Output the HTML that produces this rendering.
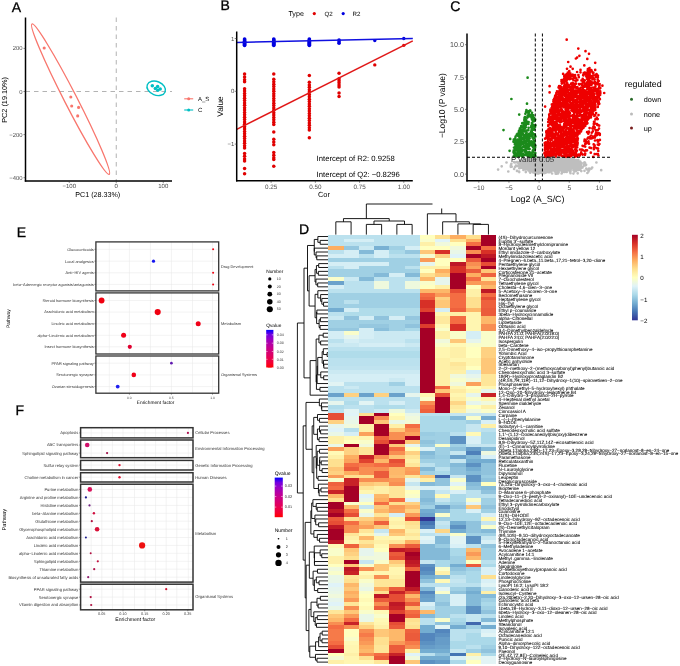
<!DOCTYPE html>
<html><head><meta charset="utf-8"><style>
html,body{margin:0;padding:0;background:#fff;}
svg{display:block;font-family:"Liberation Sans", sans-serif;text-rendering:geometricPrecision;}

</style></head><body>
<div id="w"><svg width="680" height="666" viewBox="0 0 680 666">
<rect width="680" height="666" fill="#fff"/>
<g style="filter:blur(0)">
<text x="11.80" y="12.20" font-size="14" text-anchor="start" fill="#000" stroke="#000" stroke-width="0.3">A</text>
<text x="220.60" y="9.70" font-size="14" text-anchor="start" fill="#000" stroke="#000" stroke-width="0.3">B</text>
<text x="450.30" y="10.50" font-size="14" text-anchor="start" fill="#000" stroke="#000" stroke-width="0.3">C</text>
<text x="298.90" y="233.80" font-size="14" text-anchor="start" fill="#000" stroke="#000" stroke-width="0.3">D</text>
<text x="16.80" y="237.00" font-size="14" text-anchor="start" fill="#000" stroke="#000" stroke-width="0.3">E</text>
<text x="15.60" y="414.70" font-size="14" text-anchor="start" fill="#000" stroke="#000" stroke-width="0.3">F</text>
<line x1="116.25" y1="17.50" x2="116.25" y2="180.90" stroke="#b3b3b3" stroke-width="1.0" stroke-dasharray="4.5,4"/>
<line x1="25.50" y1="91.50" x2="172.00" y2="91.50" stroke="#b3b3b3" stroke-width="1.0" stroke-dasharray="4.5,4"/>
<ellipse cx="70.6" cy="99.2" rx="84.5" ry="6.3" transform="rotate(62.8 70.6 99.2)" fill="none" stroke="#F8766D" stroke-width="1.3"/>
<circle cx="44.20" cy="48.00" r="1.55" fill="#F8766D"/>
<circle cx="70.80" cy="97.00" r="1.55" fill="#F8766D"/>
<circle cx="71.70" cy="106.00" r="1.55" fill="#F8766D"/>
<circle cx="78.60" cy="107.40" r="1.55" fill="#F8766D"/>
<circle cx="77.70" cy="115.90" r="1.55" fill="#F8766D"/>
<ellipse cx="156.2" cy="88.3" rx="9.6" ry="6.8" transform="rotate(22 156.2 88.3)" fill="none" stroke="#00BFC4" stroke-width="1.4"/>
<circle cx="152.30" cy="85.80" r="1.75" fill="#00BFC4"/>
<circle cx="155.30" cy="88.40" r="1.75" fill="#00BFC4"/>
<circle cx="157.60" cy="86.60" r="1.75" fill="#00BFC4"/>
<circle cx="157.80" cy="90.30" r="1.75" fill="#00BFC4"/>
<circle cx="160.20" cy="89.00" r="1.75" fill="#00BFC4"/>
<line x1="25.50" y1="17.50" x2="25.50" y2="181.60" stroke="#000" stroke-width="1.5" />
<line x1="24.80" y1="180.90" x2="172.00" y2="180.90" stroke="#000" stroke-width="1.5" />
<line x1="23.50" y1="48.40" x2="25.50" y2="48.40" stroke="#333" stroke-width="0.6" />
<text x="22.60" y="50.49" font-size="5.9" text-anchor="end" fill="#4d4d4d" >200</text>
<line x1="23.50" y1="91.50" x2="25.50" y2="91.50" stroke="#333" stroke-width="0.6" />
<text x="22.60" y="93.59" font-size="5.9" text-anchor="end" fill="#4d4d4d" >0</text>
<line x1="23.50" y1="134.60" x2="25.50" y2="134.60" stroke="#333" stroke-width="0.6" />
<text x="22.60" y="136.69" font-size="5.9" text-anchor="end" fill="#4d4d4d" >−200</text>
<line x1="23.50" y1="177.70" x2="25.50" y2="177.70" stroke="#333" stroke-width="0.6" />
<text x="22.60" y="179.79" font-size="5.9" text-anchor="end" fill="#4d4d4d" >−400</text>
<line x1="69.25" y1="180.90" x2="69.25" y2="182.90" stroke="#333" stroke-width="0.6" />
<text x="69.25" y="188.30" font-size="6.0" text-anchor="middle" fill="#4d4d4d" >−100</text>
<line x1="116.25" y1="180.90" x2="116.25" y2="182.90" stroke="#333" stroke-width="0.6" />
<text x="116.25" y="188.30" font-size="6.0" text-anchor="middle" fill="#4d4d4d" >0</text>
<line x1="163.25" y1="180.90" x2="163.25" y2="182.90" stroke="#333" stroke-width="0.6" />
<text x="163.25" y="188.30" font-size="6.0" text-anchor="middle" fill="#4d4d4d" >100</text>
<text x="97.80" y="197.00" font-size="7.15" text-anchor="middle" fill="#000" >PC1 (28.33%)</text>
<text x="0" y="0" font-size="7.3" text-anchor="middle" transform="translate(7.0 99.9) rotate(-90)">PC2 (19.10%)</text>
<line x1="184.20" y1="98.80" x2="193.20" y2="98.80" stroke="#F8766D" stroke-width="1.1" />
<circle cx="188.70" cy="98.80" r="1.50" fill="#F8766D"/>
<text x="198.00" y="100.93" font-size="6.0" text-anchor="start" fill="#000" >A_S</text>
<line x1="184.20" y1="110.00" x2="193.20" y2="110.00" stroke="#00BFC4" stroke-width="1.1" />
<circle cx="188.70" cy="110.00" r="1.50" fill="#00BFC4"/>
<text x="198.00" y="112.13" font-size="6.0" text-anchor="start" fill="#000" >C</text>
<circle cx="244.59" cy="73.88" r="1.75" fill="#E00000"/>
<circle cx="244.59" cy="77.04" r="1.75" fill="#E00000"/>
<circle cx="244.59" cy="79.68" r="1.75" fill="#E00000"/>
<circle cx="244.59" cy="81.80" r="1.75" fill="#E00000"/>
<circle cx="244.59" cy="88.66" r="1.75" fill="#E00000"/>
<circle cx="244.59" cy="91.04" r="1.75" fill="#E00000"/>
<circle cx="244.59" cy="93.41" r="1.75" fill="#E00000"/>
<circle cx="244.59" cy="95.79" r="1.75" fill="#E00000"/>
<circle cx="244.59" cy="98.16" r="1.75" fill="#E00000"/>
<circle cx="244.59" cy="100.54" r="1.75" fill="#E00000"/>
<circle cx="244.59" cy="102.92" r="1.75" fill="#E00000"/>
<circle cx="244.59" cy="105.29" r="1.75" fill="#E00000"/>
<circle cx="244.59" cy="107.67" r="1.75" fill="#E00000"/>
<circle cx="244.59" cy="110.04" r="1.75" fill="#E00000"/>
<circle cx="244.59" cy="112.42" r="1.75" fill="#E00000"/>
<circle cx="244.59" cy="114.80" r="1.75" fill="#E00000"/>
<circle cx="244.59" cy="117.17" r="1.75" fill="#E00000"/>
<circle cx="244.59" cy="119.55" r="1.75" fill="#E00000"/>
<circle cx="244.59" cy="121.92" r="1.75" fill="#E00000"/>
<circle cx="244.59" cy="124.30" r="1.75" fill="#E00000"/>
<circle cx="244.59" cy="126.68" r="1.75" fill="#E00000"/>
<circle cx="244.59" cy="129.05" r="1.75" fill="#E00000"/>
<circle cx="244.59" cy="131.43" r="1.75" fill="#E00000"/>
<circle cx="244.59" cy="133.80" r="1.75" fill="#E00000"/>
<circle cx="244.59" cy="136.18" r="1.75" fill="#E00000"/>
<circle cx="244.59" cy="138.56" r="1.75" fill="#E00000"/>
<circle cx="244.59" cy="140.93" r="1.75" fill="#E00000"/>
<circle cx="244.59" cy="143.31" r="1.75" fill="#E00000"/>
<circle cx="244.59" cy="145.68" r="1.75" fill="#E00000"/>
<circle cx="244.59" cy="148.06" r="1.75" fill="#E00000"/>
<circle cx="244.59" cy="153.60" r="1.75" fill="#E00000"/>
<circle cx="244.59" cy="156.24" r="1.75" fill="#E00000"/>
<circle cx="244.59" cy="158.88" r="1.75" fill="#E00000"/>
<circle cx="244.59" cy="161.00" r="1.75" fill="#E00000"/>
<circle cx="244.59" cy="168.39" r="1.75" fill="#E00000"/>
<circle cx="244.59" cy="173.67" r="1.75" fill="#E00000"/>
<circle cx="273.78" cy="73.88" r="1.75" fill="#E00000"/>
<circle cx="273.78" cy="79.16" r="1.75" fill="#E00000"/>
<circle cx="273.78" cy="81.80" r="1.75" fill="#E00000"/>
<circle cx="273.78" cy="84.17" r="1.75" fill="#E00000"/>
<circle cx="273.78" cy="86.55" r="1.75" fill="#E00000"/>
<circle cx="273.78" cy="88.92" r="1.75" fill="#E00000"/>
<circle cx="273.78" cy="91.30" r="1.75" fill="#E00000"/>
<circle cx="273.78" cy="93.68" r="1.75" fill="#E00000"/>
<circle cx="273.78" cy="96.05" r="1.75" fill="#E00000"/>
<circle cx="273.78" cy="98.43" r="1.75" fill="#E00000"/>
<circle cx="273.78" cy="100.80" r="1.75" fill="#E00000"/>
<circle cx="273.78" cy="103.18" r="1.75" fill="#E00000"/>
<circle cx="273.78" cy="105.56" r="1.75" fill="#E00000"/>
<circle cx="273.78" cy="107.93" r="1.75" fill="#E00000"/>
<circle cx="273.78" cy="110.31" r="1.75" fill="#E00000"/>
<circle cx="273.78" cy="112.68" r="1.75" fill="#E00000"/>
<circle cx="273.78" cy="115.06" r="1.75" fill="#E00000"/>
<circle cx="273.78" cy="117.44" r="1.75" fill="#E00000"/>
<circle cx="273.78" cy="119.81" r="1.75" fill="#E00000"/>
<circle cx="273.78" cy="122.19" r="1.75" fill="#E00000"/>
<circle cx="273.78" cy="124.56" r="1.75" fill="#E00000"/>
<circle cx="273.78" cy="131.96" r="1.75" fill="#E00000"/>
<circle cx="273.78" cy="139.35" r="1.75" fill="#E00000"/>
<circle cx="273.78" cy="141.99" r="1.75" fill="#E00000"/>
<circle cx="273.78" cy="144.63" r="1.75" fill="#E00000"/>
<circle cx="273.78" cy="152.55" r="1.75" fill="#E00000"/>
<circle cx="273.78" cy="155.19" r="1.75" fill="#E00000"/>
<circle cx="273.78" cy="157.83" r="1.75" fill="#E00000"/>
<circle cx="273.78" cy="159.41" r="1.75" fill="#E00000"/>
<circle cx="273.78" cy="166.28" r="1.75" fill="#E00000"/>
<circle cx="309.34" cy="75.46" r="1.75" fill="#E00000"/>
<circle cx="309.34" cy="82.32" r="1.75" fill="#E00000"/>
<circle cx="309.34" cy="84.96" r="1.75" fill="#E00000"/>
<circle cx="309.34" cy="87.34" r="1.75" fill="#E00000"/>
<circle cx="309.34" cy="89.72" r="1.75" fill="#E00000"/>
<circle cx="309.34" cy="92.09" r="1.75" fill="#E00000"/>
<circle cx="309.34" cy="94.47" r="1.75" fill="#E00000"/>
<circle cx="309.34" cy="96.84" r="1.75" fill="#E00000"/>
<circle cx="309.34" cy="99.22" r="1.75" fill="#E00000"/>
<circle cx="309.34" cy="101.60" r="1.75" fill="#E00000"/>
<circle cx="309.34" cy="103.97" r="1.75" fill="#E00000"/>
<circle cx="309.34" cy="106.35" r="1.75" fill="#E00000"/>
<circle cx="309.34" cy="108.72" r="1.75" fill="#E00000"/>
<circle cx="309.34" cy="111.10" r="1.75" fill="#E00000"/>
<circle cx="309.34" cy="113.48" r="1.75" fill="#E00000"/>
<circle cx="309.34" cy="115.85" r="1.75" fill="#E00000"/>
<circle cx="309.34" cy="118.23" r="1.75" fill="#E00000"/>
<circle cx="309.34" cy="120.60" r="1.75" fill="#E00000"/>
<circle cx="309.34" cy="122.98" r="1.75" fill="#E00000"/>
<circle cx="309.34" cy="125.36" r="1.75" fill="#E00000"/>
<circle cx="309.34" cy="127.73" r="1.75" fill="#E00000"/>
<circle cx="309.34" cy="130.11" r="1.75" fill="#E00000"/>
<circle cx="309.34" cy="137.76" r="1.75" fill="#E00000"/>
<circle cx="339.05" cy="73.35" r="1.75" fill="#E00000"/>
<circle cx="339.05" cy="78.63" r="1.75" fill="#E00000"/>
<circle cx="339.05" cy="80.74" r="1.75" fill="#E00000"/>
<circle cx="339.05" cy="82.85" r="1.75" fill="#E00000"/>
<circle cx="339.05" cy="84.96" r="1.75" fill="#E00000"/>
<circle cx="339.05" cy="87.08" r="1.75" fill="#E00000"/>
<circle cx="339.05" cy="92.88" r="1.75" fill="#E00000"/>
<circle cx="339.05" cy="96.58" r="1.75" fill="#E00000"/>
<circle cx="374.79" cy="64.90" r="1.70" fill="#E00000"/>
<circle cx="403.80" cy="45.36" r="1.70" fill="#E00000"/>
<circle cx="244.59" cy="45.36" r="1.85" fill="#0000E0"/>
<circle cx="244.59" cy="44.31" r="1.85" fill="#0000E0"/>
<circle cx="244.59" cy="43.25" r="1.85" fill="#0000E0"/>
<circle cx="244.59" cy="42.20" r="1.85" fill="#0000E0"/>
<circle cx="244.59" cy="41.14" r="1.85" fill="#0000E0"/>
<circle cx="244.59" cy="40.08" r="1.85" fill="#0000E0"/>
<circle cx="244.59" cy="39.03" r="1.85" fill="#0000E0"/>
<circle cx="273.78" cy="45.36" r="1.85" fill="#0000E0"/>
<circle cx="273.78" cy="44.31" r="1.85" fill="#0000E0"/>
<circle cx="273.78" cy="43.25" r="1.85" fill="#0000E0"/>
<circle cx="273.78" cy="42.20" r="1.85" fill="#0000E0"/>
<circle cx="273.78" cy="41.14" r="1.85" fill="#0000E0"/>
<circle cx="273.78" cy="40.08" r="1.85" fill="#0000E0"/>
<circle cx="273.78" cy="39.03" r="1.85" fill="#0000E0"/>
<circle cx="309.34" cy="45.36" r="1.85" fill="#0000E0"/>
<circle cx="309.34" cy="44.31" r="1.85" fill="#0000E0"/>
<circle cx="309.34" cy="43.25" r="1.85" fill="#0000E0"/>
<circle cx="309.34" cy="42.20" r="1.85" fill="#0000E0"/>
<circle cx="309.34" cy="41.14" r="1.85" fill="#0000E0"/>
<circle cx="309.34" cy="40.08" r="1.85" fill="#0000E0"/>
<circle cx="309.34" cy="39.03" r="1.85" fill="#0000E0"/>
<circle cx="339.05" cy="43.25" r="1.80" fill="#0000E0"/>
<circle cx="339.05" cy="41.67" r="1.80" fill="#0000E0"/>
<circle cx="339.05" cy="40.08" r="1.80" fill="#0000E0"/>
<circle cx="374.79" cy="40.61" r="1.70" fill="#0000E0"/>
<circle cx="403.80" cy="38.50" r="1.70" fill="#0000E0"/>
<line x1="236.70" y1="42.46" x2="412.80" y2="38.50" stroke="#1010E0" stroke-width="1.6" />
<line x1="236.70" y1="129.32" x2="412.80" y2="40.88" stroke="#E01818" stroke-width="1.5" />
<line x1="236.70" y1="31.50" x2="236.70" y2="181.50" stroke="#000" stroke-width="1.5" />
<line x1="236.00" y1="180.80" x2="412.80" y2="180.80" stroke="#000" stroke-width="1.5" />
<line x1="234.70" y1="38.50" x2="236.70" y2="38.50" stroke="#333" stroke-width="0.6" />
<text x="234.30" y="40.63" font-size="6.0" text-anchor="end" fill="#4d4d4d" >1</text>
<line x1="234.70" y1="91.30" x2="236.70" y2="91.30" stroke="#333" stroke-width="0.6" />
<text x="234.30" y="93.43" font-size="6.0" text-anchor="end" fill="#4d4d4d" >0</text>
<line x1="234.70" y1="144.10" x2="236.70" y2="144.10" stroke="#333" stroke-width="0.6" />
<text x="234.30" y="146.23" font-size="6.0" text-anchor="end" fill="#4d4d4d" >−1</text>
<line x1="271.12" y1="180.80" x2="271.12" y2="182.80" stroke="#333" stroke-width="0.6" />
<text x="271.12" y="188.70" font-size="6.3" text-anchor="middle" fill="#4d4d4d" >0.25</text>
<line x1="315.35" y1="180.80" x2="315.35" y2="182.80" stroke="#333" stroke-width="0.6" />
<text x="315.35" y="188.70" font-size="6.3" text-anchor="middle" fill="#4d4d4d" >0.50</text>
<line x1="359.58" y1="180.80" x2="359.58" y2="182.80" stroke="#333" stroke-width="0.6" />
<text x="359.58" y="188.70" font-size="6.3" text-anchor="middle" fill="#4d4d4d" >0.75</text>
<line x1="403.80" y1="180.80" x2="403.80" y2="182.80" stroke="#333" stroke-width="0.6" />
<text x="403.80" y="188.70" font-size="6.3" text-anchor="middle" fill="#4d4d4d" >1.00</text>
<text x="324.00" y="197.20" font-size="7.45" text-anchor="middle" fill="#000" >Cor</text>
<text x="0" y="0" font-size="8.2" text-anchor="middle" transform="translate(223.2 106.5) rotate(-90)">Value</text>
<text x="316.60" y="160.70" font-size="7.7" text-anchor="start" fill="#000" >Intercept of R2: 0.9258</text>
<text x="316.60" y="176.80" font-size="7.7" text-anchor="start" fill="#000" >Intercept of Q2: −0.8296</text>
<text x="288.40" y="16.30" font-size="7.15" text-anchor="start" fill="#000" >Type</text>
<circle cx="314.30" cy="13.60" r="1.60" fill="#E00000"/>
<text x="324.40" y="15.90" font-size="6.2" text-anchor="start" fill="#000" >Q2</text>
<circle cx="343.20" cy="13.60" r="1.60" fill="#0000E0"/>
<text x="352.60" y="15.90" font-size="6.2" text-anchor="start" fill="#000" >R2</text>
<path d="M550.0 158.3h0M546.2 166.7h0M543.6 158.6h0M550.8 159.0h0M543.1 163.1h0M556.7 165.8h0M551.4 163.3h0M549.5 161.9h0M531.3 160.2h0M523.6 159.5h0M524.4 168.7h0M532.4 171.2h0M552.1 162.4h0M515.0 162.4h0M549.3 162.4h0M528.7 166.9h0M552.0 167.3h0M538.7 167.3h0M538.8 173.3h0M562.2 168.2h0M548.4 158.4h0M550.8 158.7h0M551.0 159.8h0M528.5 163.1h0M551.6 158.5h0M577.7 163.3h0M533.3 164.6h0M558.0 168.2h0M559.4 164.4h0M559.2 161.7h0M540.6 161.1h0M543.5 168.2h0M533.5 166.8h0M547.2 169.5h0M565.8 167.2h0M538.9 165.6h0M522.3 162.6h0M548.6 158.8h0M559.5 158.4h0M544.8 168.3h0M571.1 159.2h0M545.7 167.6h0M548.3 160.9h0M534.5 164.7h0M543.8 166.5h0M559.0 158.7h0M559.2 162.2h0M564.5 160.2h0M558.0 164.4h0M554.8 168.8h0M521.7 162.8h0M537.5 162.6h0M581.1 166.6h0M541.3 160.6h0M556.8 162.5h0M547.1 158.2h0M557.2 158.0h0M548.9 159.7h0M535.3 168.7h0M538.1 159.4h0M552.6 161.1h0M541.8 162.6h0M522.2 167.7h0M555.0 164.5h0M561.7 164.9h0M560.4 161.9h0M560.8 166.0h0M528.6 164.2h0M569.9 163.2h0M546.2 158.3h0M536.4 162.0h0M542.4 158.6h0M539.0 158.3h0M532.2 164.1h0M547.8 157.7h0M550.1 159.2h0M545.4 160.1h0M550.1 164.9h0M545.8 167.1h0M538.8 167.1h0M540.6 159.0h0M554.6 162.9h0M529.8 161.7h0M541.2 157.8h0M560.1 161.3h0M550.9 167.5h0M556.3 163.8h0M548.0 159.1h0M533.1 169.3h0M542.9 159.3h0M549.5 162.3h0M542.9 171.0h0M545.8 172.1h0M550.3 166.3h0M559.4 162.0h0M542.1 161.6h0M563.1 160.9h0M548.0 165.3h0M560.8 162.4h0M562.7 161.1h0M571.0 167.8h0M561.9 171.3h0M562.1 158.0h0M570.5 171.1h0M526.5 166.0h0M535.9 161.5h0M561.6 165.4h0M520.7 161.7h0M550.6 159.6h0M550.5 167.2h0M529.0 162.0h0M536.5 169.6h0M557.0 161.1h0M555.6 159.3h0M540.8 160.2h0M537.7 158.7h0M539.1 171.9h0M554.7 166.9h0M530.6 158.8h0M548.7 166.2h0M529.8 161.7h0M560.3 164.4h0M551.1 160.7h0M566.0 164.7h0M519.4 164.3h0M522.6 167.4h0M540.4 163.3h0M568.4 160.5h0M533.7 165.8h0M565.6 160.2h0M550.6 168.5h0M550.5 169.9h0M557.6 166.0h0M535.5 159.4h0M540.5 167.5h0M532.3 159.2h0M549.9 160.2h0M573.8 161.4h0M543.5 159.1h0M555.2 164.4h0M553.4 162.4h0M551.1 167.3h0M546.2 162.2h0M566.4 159.0h0M549.9 167.5h0M542.3 161.0h0M524.8 159.3h0M563.3 159.2h0M559.2 164.1h0M552.9 167.5h0M547.1 159.7h0M570.9 164.2h0M549.1 163.7h0M541.1 159.0h0M557.0 164.2h0M545.2 160.1h0M549.0 158.9h0M544.5 164.2h0M546.9 159.7h0M527.9 168.7h0M538.1 159.3h0M539.3 168.9h0M530.9 158.4h0M545.6 161.7h0M552.6 159.8h0M536.2 158.6h0M577.9 161.7h0M547.1 163.0h0M554.4 165.2h0M534.6 160.6h0M537.4 170.7h0M571.1 159.6h0M557.6 166.4h0M547.2 166.7h0M531.2 163.3h0M570.5 168.1h0M536.9 163.1h0M543.0 160.7h0M547.1 162.3h0M554.1 162.4h0M549.4 162.2h0M548.8 159.3h0M575.9 168.4h0M550.7 169.0h0M555.3 157.9h0M530.4 158.6h0M559.7 162.7h0M526.2 159.7h0M540.5 165.3h0M581.3 171.1h0M539.1 163.3h0M549.2 159.6h0M534.0 160.2h0M534.0 159.4h0M564.7 160.4h0M543.4 167.8h0M548.1 167.8h0M545.3 161.5h0M529.9 159.0h0M547.3 162.4h0M563.8 158.1h0M539.1 159.5h0M555.4 159.3h0M564.2 161.3h0M533.1 164.0h0M561.1 160.6h0M523.6 166.1h0M558.2 167.1h0M544.6 159.6h0M534.3 160.6h0M547.5 157.7h0M541.0 163.9h0M526.8 163.4h0M563.6 169.9h0M564.8 162.3h0M535.5 171.4h0M543.6 161.1h0M542.5 170.1h0M545.7 166.8h0M532.1 159.3h0M562.2 163.5h0M550.0 160.2h0M536.4 159.6h0M542.8 161.3h0M539.1 160.8h0M546.8 163.9h0M558.1 164.1h0M558.3 164.3h0M534.9 160.2h0M550.7 164.8h0M537.4 164.5h0M526.1 160.9h0M535.0 160.7h0M549.1 158.6h0M528.8 162.8h0M539.6 160.8h0M555.2 163.7h0M539.9 165.7h0M539.5 163.7h0M536.5 163.6h0M524.5 163.1h0M545.5 158.4h0M549.5 166.0h0M550.6 162.7h0M535.5 170.2h0M535.9 167.4h0M560.3 159.2h0M536.6 163.3h0M545.0 163.2h0M510.8 166.8h0M535.0 165.5h0M535.0 160.1h0M529.1 161.0h0M569.2 164.0h0M544.4 160.5h0M523.7 162.6h0M549.5 161.0h0M548.7 162.9h0M549.0 161.0h0M567.9 158.5h0M548.1 165.3h0M549.1 170.3h0M539.7 159.8h0M535.5 167.5h0M548.5 165.1h0M547.4 162.8h0M536.8 161.1h0M542.3 159.7h0M549.9 164.7h0M550.9 163.4h0M541.4 168.4h0M521.2 163.0h0M552.0 168.4h0M544.1 165.7h0M536.4 171.9h0M542.3 167.9h0M533.3 172.5h0M551.9 165.9h0M543.9 167.5h0M526.9 164.8h0M553.3 159.1h0M555.3 158.1h0M546.4 160.7h0M555.9 160.8h0M529.0 160.6h0M566.2 158.4h0M553.2 169.0h0M563.0 171.6h0M514.8 162.5h0M529.3 162.2h0M541.1 160.7h0M544.8 157.8h0M574.2 165.8h0M548.5 172.2h0M532.5 161.1h0M555.9 158.8h0M551.5 164.9h0M539.2 168.7h0M560.1 165.5h0M564.8 158.5h0M545.7 158.3h0M536.0 159.2h0M558.0 173.4h0M554.2 166.4h0M544.9 159.3h0M538.0 167.1h0M545.3 157.9h0M555.2 160.3h0M549.7 159.1h0M511.7 166.7h0M557.5 162.1h0M573.5 170.2h0M554.3 159.6h0M560.9 165.4h0M549.4 163.2h0M577.1 166.7h0M549.3 161.0h0M568.6 164.8h0M570.3 161.3h0M547.4 171.8h0M560.9 160.4h0M529.0 161.0h0M554.6 163.0h0M528.8 164.1h0M556.8 165.4h0M543.4 166.8h0M546.6 167.7h0M537.3 163.3h0M552.8 159.9h0M559.3 166.0h0M537.2 162.8h0M545.1 168.8h0M552.9 163.0h0M541.2 170.4h0M566.8 159.3h0M577.7 173.3h0M553.0 164.4h0M548.2 170.1h0M551.6 159.1h0M538.5 163.5h0M530.0 165.7h0M539.4 164.2h0M552.9 169.9h0M545.3 157.8h0M537.6 161.2h0M535.7 162.2h0M549.6 161.5h0M545.1 162.0h0M559.7 161.8h0M535.6 168.1h0M585.1 163.2h0M548.4 162.1h0M578.5 165.5h0M544.9 164.4h0M556.8 160.5h0M542.9 169.2h0M573.7 159.6h0M559.4 166.4h0M540.0 159.0h0M547.3 171.1h0M559.4 167.4h0M526.5 159.6h0M539.7 167.8h0M541.6 162.4h0M517.9 165.7h0M553.5 164.6h0M577.4 161.8h0M525.0 160.8h0M533.2 160.1h0M551.1 158.5h0M554.7 163.2h0M554.1 162.5h0M545.6 168.4h0M542.5 170.8h0M526.6 169.2h0M575.5 165.7h0M568.3 166.2h0M540.6 165.1h0M549.2 166.2h0M545.9 159.7h0M543.9 158.4h0M534.9 165.6h0M581.6 167.8h0M546.6 163.4h0M559.8 158.1h0M547.1 160.2h0M553.7 168.6h0M571.5 161.4h0M551.1 158.2h0M570.6 169.9h0M540.7 158.1h0M559.2 158.3h0M569.3 170.5h0M560.4 163.3h0M540.7 160.1h0M537.2 157.8h0M544.8 159.2h0M541.0 159.6h0M554.3 157.4h0M547.2 163.2h0M539.5 158.1h0M533.1 158.6h0M541.0 164.4h0M549.2 163.0h0M559.6 164.3h0M554.9 168.4h0M558.7 159.9h0M567.1 161.3h0M555.4 166.6h0M529.8 166.4h0M546.4 159.7h0M531.1 165.6h0M551.4 167.4h0M526.3 161.7h0M548.7 165.5h0M551.2 171.5h0M557.6 161.8h0M549.4 164.7h0M585.6 165.1h0M543.5 160.3h0M560.8 157.9h0M543.2 166.2h0M536.4 157.9h0M543.4 161.4h0M529.9 158.9h0M552.0 162.4h0M525.4 161.8h0M561.0 165.2h0M548.9 171.4h0M558.7 170.1h0M533.7 165.3h0M570.0 171.8h0M566.0 163.9h0M563.0 160.6h0M547.8 166.3h0M560.6 158.5h0M548.8 169.5h0M566.7 171.9h0M525.8 172.1h0M550.2 161.0h0M568.2 168.4h0M561.2 165.1h0M562.0 169.8h0M560.7 160.8h0M552.1 161.2h0M537.1 166.3h0M556.3 157.8h0M543.9 161.0h0M546.1 172.4h0M548.1 170.3h0M549.7 160.4h0M536.5 159.8h0M559.2 167.7h0M552.5 158.7h0M565.7 166.7h0M578.0 165.4h0M560.2 162.7h0M551.4 163.4h0M531.7 160.9h0M549.3 158.5h0M552.6 165.2h0M553.8 157.9h0M550.5 169.5h0M542.7 157.5h0M562.4 170.8h0M552.0 162.6h0M564.3 158.3h0M540.2 168.8h0M554.2 163.9h0M566.4 161.7h0M566.5 162.2h0M534.7 159.6h0M548.6 160.3h0M545.0 163.0h0M566.5 162.7h0M555.6 163.6h0M541.0 170.7h0M549.5 172.2h0M543.1 164.3h0M550.4 165.5h0M544.0 167.7h0M552.9 157.7h0M566.6 163.6h0M581.4 167.3h0M561.2 165.8h0M575.7 166.0h0M522.9 160.2h0M559.2 159.4h0M560.2 164.4h0M556.3 170.2h0M548.9 161.1h0M518.6 163.3h0M535.6 158.0h0M546.8 159.2h0M555.1 157.6h0M537.3 158.9h0M549.6 161.1h0M547.8 167.2h0M548.0 165.6h0M550.2 168.7h0M557.9 158.2h0M545.2 172.5h0M547.7 168.5h0M537.5 161.9h0M544.4 163.6h0M538.5 161.0h0M555.4 164.0h0M578.0 160.6h0M574.6 161.6h0M540.8 158.5h0M556.0 162.6h0M550.6 160.6h0M524.9 169.1h0M519.2 172.1h0M539.9 157.9h0M546.9 167.9h0M530.1 170.0h0M535.2 161.9h0M536.5 169.3h0M535.3 159.7h0M530.9 168.8h0M545.5 161.1h0M557.8 158.7h0M552.7 162.5h0M536.5 162.2h0M546.5 160.0h0M549.3 157.4h0M522.5 165.1h0M562.2 159.8h0M539.0 161.2h0M530.8 163.1h0M583.8 165.7h0M534.6 166.0h0M544.3 165.2h0M538.6 164.0h0M562.2 158.2h0M544.8 157.4h0M528.5 170.4h0M519.0 171.5h0M541.2 167.5h0M575.9 166.4h0M534.0 159.6h0M566.0 165.4h0M536.7 173.1h0M527.7 159.1h0M516.6 162.2h0M546.2 165.5h0M552.3 165.6h0M547.0 169.8h0M520.3 162.2h0M540.0 168.3h0M553.0 165.5h0M541.1 160.0h0M554.8 170.6h0M578.2 160.0h0M529.7 160.6h0M584.8 162.6h0M533.5 159.1h0M547.1 158.5h0M547.0 160.1h0M560.3 166.1h0M543.8 161.6h0M549.3 157.9h0M547.4 167.3h0M555.0 159.1h0M554.9 162.5h0M548.2 160.8h0M560.5 169.8h0M568.5 159.3h0M539.6 170.8h0M540.6 164.3h0M540.0 161.8h0M539.1 165.0h0M539.8 161.5h0M549.4 160.2h0M558.9 159.3h0M539.4 157.9h0M554.4 168.7h0M542.9 165.5h0M584.0 164.5h0M551.9 169.7h0M558.5 170.4h0M535.3 159.0h0M536.8 168.8h0M551.3 162.9h0M538.2 164.1h0M547.7 158.1h0M564.5 168.2h0M538.6 163.0h0M537.1 169.8h0M550.6 158.1h0M544.8 166.1h0M556.9 165.2h0M546.5 169.8h0M534.0 170.0h0M519.6 167.1h0M553.0 158.3h0M538.7 166.3h0M549.9 164.1h0M523.9 161.4h0M538.1 160.6h0M553.1 157.6h0M562.4 159.0h0M562.8 164.8h0M565.7 160.6h0M547.9 164.2h0M561.4 162.1h0M552.9 157.8h0M544.8 157.4h0M541.9 164.6h0M537.6 168.8h0M562.3 167.6h0M548.8 158.3h0M538.4 160.9h0M546.5 169.6h0M574.2 163.8h0M529.2 161.7h0M529.7 171.2h0M568.1 159.1h0M528.9 163.1h0M567.4 158.7h0M540.6 163.9h0M553.9 160.1h0M566.4 160.5h0M566.4 170.2h0M559.1 157.8h0M548.1 159.5h0M544.6 163.2h0M545.0 161.3h0M570.0 161.4h0M553.0 160.1h0M564.7 164.1h0M515.9 165.5h0M543.6 166.4h0M552.7 163.4h0M543.2 159.0h0M578.1 166.2h0M532.9 159.0h0M555.9 162.0h0M560.9 161.1h0M537.2 168.6h0M560.6 160.9h0M554.5 161.0h0M589.1 168.6h0M569.2 166.5h0M548.2 160.5h0M562.4 170.6h0M554.5 159.2h0M542.5 165.2h0M558.0 169.8h0M555.8 161.7h0M571.0 164.1h0M529.4 161.0h0M530.0 160.8h0M538.2 169.8h0M558.1 161.3h0M563.9 158.8h0M547.2 159.5h0M552.4 160.3h0M549.5 165.1h0M526.3 163.4h0M537.4 161.3h0M561.6 164.4h0M560.7 164.9h0M565.3 163.6h0M558.6 172.3h0M514.1 168.9h0M553.0 170.1h0M553.9 158.3h0M530.4 169.5h0M575.0 169.3h0M546.9 168.8h0M562.2 163.0h0M559.9 165.3h0M557.5 160.3h0M568.5 165.0h0M547.0 168.4h0M562.2 163.7h0M555.3 159.1h0M532.1 168.8h0M540.1 159.3h0M532.4 161.9h0M524.3 159.4h0M527.3 162.1h0M555.6 164.4h0M529.2 159.2h0M562.6 164.3h0M545.4 160.4h0M545.3 159.3h0M531.7 161.5h0M554.2 163.1h0M536.3 164.2h0M558.0 167.4h0M558.6 163.2h0M525.2 160.9h0M555.7 157.9h0M520.3 163.1h0M560.4 159.3h0M519.6 162.4h0M534.3 159.5h0M567.1 161.2h0M552.0 164.8h0M558.6 168.1h0M515.0 167.0h0M559.8 158.9h0M537.3 160.8h0M572.0 167.4h0M549.7 169.6h0M547.5 157.8h0M526.3 161.1h0M536.2 162.9h0M548.4 163.4h0M568.0 163.2h0M566.7 165.7h0M545.3 157.4h0M532.7 167.0h0M531.6 168.8h0M572.6 160.1h0M553.1 163.6h0M534.0 169.4h0M570.1 165.3h0M556.7 158.1h0M559.7 168.3h0M561.1 168.1h0M553.8 157.8h0M541.9 167.4h0M526.1 162.2h0M530.2 172.7h0M536.7 166.4h0M556.2 162.8h0M538.7 163.4h0M560.3 157.7h0M561.8 170.3h0M570.3 167.1h0M570.7 167.8h0M511.4 163.8h0M571.8 160.0h0M552.3 165.2h0M551.4 163.4h0M540.5 163.8h0M553.0 170.0h0M551.1 162.9h0M540.0 161.1h0M523.4 169.9h0M568.4 165.8h0M557.3 159.8h0M535.5 160.9h0M542.8 165.5h0M560.4 158.3h0M541.9 164.8h0M553.9 161.0h0M564.2 165.1h0M561.6 173.5h0M547.6 158.7h0M537.4 164.7h0M544.5 160.8h0M560.3 164.1h0M547.2 160.4h0M572.8 168.0h0M574.8 164.3h0M570.6 163.1h0M559.9 166.6h0M533.0 167.7h0M573.5 164.8h0M560.6 164.6h0M540.7 172.1h0M537.6 159.5h0M541.2 163.5h0M552.0 162.1h0M529.8 159.7h0M566.4 165.5h0M544.9 158.4h0M557.7 160.9h0M526.1 160.8h0M591.4 168.6h0M564.1 163.5h0M548.4 162.9h0M533.1 160.3h0M570.8 168.8h0M544.0 164.2h0M543.6 157.8h0M537.0 158.0h0M532.1 161.3h0M548.5 164.3h0M549.9 158.9h0M543.6 170.0h0M534.0 165.4h0M570.5 173.2h0M571.9 159.6h0M537.4 161.4h0M567.5 167.1h0M550.0 159.6h0M548.3 167.9h0M577.5 165.6h0M576.0 170.9h0M543.2 163.4h0M559.1 164.3h0M540.4 164.4h0M526.1 163.8h0M561.3 159.6h0M555.3 163.2h0M559.2 159.9h0M580.3 161.8h0M544.9 160.1h0M555.8 160.4h0M551.0 166.1h0M521.9 165.5h0M545.9 160.8h0M526.5 160.9h0M549.4 160.9h0M533.8 171.5h0M532.6 166.4h0M568.6 168.1h0M542.7 164.8h0M544.5 162.3h0M553.1 166.3h0M518.5 162.7h0M535.6 170.4h0M537.8 162.0h0M554.2 163.5h0M551.7 162.4h0M539.6 166.1h0M573.2 160.8h0M540.9 171.3h0M537.3 167.3h0M553.8 157.5h0M538.3 162.4h0M565.7 170.9h0M552.6 157.9h0M538.3 163.9h0M580.1 168.9h0M542.6 159.5h0M547.7 160.6h0M552.6 166.6h0M552.9 160.3h0M553.8 163.3h0M529.9 172.1h0M549.0 165.6h0M520.1 168.0h0M544.6 163.8h0M546.4 168.1h0M555.6 167.3h0M537.0 168.1h0M552.0 167.1h0M542.0 159.0h0M549.1 169.5h0M535.3 163.0h0M561.7 159.7h0M560.8 162.9h0M525.9 164.3h0M544.3 168.0h0M542.8 166.1h0M520.3 161.9h0M530.3 167.5h0M544.2 165.3h0M530.9 164.9h0M549.8 160.6h0M557.8 158.8h0M539.0 163.4h0M556.2 166.5h0M567.1 170.4h0M539.1 161.0h0M564.3 166.1h0M564.6 164.2h0M567.0 169.8h0M548.6 169.3h0M552.2 158.4h0M537.2 158.6h0M560.7 166.7h0M559.0 163.4h0M553.8 157.7h0M548.5 165.0h0M539.4 172.5h0M517.0 170.9h0M540.8 160.6h0M524.4 160.6h0M546.7 165.0h0M537.1 158.4h0M581.1 166.5h0M540.2 158.1h0M535.8 169.9h0M573.9 162.0h0M526.0 163.1h0M565.3 158.7h0M566.0 167.5h0M547.6 164.8h0M530.3 167.3h0M540.6 157.8h0M551.0 165.5h0M561.0 169.6h0M556.7 159.0h0M555.1 161.5h0M543.1 160.4h0M564.1 164.5h0M534.7 165.9h0M539.5 158.5h0M551.5 164.5h0M559.8 162.9h0M555.6 164.7h0M556.3 164.8h0M542.3 157.9h0M562.9 159.5h0M520.0 162.4h0M539.9 159.1h0M530.6 161.1h0M533.9 166.1h0M555.1 166.9h0M560.4 163.6h0M535.2 160.0h0M548.9 157.8h0M575.5 166.6h0M553.4 158.3h0M569.5 165.5h0M563.9 159.4h0M565.5 159.8h0M544.9 163.1h0M554.4 164.2h0M581.0 164.5h0M538.6 162.4h0M533.6 158.1h0M566.7 171.5h0M541.2 162.4h0M550.2 159.0h0M557.8 160.3h0M544.0 162.2h0M546.2 159.0h0M532.9 158.9h0M547.5 159.4h0M531.0 165.2h0M555.0 164.9h0M550.8 166.6h0M564.3 169.3h0M545.8 163.6h0M564.1 166.0h0M565.5 160.3h0M566.5 162.0h0M559.9 162.1h0M555.5 166.0h0M553.1 160.4h0M542.9 157.8h0M548.5 159.1h0M548.7 158.1h0M578.1 164.1h0M532.2 158.9h0M545.6 161.4h0M552.8 161.7h0M536.1 158.7h0M559.3 160.1h0M540.3 170.4h0M554.2 163.1h0M549.7 165.5h0M517.7 162.2h0M557.4 165.6h0M531.4 159.6h0M553.6 159.0h0M569.5 165.9h0M561.2 161.1h0M549.1 158.4h0M549.9 159.8h0M551.7 164.1h0M546.1 158.3h0M537.5 158.5h0M549.2 167.8h0M548.3 165.3h0M577.7 164.3h0M556.2 159.8h0M580.3 169.3h0M548.7 159.2h0M554.2 158.6h0M549.7 164.4h0M537.7 167.8h0M536.1 166.8h0M545.4 164.2h0M562.8 163.3h0M534.5 161.3h0M530.6 159.4h0M548.5 158.3h0M540.5 159.4h0M539.6 162.5h0M571.0 162.4h0M548.3 159.4h0M556.8 159.0h0M547.9 166.5h0M559.6 166.2h0M547.7 171.9h0M546.5 161.7h0M558.2 159.7h0M547.8 166.8h0M566.9 169.1h0M539.1 166.7h0M569.6 158.9h0M533.6 162.4h0M543.0 160.5h0M550.4 164.9h0M533.2 167.5h0M540.5 161.2h0M558.7 171.1h0M545.3 164.2h0M538.5 161.7h0M559.0 159.2h0M550.0 160.6h0M556.6 161.4h0M569.0 170.3h0M548.7 162.9h0M553.4 159.6h0M587.4 173.0h0M520.9 166.7h0M551.5 167.0h0M537.9 164.1h0M554.7 171.3h0M537.6 157.8h0M542.5 164.6h0M530.8 167.9h0M559.0 158.9h0M549.0 159.4h0M544.7 172.2h0M534.5 160.5h0M565.2 165.6h0M525.6 167.7h0M563.5 169.1h0M554.1 169.7h0M541.5 159.7h0M550.0 160.7h0M528.8 162.3h0M568.3 161.1h0M531.2 166.4h0M540.9 169.1h0M561.2 161.1h0M543.3 164.4h0M551.9 167.0h0M551.4 161.6h0M539.4 171.3h0M542.3 157.5h0M573.1 161.3h0M561.1 161.1h0M556.7 161.2h0M549.7 169.2h0M536.8 172.1h0M530.8 160.4h0M557.1 159.9h0M540.8 168.8h0M545.0 160.4h0M533.5 163.1h0M525.9 162.3h0M550.2 170.3h0M535.9 159.2h0M575.9 160.8h0M571.6 162.7h0M544.9 160.0h0M564.4 163.0h0M537.0 161.1h0M564.5 172.0h0M577.7 168.5h0M557.5 160.2h0M579.0 164.9h0M519.3 164.7h0M548.0 164.3h0M545.3 161.1h0M558.2 164.8h0M549.1 160.3h0M557.1 161.8h0M551.0 159.7h0M537.2 160.4h0M530.7 165.4h0M563.2 164.4h0M539.3 158.6h0M556.5 159.0h0M553.9 160.0h0M542.2 168.4h0M528.2 162.7h0M552.1 168.2h0M566.1 165.1h0M510.9 165.4h0M529.8 165.1h0M584.5 170.8h0M551.0 159.5h0M554.8 164.5h0M567.8 165.9h0M571.8 159.4h0M553.8 158.6h0M559.8 160.5h0M540.2 162.3h0M549.2 164.4h0M532.0 159.1h0M558.4 159.7h0M556.4 167.5h0M556.7 161.8h0M557.8 166.5h0M523.6 166.2h0M546.3 172.1h0M536.5 161.7h0M544.7 165.6h0M556.8 157.5h0M569.8 168.2h0M546.5 163.3h0M539.0 163.1h0M542.4 158.6h0M547.5 170.4h0M546.3 157.4h0M552.2 166.7h0M558.6 160.5h0M527.4 165.5h0M526.6 166.3h0M539.3 166.3h0M541.3 172.9h0M569.4 160.3h0M545.2 161.5h0M562.1 160.9h0M534.2 160.5h0M530.4 158.6h0M585.6 165.3h0M563.2 166.1h0M534.7 161.4h0M546.7 165.6h0M576.7 169.9h0M555.2 169.1h0M541.9 159.7h0M562.1 164.4h0M555.7 158.8h0M521.8 166.3h0M581.6 163.2h0M564.0 157.9h0M548.3 160.7h0M541.8 170.2h0M538.8 159.8h0M523.5 167.1h0M551.2 162.2h0M540.0 160.0h0M533.2 159.9h0M538.7 162.9h0M579.1 161.8h0M540.0 166.6h0M564.7 161.0h0M570.1 159.7h0M550.9 157.8h0M560.4 157.7h0M535.4 160.4h0M544.7 163.7h0M551.4 171.0h0M536.3 169.4h0M536.9 167.0h0M577.2 166.2h0M566.4 158.6h0M548.9 160.8h0M535.0 159.6h0M551.3 169.9h0M535.2 168.0h0M546.3 158.1h0M549.9 163.7h0M551.7 159.6h0M540.7 167.8h0M560.3 158.0h0M567.8 159.8h0M544.5 165.5h0M552.3 168.2h0M542.8 170.4h0M552.4 160.1h0M568.5 161.1h0M542.0 159.0h0M539.8 159.0h0M546.9 158.0h0M544.8 171.1h0M552.6 164.1h0M550.5 167.6h0M551.2 166.7h0M553.3 157.6h0M553.8 163.3h0M547.5 165.9h0M542.3 159.5h0M537.1 160.6h0M549.7 160.1h0M546.5 168.6h0M547.6 165.5h0M561.4 158.6h0M540.6 160.0h0M573.0 165.5h0M545.9 157.4h0M565.0 160.0h0M544.4 157.4h0M555.4 160.8h0M547.6 163.1h0M531.4 166.3h0M555.4 159.6h0M533.7 159.5h0M545.4 166.5h0M562.4 158.3h0M589.2 169.9h0M541.7 157.9h0M541.7 166.1h0M563.4 159.8h0M558.1 164.2h0M559.1 166.5h0M535.2 158.6h0M530.7 159.5h0M550.8 163.3h0M560.4 166.9h0M552.4 166.0h0M551.1 162.4h0M557.2 159.5h0M561.8 163.6h0M545.9 168.5h0M543.8 161.9h0M546.2 158.3h0M544.5 168.9h0M562.5 162.3h0M559.4 168.0h0M527.0 161.6h0M542.8 159.3h0M533.6 159.6h0M546.6 160.6h0M544.0 163.9h0M539.5 158.7h0M558.0 164.3h0M543.6 167.7h0M552.3 158.3h0M546.4 159.8h0M558.1 171.4h0M557.5 163.0h0M545.8 171.7h0M555.2 164.9h0M551.7 167.3h0M569.2 164.6h0M539.2 160.9h0M552.3 170.4h0M549.2 157.9h0M546.8 158.0h0M577.3 163.1h0M553.7 164.6h0M564.1 167.0h0M565.0 162.9h0M553.5 164.0h0M554.1 161.0h0M539.1 161.5h0M540.6 161.4h0M550.9 164.3h0M526.7 159.4h0M562.0 172.8h0M573.1 160.1h0M533.2 159.8h0M556.1 158.3h0M562.9 163.6h0M541.7 166.9h0M539.5 166.2h0M529.8 160.2h0M558.0 157.5h0M549.0 159.7h0M555.3 169.1h0M539.1 158.1h0M550.4 158.1h0M562.9 158.7h0M550.2 161.1h0M559.8 160.4h0M565.5 162.6h0M552.1 173.5h0M557.2 159.0h0M563.1 170.2h0M562.1 162.7h0M567.3 159.2h0M521.2 160.2h0M551.4 163.3h0M547.2 157.7h0M579.1 163.3h0M552.0 159.1h0M557.5 163.7h0M576.5 160.6h0M518.8 163.6h0M545.1 167.6h0M520.3 162.1h0M573.2 158.9h0M566.2 167.9h0M582.5 167.5h0M547.3 163.1h0M557.2 158.2h0M559.8 163.9h0M525.1 160.3h0M545.1 162.0h0M554.7 162.8h0M531.2 166.4h0M542.7 164.3h0M565.5 164.3h0M556.8 169.6h0M534.9 161.1h0M536.9 163.5h0M556.3 161.2h0M531.4 160.5h0M539.3 170.4h0M548.3 157.8h0M562.8 158.2h0M541.7 170.6h0M545.8 163.8h0M551.7 157.9h0M543.8 157.7h0M546.4 166.3h0M570.8 163.3h0M572.3 159.7h0M555.2 171.1h0M554.0 161.4h0M553.3 162.9h0M568.1 161.6h0M545.7 166.3h0M563.8 165.2h0M561.0 162.9h0M573.4 173.5h0M563.0 165.3h0M545.0 163.3h0M555.4 163.0h0M555.0 166.0h0M538.6 171.8h0M544.3 163.0h0M534.5 165.3h0M528.9 163.3h0M558.4 165.1h0M533.0 171.4h0M551.9 165.2h0M541.0 161.6h0M563.9 161.8h0M555.1 163.9h0M555.6 172.3h0M561.6 163.4h0M551.6 158.4h0M534.6 159.7h0M550.4 167.3h0M555.4 161.7h0M549.2 157.6h0M553.9 164.8h0M533.3 169.0h0M553.3 170.2h0M579.4 169.7h0M537.8 165.5h0M538.2 170.1h0M586.1 164.8h0M559.9 160.4h0M575.1 162.2h0M566.8 160.5h0M530.6 167.4h0M570.4 167.8h0M553.1 166.1h0M540.4 159.1h0M559.1 163.5h0M555.2 159.2h0M557.0 163.5h0M533.7 161.0h0M580.3 163.1h0M548.2 162.0h0M563.2 159.2h0M527.5 163.9h0M533.5 170.8h0M557.6 160.2h0M561.2 164.5h0M541.0 158.3h0M560.0 159.1h0M541.0 165.0h0M542.6 167.0h0M540.8 168.0h0M536.1 158.0h0M531.1 170.9h0M550.8 157.9h0M564.4 161.0h0M559.2 167.3h0M581.6 163.2h0M547.0 158.6h0M555.2 166.5h0M539.1 161.0h0M551.0 165.1h0M563.1 163.4h0M553.9 162.2h0M538.2 161.2h0M536.2 163.1h0M541.8 162.8h0M534.8 167.8h0M533.3 159.2h0M552.2 158.8h0M532.3 162.3h0M538.9 160.0h0M555.2 165.6h0M525.0 164.1h0M557.7 170.3h0M535.8 161.7h0M531.1 169.7h0M545.2 161.2h0M542.6 163.5h0M545.4 158.1h0M568.7 160.3h0M550.6 168.2h0M528.4 159.0h0M543.3 162.5h0M554.9 163.9h0M553.0 165.9h0M536.0 169.4h0M542.7 163.4h0M540.9 161.1h0M532.7 165.3h0M548.6 164.2h0M540.9 159.4h0M546.9 163.3h0M550.5 169.1h0M540.6 169.6h0M569.1 161.9h0M538.5 157.6h0M551.6 168.3h0M546.8 163.4h0M550.7 159.5h0M567.8 162.5h0M535.5 162.0h0M559.7 158.2h0M535.1 158.1h0M556.6 169.3h0M532.6 160.2h0M546.1 161.4h0M540.0 167.2h0M543.4 170.2h0M562.0 166.8h0M563.6 165.4h0M549.1 159.2h0M540.9 170.9h0M561.4 161.5h0M534.0 166.6h0M529.8 163.5h0M548.0 161.9h0M547.9 171.3h0M552.1 165.3h0M549.3 170.8h0M587.1 169.5h0M538.4 159.4h0M543.9 158.7h0M539.8 167.0h0M562.2 165.7h0M539.0 170.1h0M533.6 163.1h0M547.0 158.9h0M541.2 170.8h0M553.5 164.3h0M522.1 162.5h0M560.2 164.6h0M552.8 169.5h0M544.3 160.7h0M540.8 160.4h0M554.7 168.3h0M545.4 170.8h0M554.4 163.4h0M573.8 167.8h0M550.1 157.5h0M564.2 158.7h0M557.4 161.6h0M541.1 161.5h0M566.9 165.0h0M559.4 170.4h0M536.4 160.0h0M553.6 167.9h0M574.5 171.5h0M562.2 161.1h0M559.9 163.9h0M543.5 173.0h0M549.1 162.4h0M555.5 164.0h0M539.7 171.1h0M526.4 161.9h0M571.5 161.0h0M540.3 160.6h0M527.1 158.9h0M514.1 162.2h0M571.6 167.7h0M546.9 162.3h0M537.5 160.5h0M534.4 159.7h0M563.8 159.1h0M544.9 172.9h0M531.3 169.1h0M554.7 169.7h0M549.3 167.5h0M540.8 161.0h0M540.1 167.0h0M540.2 171.3h0M549.3 165.0h0M542.4 164.5h0M534.0 162.3h0M563.0 160.6h0M567.9 165.8h0M547.0 162.2h0M549.6 163.4h0M563.0 167.3h0M540.4 160.3h0M554.2 158.0h0M566.4 158.7h0M546.1 160.5h0M522.7 163.2h0M533.2 170.4h0M539.6 166.5h0M549.0 164.3h0M526.7 162.2h0M529.5 168.2h0M555.0 158.5h0M578.3 160.2h0M558.2 164.2h0M547.3 163.4h0M565.2 164.0h0M564.6 166.1h0M563.3 163.8h0M532.7 163.8h0M575.3 161.1h0M530.3 164.7h0M544.9 164.9h0M518.2 163.0h0M553.7 164.2h0M546.5 162.3h0M558.3 157.6h0M545.8 162.1h0M532.9 164.0h0M548.2 165.9h0M529.8 158.9h0M577.9 166.9h0M526.6 164.9h0M558.2 162.1h0M534.4 169.3h0M539.1 160.6h0M541.5 168.5h0M559.9 159.5h0M549.6 162.9h0M551.1 165.2h0M530.5 159.8h0M560.7 162.9h0M545.8 158.2h0M543.2 163.7h0M569.3 165.2h0M562.2 166.7h0M550.3 159.7h0M560.0 163.0h0M533.5 161.6h0M547.4 165.3h0M552.2 167.5h0M544.1 173.1h0M540.7 169.5h0M548.0 164.2h0M533.7 160.8h0M548.1 159.9h0M565.2 162.6h0M557.0 173.6h0M553.4 166.0h0M542.0 158.6h0M578.2 170.0h0M550.9 162.1h0M535.4 165.0h0M579.9 167.2h0M578.8 161.6h0M551.0 158.1h0M558.8 166.8h0M556.0 162.6h0M552.4 161.8h0M561.3 161.6h0M541.1 171.4h0M541.3 172.4h0M536.7 161.3h0M555.8 169.8h0M550.1 164.4h0M548.9 161.3h0M563.8 163.9h0M543.0 166.4h0M547.8 158.5h0M556.6 164.2h0M576.6 166.2h0M576.4 160.2h0M560.0 166.5h0M551.9 165.8h0M559.4 158.6h0M534.1 158.0h0M559.6 159.0h0M563.9 167.1h0M549.7 158.9h0M530.7 167.5h0M559.8 168.5h0M543.9 162.6h0M550.3 170.7h0M540.3 169.0h0M553.1 167.4h0M531.9 164.9h0M546.1 160.7h0M559.9 159.5h0M546.9 164.3h0M545.7 165.4h0M568.0 160.0h0M584.3 162.6h0M548.0 160.4h0M546.6 166.4h0M536.8 158.6h0M554.7 158.3h0M563.9 159.6h0M554.4 159.6h0M544.2 160.8h0M557.6 157.8h0M550.8 167.9h0M545.5 159.0h0M536.1 162.2h0M556.2 161.3h0M550.7 160.0h0M568.3 162.6h0M541.5 172.7h0M551.8 164.5h0M556.5 166.5h0M543.3 157.8h0M545.9 160.9h0M546.6 160.6h0M555.7 173.7h0M573.0 168.5h0M557.4 162.6h0M530.3 160.6h0M538.2 158.2h0M549.5 158.8h0M560.2 170.2h0M553.2 161.0h0M559.0 163.5h0M540.1 167.7h0M586.3 168.6h0M546.4 167.6h0M529.9 159.7h0M550.8 159.5h0M575.5 164.4h0M537.6 159.3h0M558.6 158.4h0M556.6 173.1h0M572.0 166.1h0M554.8 162.9h0M562.4 158.6h0M554.5 164.7h0M557.1 160.9h0M538.1 164.2h0M535.4 173.2h0M553.6 159.9h0M550.2 162.1h0M552.3 159.0h0M567.6 165.8h0M533.0 161.9h0M549.8 162.7h0M566.2 165.5h0M533.4 158.3h0M537.5 159.3h0M525.4 165.1h0M558.9 158.6h0M556.4 166.9h0M529.8 164.4h0M566.0 163.3h0M543.6 165.3h0M545.5 164.5h0M556.7 158.9h0M561.0 160.1h0M537.0 160.4h0M553.5 168.5h0M548.9 157.8h0M569.9 161.8h0M539.9 167.8h0M569.7 160.0h0M525.8 169.6h0M558.5 161.2h0M571.5 159.0h0M559.4 158.3h0M568.3 160.5h0M564.2 171.5h0M530.4 167.8h0M541.5 166.6h0M566.6 165.3h0M553.7 160.5h0M548.3 158.5h0M570.1 161.4h0M556.7 169.4h0M522.1 160.5h0M534.5 162.9h0M551.3 160.0h0M544.6 164.5h0M536.6 164.7h0M546.8 159.3h0M544.0 159.0h0M574.0 159.1h0M549.7 164.3h0M548.8 171.9h0M545.2 163.1h0M543.5 158.5h0M550.0 162.4h0M547.6 169.5h0M549.8 162.3h0M549.2 158.6h0M538.4 159.0h0M552.6 162.1h0M535.2 168.5h0M557.2 157.8h0M573.4 173.6h0M548.5 160.6h0M550.9 167.1h0M580.4 161.9h0M548.6 170.3h0M535.1 161.4h0M555.3 159.8h0M537.6 173.5h0M559.1 158.6h0M533.3 160.2h0M551.4 166.3h0M553.8 163.7h0M565.6 160.9h0M555.6 160.4h0M534.7 162.9h0M553.0 164.0h0M551.3 158.1h0M571.2 161.2h0M544.6 171.0h0M546.7 157.8h0M556.0 161.1h0M546.9 164.0h0M536.1 164.8h0M540.1 158.4h0M551.8 160.4h0M549.7 167.7h0M537.2 163.1h0M546.8 159.6h0M550.9 170.6h0M521.9 163.7h0M529.2 165.3h0M522.6 163.6h0M526.7 167.0h0M552.7 166.9h0M551.5 161.4h0M525.0 166.5h0M559.1 168.3h0M563.0 159.9h0M550.0 162.2h0M554.7 169.2h0M555.0 165.9h0M541.4 157.6h0M570.3 165.4h0M537.3 164.1h0M544.0 158.6h0M517.1 166.1h0M559.8 157.8h0M541.0 163.9h0M572.6 160.1h0M528.1 159.0h0M571.1 161.8h0M519.3 168.2h0M547.2 157.8h0M549.4 158.1h0M543.7 165.0h0M569.8 158.5h0M537.0 159.0h0M544.9 157.8h0M550.0 166.0h0M548.6 167.9h0M545.7 171.8h0M554.6 161.5h0M545.9 172.5h0M568.1 169.0h0M538.9 171.9h0M548.4 163.9h0M555.6 165.1h0M557.0 165.0h0M568.6 166.3h0M541.9 169.8h0M562.2 163.9h0M548.6 158.8h0M524.5 164.9h0M560.6 159.2h0M532.1 159.7h0M542.5 166.1h0M555.7 159.4h0M541.8 166.7h0M537.2 161.6h0M556.0 158.5h0M562.6 163.7h0M541.2 160.9h0M544.5 160.5h0M554.3 160.3h0M550.0 166.2h0M545.7 158.0h0M573.7 162.6h0M545.1 168.8h0M537.4 164.3h0M543.9 169.7h0M554.0 159.3h0M539.8 165.4h0M536.5 162.4h0M528.9 164.6h0M577.0 165.4h0M556.4 159.7h0M533.7 159.1h0M555.6 167.3h0M554.7 157.6h0M564.8 161.6h0M536.4 157.9h0M564.8 162.3h0M559.7 159.3h0M533.8 164.6h0M551.4 157.5h0M551.9 165.7h0M553.1 159.2h0M520.7 163.8h0M552.2 160.7h0M544.0 161.7h0M559.9 158.7h0M551.7 162.8h0M541.3 160.5h0M536.0 158.2h0M545.4 169.0h0M498.1 169.6h0M501.7 166.3h0M508.3 171.5h0M592.2 167.6h0M596.4 162.5h0M588.5 171.5h0M601.2 170.2h0M506.5 162.5h0" stroke="#BEBEBE" stroke-width="2.7" stroke-linecap="round" fill="none"/>
<path d="M527.4 117.6h0M521.2 153.0h0M530.6 142.6h0M522.5 150.7h0M520.6 150.6h0M533.3 129.5h0M517.6 140.5h0M524.9 127.5h0M520.8 136.0h0M527.2 135.2h0M519.5 137.4h0M521.8 143.0h0M526.6 132.6h0M522.4 123.2h0M531.3 126.1h0M522.6 138.0h0M532.0 125.8h0M530.3 153.0h0M518.5 151.3h0M519.6 140.5h0M519.5 136.4h0M531.8 132.3h0M526.3 151.7h0M527.9 152.6h0M516.0 142.8h0M517.5 142.0h0M523.3 142.1h0M520.7 133.8h0M528.4 154.9h0M535.4 136.4h0M533.8 156.5h0M514.5 152.2h0M533.5 137.3h0M532.1 123.9h0M515.1 139.7h0M520.6 135.4h0M530.0 152.9h0M533.8 134.3h0M522.5 134.2h0M517.4 147.2h0M532.4 129.5h0M533.5 149.3h0M535.4 156.2h0M526.9 144.4h0M518.8 133.4h0M526.7 136.1h0M529.1 111.8h0M516.9 145.6h0M526.8 137.4h0M520.2 132.9h0M528.7 113.7h0M534.2 118.0h0M529.0 148.6h0M534.4 145.1h0M528.4 123.9h0M533.4 125.2h0M535.1 154.1h0M514.0 147.6h0M526.0 136.8h0M515.0 147.3h0M526.1 137.8h0M530.2 134.7h0M532.8 120.9h0M524.2 139.9h0M517.9 143.0h0M521.1 139.7h0M517.2 134.4h0M525.4 152.4h0M520.5 144.8h0M517.3 149.7h0M528.8 136.5h0M528.2 134.6h0M524.4 142.1h0M522.7 134.1h0M518.7 146.4h0M532.1 130.1h0M521.2 126.1h0M531.6 145.4h0M528.1 123.2h0M521.9 150.0h0M526.7 146.9h0M521.4 131.0h0M534.6 149.9h0M534.2 154.7h0M527.5 155.6h0M525.5 151.2h0M527.9 139.7h0M527.8 144.6h0M514.8 148.3h0M519.3 149.1h0M524.3 131.3h0M529.0 116.4h0M526.2 155.1h0M523.4 155.4h0M526.7 153.8h0M525.2 149.8h0M532.3 152.4h0M527.9 123.5h0M520.5 144.6h0M519.0 156.1h0M528.2 153.5h0M517.6 152.8h0M531.1 131.7h0M523.6 129.2h0M531.2 127.3h0M524.6 142.0h0M525.9 134.2h0M533.0 154.3h0M534.2 154.5h0M513.7 156.4h0M526.0 150.3h0M525.7 125.4h0M521.1 140.6h0M522.2 156.7h0M522.7 144.3h0M521.1 149.2h0M535.1 147.5h0M532.5 127.7h0M515.4 156.2h0M532.9 145.8h0M528.9 114.4h0M524.3 142.1h0M520.3 147.2h0M527.3 112.1h0M515.1 138.5h0M521.0 153.1h0M526.4 110.2h0M533.3 144.0h0M533.7 121.3h0M527.6 147.7h0M519.4 152.1h0M533.2 118.5h0M526.0 112.0h0M529.4 152.1h0M521.5 129.5h0M533.5 139.3h0M517.4 143.4h0M518.7 149.6h0M520.8 145.1h0M534.5 149.3h0M525.9 124.9h0M517.6 139.6h0M526.2 141.2h0M533.9 141.1h0M524.1 122.5h0M516.6 149.9h0M529.6 138.4h0M532.3 145.8h0M521.2 151.7h0M519.1 130.5h0M531.8 127.9h0M530.0 110.5h0M525.5 147.3h0M516.1 141.3h0M525.6 154.8h0M532.8 128.6h0M523.1 150.2h0M526.2 135.1h0M526.7 130.7h0M527.1 147.4h0M516.5 156.3h0M531.7 156.7h0M517.9 151.5h0M519.7 135.3h0M528.5 141.6h0M528.0 156.0h0M525.4 113.8h0M534.0 129.7h0M535.1 145.7h0M519.8 135.6h0M524.5 118.0h0M523.2 154.6h0M528.8 146.3h0M532.9 146.8h0M519.8 150.4h0M519.9 128.4h0M519.1 154.6h0M526.3 122.0h0M515.6 136.7h0M514.7 156.1h0M521.5 143.3h0M532.7 156.2h0M527.6 122.0h0M522.5 133.1h0M518.7 144.9h0M513.8 150.4h0M529.3 135.2h0M524.6 142.9h0M515.9 142.8h0M529.9 142.7h0M534.4 148.6h0M524.9 131.3h0M524.3 120.1h0M530.8 154.5h0M525.4 136.0h0M522.2 131.4h0M527.1 123.5h0M533.2 125.7h0M535.5 125.3h0M519.2 149.9h0M514.8 144.2h0M528.6 127.8h0M521.7 134.9h0M513.5 141.7h0M526.0 148.3h0M532.2 134.1h0M521.4 153.9h0M519.4 154.7h0M526.1 142.5h0M532.1 124.0h0M529.3 114.6h0M531.2 141.3h0M525.9 144.6h0M517.7 147.1h0M515.6 145.5h0M518.8 154.7h0M522.6 147.3h0M528.6 146.4h0M525.6 148.5h0M519.9 131.9h0M523.0 153.6h0M517.5 133.9h0M525.4 119.2h0M513.8 139.7h0M523.8 128.9h0M528.6 122.1h0M518.2 136.0h0M519.8 138.5h0M513.9 153.2h0M517.8 143.3h0M532.3 116.9h0M534.0 138.4h0M533.2 151.8h0M531.6 156.8h0M529.5 133.5h0M533.4 115.3h0M518.6 136.0h0M514.7 139.8h0M522.3 156.7h0M524.1 146.9h0M534.8 134.4h0M522.9 139.0h0M532.8 150.7h0M517.9 143.4h0M524.1 128.3h0M532.9 133.4h0M519.3 131.7h0M524.3 142.7h0M518.3 139.9h0M529.6 149.0h0M535.4 145.7h0M519.3 151.1h0M521.9 139.2h0M528.4 114.3h0M520.0 137.6h0M518.2 135.4h0M528.2 148.8h0M524.9 117.2h0M516.8 134.7h0M517.3 150.1h0M524.1 135.2h0M527.5 116.2h0M528.9 140.9h0M524.0 124.9h0M531.9 124.5h0M524.4 150.6h0M532.5 143.5h0M518.3 152.7h0M524.6 119.1h0M515.7 143.4h0M523.6 125.8h0M535.3 153.1h0M532.2 115.5h0M526.0 144.6h0M522.6 139.5h0M515.1 153.6h0M530.6 156.8h0M535.2 119.6h0M520.3 148.3h0M533.5 120.5h0M531.4 141.5h0M516.0 150.5h0M531.5 117.7h0M532.0 143.0h0M519.3 151.1h0M518.9 151.2h0M530.7 154.6h0M530.3 110.7h0M521.7 154.7h0M531.2 143.3h0M530.4 156.0h0M528.4 130.2h0M525.0 128.5h0M516.1 153.9h0M521.0 130.9h0M518.7 148.4h0M523.1 137.4h0M534.2 154.7h0M523.9 145.6h0M520.7 155.5h0M515.0 155.3h0M531.1 144.1h0M528.6 111.7h0M523.6 142.2h0M519.6 152.8h0M527.6 147.5h0M520.9 141.9h0M534.0 129.2h0M525.9 146.3h0M527.5 138.9h0M525.3 138.0h0M528.6 111.4h0M520.0 143.5h0M516.2 142.4h0M520.4 148.2h0M519.1 142.9h0M532.3 135.7h0M531.5 154.5h0M514.3 153.6h0M524.7 143.1h0M526.8 148.0h0M525.2 135.3h0M532.1 153.6h0M534.8 141.3h0M530.5 145.1h0M534.3 146.8h0M523.4 155.1h0M535.0 126.9h0M525.9 127.1h0M529.1 136.5h0M519.5 150.0h0M520.2 140.1h0M518.9 131.2h0M527.6 153.1h0M534.9 149.1h0M518.5 142.0h0M528.6 116.0h0M532.9 143.2h0M525.0 137.4h0M528.3 146.1h0M531.9 123.0h0M517.1 142.0h0M523.3 127.6h0M533.9 138.1h0M534.3 143.0h0M513.5 152.0h0M528.6 138.8h0M531.8 131.6h0M528.5 140.1h0M526.3 123.7h0M521.6 133.6h0M532.0 112.8h0M521.0 153.7h0M532.0 135.6h0M534.8 120.7h0M525.4 123.0h0M532.9 129.3h0M534.3 138.0h0M521.6 126.5h0M522.2 123.3h0M525.0 121.6h0M531.6 129.9h0M533.6 119.8h0M532.3 156.0h0M533.3 115.9h0M521.3 134.0h0M525.1 140.5h0M532.8 142.0h0M528.4 111.8h0M531.0 114.8h0M535.1 145.4h0M527.3 152.6h0M526.6 123.2h0M529.8 116.2h0M519.7 151.4h0M531.4 155.7h0M518.4 145.6h0M530.5 135.9h0M531.9 125.2h0M532.0 119.6h0M532.8 143.8h0M521.1 127.0h0M526.2 120.0h0M531.2 142.4h0M528.5 143.7h0M514.4 155.8h0M518.7 143.9h0M517.8 154.5h0M517.0 140.3h0M515.2 147.1h0M532.6 137.7h0M516.0 144.1h0M528.2 137.5h0M525.9 121.9h0M527.9 116.1h0M515.1 142.8h0M526.9 144.8h0M516.9 147.7h0M521.5 137.6h0M516.3 148.1h0M527.6 77.7h0M511.4 99.0h0M503.5 130.1h0M510.2 138.9h0M509.6 150.8h0M527.0 103.7h0M519.2 114.6h0" stroke="#1B8A1B" stroke-width="2.7" stroke-linecap="round" fill="none"/>
<path d="M588.1 118.7h0M559.1 118.3h0M553.4 118.9h0M562.9 150.2h0M574.2 122.2h0M559.3 99.2h0M574.0 110.5h0M547.8 151.6h0M558.4 125.2h0M567.0 128.3h0M545.5 148.9h0M552.0 108.1h0M551.2 144.9h0M557.9 139.2h0M561.5 106.6h0M561.1 150.6h0M585.5 90.5h0M566.5 141.1h0M569.1 73.9h0M586.3 104.2h0M586.8 119.8h0M593.5 99.6h0M558.5 127.7h0M569.2 99.3h0M584.4 126.1h0M587.7 70.3h0M567.6 132.3h0M582.9 124.0h0M568.3 75.5h0M590.5 105.7h0M592.6 102.6h0M569.2 98.9h0M548.1 147.3h0M564.3 76.1h0M567.9 137.3h0M569.6 100.7h0M582.4 95.0h0M578.3 106.8h0M583.7 73.2h0M559.3 126.5h0M561.1 155.0h0M558.9 97.1h0M585.3 117.6h0M553.0 136.6h0M570.0 129.0h0M594.1 94.3h0M582.0 128.2h0M556.9 125.5h0M553.6 145.8h0M563.7 141.9h0M551.5 150.8h0M550.5 120.6h0M595.4 89.9h0M569.9 87.7h0M576.7 129.5h0M553.5 100.0h0M593.1 75.6h0M563.1 139.4h0M598.2 89.5h0M595.3 88.6h0M566.3 105.0h0M557.8 119.6h0M590.3 96.9h0M567.4 133.3h0M571.9 150.7h0M585.2 102.4h0M588.8 100.5h0M572.0 93.8h0M575.0 91.3h0M546.4 154.0h0M550.3 123.2h0M561.4 98.0h0M575.7 148.1h0M571.3 99.5h0M576.7 91.3h0M587.0 101.4h0M566.8 149.3h0M591.3 70.1h0M594.6 79.4h0M595.5 84.5h0M551.6 120.7h0M581.3 106.7h0M551.2 112.1h0M555.7 127.4h0M568.2 113.7h0M593.8 103.9h0M592.6 110.2h0M573.4 80.0h0M582.9 123.5h0M550.6 155.9h0M560.2 88.3h0M580.7 98.8h0M554.0 152.9h0M553.9 127.1h0M550.3 119.2h0M569.8 142.7h0M567.4 154.6h0M567.4 148.7h0M558.5 153.0h0M553.6 137.9h0M553.0 155.0h0M560.8 142.2h0M594.3 83.1h0M588.9 86.6h0M586.8 110.4h0M568.4 104.3h0M563.7 153.2h0M557.6 127.6h0M560.5 95.6h0M564.2 86.2h0M549.2 114.7h0M548.6 155.2h0M558.7 127.0h0M591.4 94.1h0M586.9 94.9h0M557.6 138.4h0M570.6 96.6h0M546.6 137.2h0M584.2 123.7h0M553.5 105.2h0M583.3 81.9h0M544.4 153.6h0M587.1 109.9h0M580.2 104.1h0M589.5 92.9h0M564.4 151.1h0M561.5 81.5h0M591.7 103.6h0M548.1 149.1h0M597.1 98.2h0M579.4 96.2h0M595.6 101.0h0M577.7 127.1h0M573.8 93.5h0M597.5 92.0h0M592.3 97.5h0M559.3 141.2h0M564.6 131.5h0M587.5 113.1h0M580.3 95.2h0M587.3 79.2h0M564.7 134.9h0M566.9 145.1h0M580.1 111.2h0M594.7 81.8h0M589.9 110.2h0M547.8 156.8h0M568.9 124.2h0M591.7 111.6h0M565.1 88.2h0M570.7 127.3h0M561.1 119.6h0M574.0 91.6h0M599.0 97.4h0M577.1 117.9h0M563.0 136.5h0M567.5 156.3h0M567.0 137.9h0M551.9 144.5h0M590.3 88.8h0M557.9 111.1h0M584.1 122.9h0M562.0 138.6h0M580.1 107.3h0M598.0 90.5h0M552.7 149.1h0M569.6 152.9h0M583.9 125.8h0M575.8 132.7h0M576.5 79.3h0M595.4 86.5h0M589.2 71.8h0M567.0 79.8h0M552.8 104.1h0M556.1 112.4h0M561.9 128.7h0M565.0 99.1h0M571.4 87.8h0M595.4 104.9h0M593.4 94.1h0M571.8 149.9h0M580.9 84.1h0M563.4 152.3h0M555.6 155.6h0M586.8 98.1h0M570.7 140.2h0M590.6 106.2h0M586.6 83.8h0M589.9 99.3h0M560.4 141.7h0M599.4 86.7h0M550.8 131.8h0M561.9 106.6h0M560.5 116.4h0M572.0 129.6h0M555.8 131.8h0M550.7 136.5h0M577.4 109.2h0M582.7 90.6h0M557.7 101.3h0M574.9 125.9h0M550.6 143.0h0M577.6 140.0h0M570.1 102.0h0M565.4 99.4h0M557.7 121.1h0M565.3 112.2h0M564.2 156.1h0M558.1 134.2h0M571.4 120.0h0M568.3 120.2h0M545.0 147.1h0M551.3 151.7h0M565.6 107.7h0M584.0 109.3h0M572.9 116.6h0M598.8 92.9h0M567.0 156.1h0M588.4 113.4h0M582.3 106.6h0M572.4 97.6h0M564.1 88.9h0M591.5 115.3h0M567.0 116.1h0M589.7 78.6h0M585.5 95.2h0M547.4 145.8h0M598.7 101.9h0M586.1 114.6h0M552.5 131.9h0M591.9 76.1h0M548.9 143.1h0M550.3 154.5h0M580.0 109.4h0M568.7 130.9h0M587.0 77.7h0M578.2 98.2h0M579.1 89.5h0M559.0 141.8h0M584.7 122.8h0M571.8 150.3h0M564.1 156.3h0M564.9 101.1h0M589.4 98.0h0M577.4 141.1h0M579.9 106.3h0M587.9 92.0h0M547.8 136.3h0M567.0 100.6h0M576.7 102.8h0M561.8 142.7h0M569.3 71.2h0M582.6 91.7h0M557.3 108.9h0M571.0 128.8h0M570.3 134.8h0M545.1 145.8h0M583.6 93.9h0M561.5 88.2h0M575.1 109.0h0M589.1 99.0h0M561.7 114.6h0M554.5 148.8h0M553.3 117.9h0M587.7 87.7h0M581.5 115.3h0M572.8 100.8h0M550.8 119.2h0M581.8 93.7h0M564.3 103.7h0M545.8 156.7h0M584.4 118.6h0M571.6 125.6h0M582.3 122.4h0M564.3 115.1h0M550.3 140.3h0M585.2 93.2h0M556.4 127.0h0M566.2 121.4h0M598.7 102.2h0M569.7 75.8h0M583.8 94.7h0M572.9 74.9h0M546.9 152.4h0M578.3 91.8h0M564.2 87.0h0M564.5 120.0h0M587.5 106.5h0M560.0 104.2h0M569.1 90.1h0M573.3 102.8h0M556.3 141.3h0M582.3 94.0h0M563.0 143.9h0M568.0 132.6h0M556.3 93.2h0M568.4 73.2h0M569.4 117.5h0M571.6 90.0h0M571.5 110.2h0M576.6 106.1h0M572.7 133.5h0M591.7 106.7h0M581.6 100.8h0M566.6 90.1h0M594.6 102.7h0M587.5 91.9h0M581.6 93.0h0M574.5 101.0h0M558.7 145.6h0M564.3 76.8h0M571.0 98.1h0M566.2 106.6h0M576.2 125.5h0M549.6 129.8h0M555.5 137.9h0M573.4 135.1h0M556.3 96.9h0M573.1 110.9h0M567.0 125.0h0M569.1 136.3h0M596.9 100.1h0M567.9 115.4h0M561.8 138.1h0M564.9 94.7h0M576.7 126.3h0M581.2 96.9h0M551.8 152.8h0M580.1 107.6h0M585.1 98.1h0M592.8 99.4h0M565.6 144.1h0M566.6 85.5h0M590.7 106.8h0M555.8 108.9h0M581.4 94.9h0M562.6 102.9h0M567.6 84.7h0M581.1 92.8h0M571.7 139.6h0M565.8 75.0h0M554.3 99.6h0M545.4 142.5h0M555.7 101.6h0M570.9 134.5h0M558.0 141.2h0M559.9 121.3h0M565.7 129.8h0M583.3 126.0h0M546.3 132.3h0M548.5 138.1h0M576.3 88.1h0M573.0 118.0h0M580.6 105.1h0M557.9 143.1h0M573.1 99.9h0M587.1 105.4h0M594.2 104.3h0M567.3 102.0h0M566.5 110.8h0M556.8 121.8h0M573.5 128.9h0M576.6 104.1h0M561.0 116.0h0M564.9 126.3h0M566.3 134.9h0M583.8 100.4h0M572.3 131.4h0M564.4 102.2h0M571.7 100.0h0M583.7 92.5h0M576.5 102.2h0M546.3 131.3h0M553.6 129.8h0M587.9 106.9h0M573.3 154.4h0M561.8 95.0h0M558.1 107.6h0M568.7 137.5h0M587.5 93.1h0M557.4 117.9h0M576.3 96.8h0M565.0 140.8h0M576.2 144.9h0M569.7 156.6h0M573.9 85.9h0M581.1 97.9h0M579.1 116.0h0M570.3 75.8h0M593.4 90.7h0M585.1 124.6h0M573.6 91.5h0M583.5 118.1h0M559.8 127.3h0M555.5 149.5h0M570.9 107.3h0M555.1 96.2h0M560.6 87.4h0M573.7 107.2h0M566.1 107.3h0M585.2 125.9h0M585.9 101.9h0M576.2 125.4h0M584.7 112.2h0M556.3 108.7h0M582.8 82.8h0M572.7 74.8h0M564.8 141.9h0M596.5 74.1h0M587.9 107.2h0M595.2 109.9h0M565.5 96.2h0M555.3 104.3h0M587.0 97.4h0M569.0 138.4h0M549.3 133.0h0M575.5 106.4h0M598.1 81.3h0M559.3 94.5h0M582.3 107.4h0M576.4 126.8h0M583.2 75.2h0M573.9 125.5h0M560.3 101.8h0M577.9 138.8h0M597.8 96.5h0M574.9 123.8h0M559.6 92.9h0M565.9 138.2h0M570.0 113.0h0M589.5 70.4h0M569.0 71.7h0M565.5 80.5h0M581.0 131.4h0M565.0 87.2h0M577.5 97.9h0M575.1 75.0h0M570.4 74.4h0M595.3 83.2h0M577.6 109.5h0M588.7 118.6h0M588.7 92.2h0M551.4 112.7h0M598.0 93.3h0M582.4 95.4h0M571.9 151.0h0M584.9 118.6h0M570.9 134.1h0M575.6 119.5h0M572.6 132.8h0M555.6 97.1h0M566.3 109.7h0M577.3 115.7h0M584.6 85.7h0M556.7 118.0h0M558.2 101.2h0M590.9 87.8h0M575.1 141.6h0M585.2 117.1h0M591.2 89.7h0M576.8 122.7h0M566.1 135.5h0M596.7 74.6h0M566.4 90.5h0M599.7 99.2h0M579.9 88.6h0M553.5 125.6h0M555.8 155.9h0M589.8 92.0h0M581.3 90.5h0M555.7 95.2h0M567.6 146.0h0M551.9 104.3h0M550.4 142.7h0M561.2 152.8h0M552.5 118.1h0M588.6 71.9h0M552.4 149.7h0M574.6 134.7h0M564.0 131.3h0M564.1 90.0h0M592.5 112.3h0M596.9 99.0h0M580.3 123.6h0M549.6 154.0h0M561.7 109.7h0M546.5 144.1h0M554.3 111.5h0M600.2 91.4h0M571.3 137.6h0M547.8 130.3h0M556.7 128.6h0M571.6 142.1h0M556.3 106.3h0M559.8 110.3h0M553.5 152.9h0M580.0 122.9h0M583.5 104.5h0M566.1 102.2h0M568.7 87.2h0M590.9 115.1h0M588.1 83.3h0M597.1 94.0h0M587.9 73.1h0M560.5 131.2h0M558.7 107.4h0M570.6 97.5h0M546.3 147.0h0M582.7 115.0h0M555.9 156.4h0M580.5 126.9h0M548.6 129.1h0M547.4 149.1h0M579.8 94.2h0M594.0 96.3h0M578.0 97.6h0M567.1 106.5h0M573.1 154.7h0M598.6 95.8h0M575.7 128.4h0M566.2 127.0h0M599.8 91.6h0M568.1 101.0h0M549.5 131.9h0M562.8 130.0h0M556.9 124.1h0M562.3 90.4h0M586.7 122.0h0M545.1 155.4h0M573.6 95.1h0M590.5 109.8h0M550.3 120.3h0M597.0 89.0h0M573.2 115.2h0M579.1 112.1h0M556.4 99.3h0M574.8 105.4h0M577.4 137.3h0M586.8 121.6h0M566.2 147.7h0M550.9 111.6h0M579.0 84.0h0M579.5 133.5h0M569.5 105.0h0M596.5 101.4h0M588.3 105.6h0M572.8 100.8h0M561.2 114.5h0M566.1 126.8h0M588.9 71.8h0M569.3 97.7h0M576.6 140.2h0M567.2 133.0h0M599.2 95.0h0M576.4 150.6h0M549.5 147.5h0M556.0 150.9h0M558.5 154.0h0M557.9 135.0h0M557.7 135.0h0M574.6 153.8h0M581.5 107.1h0M586.2 98.0h0M557.2 127.6h0M569.1 117.2h0M588.1 117.2h0M556.8 134.3h0M559.2 98.2h0M591.1 113.7h0M560.6 149.3h0M563.4 116.2h0M597.1 84.2h0M564.6 141.7h0M547.6 152.1h0M582.3 110.3h0M551.5 129.3h0M578.4 75.1h0M584.3 95.5h0M570.1 106.7h0M590.8 77.3h0M561.4 103.2h0M561.3 111.3h0M584.0 123.2h0M594.5 88.1h0M556.2 155.7h0M548.8 132.4h0M561.4 131.5h0M547.1 149.5h0M586.7 100.6h0M570.4 103.9h0M589.4 87.8h0M557.4 137.8h0M598.3 90.4h0M570.2 78.9h0M569.0 96.3h0M566.5 81.9h0M575.8 107.0h0M555.4 96.3h0M557.4 152.6h0M554.4 105.1h0M567.2 77.9h0M576.1 120.0h0M566.6 79.8h0M573.7 107.9h0M555.9 138.4h0M559.4 93.9h0M570.1 156.4h0M600.3 88.1h0M561.7 96.5h0M559.8 110.3h0M587.1 98.2h0M552.1 112.1h0M569.4 148.9h0M576.8 113.3h0M584.1 111.7h0M569.9 141.2h0M571.0 132.3h0M573.1 118.9h0M568.0 96.0h0M576.2 151.8h0M582.1 123.2h0M589.4 94.6h0M566.1 121.0h0M584.6 103.1h0M548.1 143.8h0M595.5 91.2h0M563.7 94.9h0M587.8 92.1h0M559.1 86.2h0M547.6 147.4h0M580.1 99.8h0M560.8 89.1h0M561.9 98.6h0M563.3 111.5h0M552.4 129.9h0M574.2 94.4h0M556.6 119.5h0M574.3 87.3h0M565.9 111.1h0M576.7 93.6h0M586.7 112.1h0M596.7 92.1h0M584.4 112.0h0M574.5 135.6h0M566.7 107.0h0M544.9 143.7h0M575.2 90.9h0M556.4 151.5h0M569.8 138.3h0M557.2 146.0h0M552.1 132.0h0M559.6 98.8h0M589.0 72.8h0M553.0 124.0h0M564.0 128.2h0M586.4 110.6h0M577.5 104.1h0M561.0 133.2h0M545.7 142.6h0M573.5 93.2h0M584.3 98.6h0M588.7 83.2h0M577.9 102.4h0M555.9 104.8h0M565.9 118.7h0M578.0 97.0h0M599.8 94.6h0M574.9 149.5h0M561.4 109.2h0M556.4 153.4h0M558.9 149.8h0M578.8 125.3h0M588.4 109.9h0M548.5 119.5h0M587.6 94.0h0M573.1 141.1h0M554.8 141.5h0M599.6 84.1h0M593.1 87.5h0M569.4 133.8h0M565.8 121.8h0M559.5 131.1h0M583.8 90.2h0M595.1 107.4h0M576.1 142.4h0M598.0 103.1h0M544.8 149.8h0M560.1 126.3h0M567.0 89.4h0M564.5 155.3h0M565.4 146.8h0M580.8 129.1h0M572.6 94.7h0M571.1 93.4h0M591.1 115.8h0M576.0 78.4h0M580.1 111.5h0M571.8 129.6h0M551.2 154.8h0M566.9 114.1h0M554.3 105.2h0M555.0 119.2h0M564.5 114.7h0M565.9 125.5h0M551.4 146.6h0M587.2 109.6h0M565.6 114.7h0M555.9 146.2h0M545.7 147.7h0M561.0 92.8h0M590.4 103.8h0M570.7 120.6h0M570.6 129.3h0M569.0 122.9h0M564.7 124.0h0M574.0 97.6h0M570.2 104.6h0M556.5 148.7h0M591.0 84.7h0M563.1 142.6h0M579.0 111.4h0M559.1 99.9h0M596.1 99.3h0M563.4 118.8h0M558.3 120.0h0M572.7 82.8h0M560.5 153.6h0M557.6 144.5h0M573.4 103.2h0M598.7 88.6h0M586.7 117.0h0M571.3 155.9h0M579.0 90.7h0M595.8 82.8h0M562.6 113.0h0M563.2 115.9h0M560.5 129.8h0M554.9 105.1h0M558.1 141.7h0M560.0 148.0h0M569.0 85.4h0M563.8 107.2h0M596.2 98.3h0M574.6 120.1h0M585.4 94.8h0M571.4 107.7h0M586.6 119.7h0M581.8 126.3h0M563.3 99.8h0M584.7 80.4h0M576.0 121.2h0M574.1 125.9h0M561.7 117.2h0M565.6 99.0h0M568.8 118.4h0M580.2 96.0h0M566.2 143.0h0M579.7 126.5h0M553.6 141.8h0M569.9 75.9h0M584.7 102.9h0M585.1 92.3h0M548.5 144.3h0M571.3 130.7h0M564.2 124.2h0M568.1 101.5h0M560.8 139.8h0M559.0 151.4h0M598.3 92.1h0M572.8 136.8h0M555.7 99.9h0M571.6 145.7h0M553.2 143.7h0M576.0 134.3h0M547.1 137.7h0M583.7 102.2h0M570.6 89.6h0M589.5 112.4h0M580.5 72.3h0M584.5 97.5h0M571.9 75.4h0M576.8 95.6h0M587.1 123.0h0M579.7 115.5h0M567.4 97.0h0M571.0 124.3h0M580.0 120.7h0M581.5 90.5h0M581.3 119.7h0M556.1 150.0h0M583.5 119.3h0M581.8 111.6h0M571.3 150.4h0M592.5 76.3h0M578.8 77.2h0M578.6 119.5h0M567.4 91.0h0M577.9 132.0h0M569.0 112.1h0M576.4 145.3h0M567.7 156.1h0M553.4 122.2h0M595.2 108.9h0M567.2 122.2h0M561.9 91.5h0M592.5 94.8h0M558.3 129.2h0M582.1 98.1h0M563.3 99.2h0M559.8 141.3h0M571.0 138.7h0M565.6 122.9h0M565.1 153.7h0M548.1 154.5h0M568.0 120.5h0M582.7 78.9h0M550.3 145.7h0M555.1 135.4h0M580.0 131.6h0M568.9 92.8h0M560.5 144.6h0M591.7 71.2h0M592.3 91.6h0M572.8 145.2h0M569.4 150.6h0M580.8 105.0h0M599.2 91.6h0M583.7 82.1h0M572.1 153.3h0M593.8 101.3h0M550.9 122.5h0M568.2 128.8h0M552.1 125.3h0M564.5 83.9h0M558.7 139.9h0M569.7 95.1h0M560.3 153.3h0M576.1 154.0h0M579.2 110.1h0M576.4 111.3h0M567.6 106.7h0M563.9 117.7h0M569.1 90.1h0M592.9 109.1h0M564.9 143.9h0M564.8 126.7h0M595.1 75.3h0M559.5 86.6h0M574.7 104.7h0M577.2 96.4h0M548.6 136.1h0M547.8 139.0h0M562.0 103.4h0M566.5 124.0h0M548.2 122.1h0M563.6 155.9h0M571.3 95.6h0M566.7 79.0h0M556.7 140.4h0M557.6 110.5h0M562.1 96.9h0M546.3 147.4h0M585.2 83.7h0M551.9 124.9h0M573.1 135.2h0M561.8 83.6h0M553.8 108.1h0M563.3 139.4h0M548.9 145.3h0M577.9 121.0h0M572.2 78.6h0M573.2 126.4h0M569.3 95.4h0M555.1 99.9h0M558.8 112.3h0M594.9 97.2h0M556.0 112.7h0M584.5 86.8h0M588.4 106.5h0M566.8 132.7h0M595.2 97.2h0M560.1 125.4h0M564.5 133.0h0M560.2 119.9h0M583.5 127.8h0M566.1 155.0h0M563.3 133.4h0M575.3 100.3h0M565.8 116.1h0M552.7 149.4h0M576.7 105.1h0M566.2 124.0h0M577.6 88.0h0M574.3 146.3h0M575.9 151.0h0M557.7 138.5h0M576.9 150.7h0M576.3 144.5h0M573.3 137.0h0M569.5 153.9h0M565.1 99.7h0M559.5 119.1h0M572.8 132.0h0M597.6 93.4h0M587.8 98.7h0M570.3 126.7h0M547.7 141.5h0M584.6 126.1h0M587.3 89.1h0M593.7 78.6h0M572.1 104.7h0M574.4 104.3h0M575.9 92.6h0M577.1 115.2h0M575.7 150.0h0M545.0 144.8h0M570.4 150.8h0M560.4 131.4h0M545.9 154.0h0M558.9 112.9h0M582.1 84.9h0M584.7 85.5h0M558.4 113.6h0M568.8 128.6h0M583.3 126.3h0M564.2 149.7h0M558.7 141.3h0M564.7 79.2h0M559.4 126.7h0M567.7 85.5h0M557.9 152.2h0M550.8 111.6h0M562.0 146.6h0M580.6 128.4h0M560.7 100.2h0M544.6 152.7h0M556.4 132.8h0M581.4 90.3h0M570.2 120.2h0M566.8 151.6h0M558.9 121.2h0M574.7 115.9h0M590.3 103.6h0M574.7 122.4h0M557.6 149.2h0M594.7 91.1h0M576.9 108.6h0M554.7 115.1h0M583.8 117.5h0M550.2 124.1h0M595.7 83.8h0M596.5 90.3h0M561.9 127.3h0M552.0 116.3h0M598.8 92.4h0M568.4 77.4h0M553.5 146.4h0M576.2 95.4h0M589.0 114.3h0M558.3 112.3h0M548.1 155.9h0M574.1 114.3h0M579.6 121.3h0M571.3 125.4h0M564.7 84.4h0M576.5 106.3h0M562.6 81.4h0M594.1 94.0h0M584.9 112.8h0M549.8 133.5h0M576.0 106.6h0M576.6 106.5h0M590.5 93.8h0M573.8 154.7h0M547.5 144.3h0M588.3 104.2h0M563.5 121.1h0M573.6 88.0h0M556.0 96.8h0M587.8 80.3h0M574.9 118.1h0M573.7 97.5h0M561.5 80.1h0M561.4 143.0h0M597.7 83.0h0M556.3 126.4h0M565.5 156.4h0M581.8 94.5h0M575.4 100.1h0M581.2 87.5h0M563.6 100.4h0M572.4 107.5h0M560.9 97.3h0M548.0 153.5h0M562.4 105.8h0M572.8 91.1h0M554.7 122.9h0M554.5 143.0h0M555.8 144.5h0M565.4 99.9h0M572.2 75.7h0M574.6 137.9h0M567.0 74.1h0M572.2 147.4h0M567.7 77.5h0M590.3 81.0h0M576.2 121.0h0M544.8 145.5h0M552.0 136.4h0M587.9 91.9h0M579.5 119.5h0M563.6 135.7h0M590.3 93.0h0M554.9 103.1h0M558.0 129.6h0M600.2 94.8h0M570.7 121.6h0M569.7 145.7h0M555.5 122.2h0M580.1 103.1h0M568.3 108.8h0M564.1 115.0h0M566.2 152.3h0M578.4 98.1h0M592.5 106.2h0M560.1 138.8h0M585.0 85.2h0M567.8 72.5h0M561.8 112.7h0M566.4 112.7h0M578.5 105.1h0M557.8 153.2h0M565.1 103.8h0M563.9 133.5h0M562.0 115.8h0M565.1 151.4h0M565.3 153.8h0M570.5 122.3h0M554.7 125.4h0M568.4 139.9h0M569.7 137.1h0M554.1 149.0h0M578.6 102.1h0M578.3 92.4h0M565.5 120.8h0M579.2 84.6h0M560.2 91.5h0M567.5 122.3h0M574.6 110.3h0M555.3 138.0h0M547.2 132.9h0M552.9 126.7h0M567.4 141.0h0M596.0 90.9h0M560.5 86.4h0M559.4 105.5h0M564.7 149.2h0M572.5 136.2h0M571.7 84.2h0M573.0 117.3h0M551.8 135.5h0M575.7 90.6h0M567.6 87.5h0M585.8 95.9h0M572.1 137.6h0M554.4 102.7h0M582.2 117.1h0M556.7 150.6h0M549.3 148.3h0M588.0 101.1h0M565.8 129.5h0M572.6 142.2h0M574.1 140.0h0M558.4 144.0h0M560.6 99.3h0M587.7 119.7h0M572.9 92.1h0M571.0 153.7h0M553.5 133.9h0M585.1 121.4h0M589.7 74.8h0M557.1 128.1h0M555.5 115.4h0M573.8 142.1h0M574.8 85.0h0M581.2 103.4h0M556.5 104.8h0M561.8 118.3h0M585.1 91.5h0M556.7 102.1h0M566.2 137.5h0M554.8 126.0h0M557.8 117.0h0M553.0 144.0h0M593.6 78.2h0M572.8 147.2h0M550.4 109.6h0M553.8 148.1h0M552.0 155.7h0M589.9 98.4h0M556.8 115.3h0M562.6 114.3h0M577.2 117.6h0M552.4 113.5h0M560.2 122.4h0M580.0 131.6h0M568.3 109.8h0M557.1 137.4h0M597.9 75.6h0M574.2 105.2h0M594.9 107.3h0M583.7 96.5h0M588.4 84.6h0M562.3 133.5h0M593.0 113.7h0M597.7 79.7h0M573.5 93.9h0M564.5 153.6h0M588.5 79.9h0M581.4 97.6h0M577.1 125.8h0M555.2 122.8h0M577.1 138.7h0M557.7 147.1h0M576.5 117.2h0M550.2 120.2h0M576.7 130.2h0M580.2 106.8h0M585.2 115.5h0M560.5 127.8h0M577.1 72.0h0M586.8 105.4h0M561.3 114.2h0M571.9 154.5h0M564.1 92.6h0M552.2 105.4h0M556.6 106.9h0M551.6 130.4h0M549.0 118.6h0M573.2 152.7h0M569.4 73.8h0M580.2 113.5h0M580.4 126.5h0M588.8 117.4h0M573.9 126.8h0M553.1 136.5h0M545.1 138.7h0M556.8 145.8h0M555.0 109.0h0M550.6 148.8h0M553.3 134.0h0M575.8 94.1h0M593.1 99.5h0M574.9 144.4h0M575.5 105.8h0M549.7 152.7h0M551.5 123.4h0M583.6 116.9h0M580.7 98.3h0M563.9 80.3h0M565.7 135.3h0M561.4 87.2h0M546.6 155.7h0M571.2 91.7h0M599.3 84.9h0M554.3 122.7h0M564.5 93.4h0M563.2 150.9h0M562.5 147.1h0M573.2 101.4h0M574.2 101.8h0M566.1 91.9h0M565.1 98.9h0M550.4 133.2h0M583.3 103.4h0M552.6 107.9h0M592.4 95.4h0M560.6 150.9h0M565.7 130.7h0M548.5 119.4h0M591.5 93.9h0M553.0 121.7h0M588.7 102.6h0M553.6 143.9h0M560.9 117.0h0M572.0 115.8h0M569.5 79.2h0M558.3 102.9h0M551.0 124.0h0M568.9 121.6h0M577.5 144.7h0M581.5 80.4h0M573.3 153.8h0M559.5 90.4h0M568.0 149.8h0M552.9 108.7h0M555.7 124.4h0M560.7 90.4h0M566.1 85.6h0M579.4 99.2h0M568.4 101.3h0M582.9 107.8h0M589.6 84.4h0M583.5 107.1h0M577.2 147.3h0M572.7 100.6h0M567.8 98.2h0M564.4 147.3h0M566.5 90.4h0M590.0 75.5h0M549.2 117.4h0M586.5 118.7h0M581.9 93.3h0M558.4 140.7h0M553.5 124.9h0M554.6 149.8h0M569.2 101.4h0M552.6 154.5h0M592.8 75.6h0M581.0 119.8h0M587.4 106.9h0M581.5 100.9h0M590.0 75.9h0M567.8 112.6h0M577.7 134.8h0M564.5 155.3h0M560.6 87.9h0M554.1 126.4h0M582.2 90.4h0M559.0 132.1h0M594.4 97.8h0M580.8 129.5h0M557.9 148.1h0M546.5 136.0h0M583.3 97.5h0M592.1 77.1h0M584.0 124.6h0M566.5 117.4h0M584.1 111.5h0M577.4 80.1h0M550.8 150.5h0M554.5 135.6h0M593.0 73.1h0M562.8 102.6h0M579.9 106.4h0M546.6 134.0h0M561.0 89.8h0M578.1 124.4h0M565.4 104.1h0M584.1 118.6h0M596.6 100.0h0M579.4 88.8h0M584.6 115.3h0M555.7 145.4h0M567.0 139.2h0M569.8 155.8h0M550.1 145.0h0M590.1 111.9h0M577.4 100.9h0M579.8 102.2h0M567.6 87.9h0M557.6 112.1h0M576.8 144.8h0M566.7 97.4h0M562.8 118.4h0M570.7 149.1h0M577.5 108.8h0M570.6 119.6h0M550.8 149.2h0M551.4 149.6h0M567.2 156.5h0M584.9 72.6h0M562.1 90.4h0M563.3 88.9h0M567.4 155.8h0M559.3 126.4h0M586.0 85.8h0M563.6 100.3h0M565.6 78.3h0M577.3 141.3h0M589.1 100.6h0M581.9 95.1h0M593.3 72.5h0M550.8 145.3h0M570.5 155.0h0M594.0 95.8h0M595.0 99.1h0M593.5 92.1h0M561.9 80.6h0M573.5 108.1h0M567.2 79.3h0M583.6 125.2h0M558.9 142.6h0M569.9 122.7h0M566.0 139.9h0M578.6 127.7h0M563.5 88.6h0M550.6 144.9h0M586.7 75.1h0M591.8 92.4h0M559.3 92.1h0M556.5 93.7h0M566.4 152.9h0M587.2 117.9h0M555.7 131.4h0M589.4 82.0h0M555.8 130.4h0M554.5 154.4h0M566.2 102.8h0M593.0 90.1h0M547.2 154.8h0M588.7 106.1h0M588.8 100.5h0M576.4 121.8h0M557.8 104.8h0M582.8 105.5h0M586.2 105.1h0M552.8 128.7h0M583.7 103.5h0M553.0 155.4h0M553.9 111.5h0M575.7 142.1h0M566.0 74.5h0M581.4 125.3h0M556.8 142.7h0M565.8 91.6h0M592.2 104.8h0M572.5 153.3h0M554.9 149.5h0M553.4 101.7h0M560.8 120.2h0M558.7 130.1h0M562.0 130.4h0M571.5 83.8h0M555.9 116.4h0M570.3 73.3h0M579.1 96.1h0M569.4 137.5h0M562.9 144.2h0M569.4 99.0h0M595.0 109.6h0M553.8 143.9h0M568.5 146.9h0M554.5 116.3h0M563.7 92.7h0M548.4 125.2h0M579.2 125.8h0M562.7 97.9h0M567.9 113.2h0M548.9 139.0h0M569.0 113.0h0M564.5 88.8h0M571.3 150.1h0M564.1 99.9h0M571.9 135.6h0M571.0 145.2h0M572.8 106.6h0M592.2 82.5h0M554.2 98.8h0M552.2 138.5h0M582.4 106.0h0M561.5 114.2h0M565.8 105.0h0M559.7 101.2h0M570.2 152.6h0M561.4 110.1h0M553.7 150.2h0M572.8 150.9h0M599.5 91.5h0M568.2 139.5h0M585.8 74.5h0M567.1 75.8h0M559.8 103.1h0M593.2 111.0h0M578.4 105.7h0M555.1 125.7h0M582.7 88.4h0M567.8 87.7h0M564.1 99.1h0M582.6 92.7h0M598.9 88.1h0M586.7 85.6h0M594.4 98.4h0M559.3 93.0h0M594.5 83.4h0M564.6 117.8h0M561.8 155.8h0M583.8 108.7h0M562.6 140.9h0M597.2 95.8h0M576.2 145.0h0M577.5 143.1h0M552.0 111.6h0M574.4 96.7h0M552.4 124.6h0M581.4 122.5h0M573.8 83.6h0M558.1 112.5h0M567.8 120.3h0M574.6 87.0h0M575.3 118.3h0M559.4 138.1h0M562.5 117.0h0M570.1 124.2h0M550.1 155.5h0M590.9 109.1h0M568.4 141.7h0M565.6 109.6h0M560.1 136.5h0M573.5 110.0h0M587.5 97.3h0M559.0 114.3h0M574.8 136.6h0M580.1 92.5h0M561.3 135.0h0M557.2 145.0h0M554.7 99.4h0M570.2 77.6h0M587.3 85.4h0M572.9 121.7h0M571.6 147.0h0M568.9 125.0h0M558.5 136.5h0M566.8 94.9h0M564.2 156.6h0M595.0 102.3h0M576.1 93.7h0M553.8 147.1h0M571.4 110.6h0M559.8 131.8h0M551.8 112.0h0M579.5 89.2h0M553.3 136.6h0M573.7 120.8h0M566.9 138.0h0M577.3 87.1h0M554.5 136.0h0M557.4 119.0h0M559.9 104.2h0M574.9 93.4h0M576.3 103.7h0M589.4 99.1h0M569.5 76.1h0M582.7 95.1h0M555.5 139.9h0M554.2 107.1h0M570.9 106.7h0M550.2 128.0h0M577.8 122.5h0M595.2 106.9h0M563.7 145.6h0M576.5 112.4h0M563.2 101.2h0M576.7 110.2h0M554.6 127.2h0M576.5 146.4h0M567.5 134.9h0M596.9 91.9h0M552.3 110.5h0M597.7 95.9h0M549.0 151.7h0M561.5 121.6h0M568.9 114.9h0M579.8 106.0h0M565.1 99.9h0M547.9 141.5h0M575.4 139.7h0M569.1 146.8h0M592.1 102.4h0M577.0 128.1h0M575.6 128.1h0M567.3 83.4h0M589.7 81.1h0M564.0 103.9h0M590.9 100.7h0M548.7 146.6h0M566.6 96.7h0M566.8 138.7h0M559.5 100.8h0M572.8 84.7h0M580.9 120.6h0M551.6 139.9h0M583.0 105.7h0M572.0 151.1h0M566.8 152.3h0M562.8 133.6h0M558.8 150.9h0M583.1 102.1h0M587.2 78.9h0M599.5 85.2h0M575.3 126.3h0M588.7 96.8h0M549.4 120.1h0M573.7 96.2h0M589.7 106.2h0M582.8 124.6h0M550.4 129.3h0M557.0 91.3h0M565.0 121.9h0M580.5 90.7h0M558.8 104.2h0M553.1 142.6h0M570.3 107.5h0M562.5 98.4h0M572.5 95.7h0M584.2 114.2h0M584.7 108.8h0M581.5 102.9h0M564.5 77.4h0M573.8 100.3h0M555.4 128.2h0M583.0 85.5h0M576.6 120.4h0M579.9 90.1h0M588.5 106.0h0M545.2 147.3h0M572.5 122.6h0M564.3 134.9h0M580.9 119.9h0M562.9 137.8h0M554.1 116.9h0M569.4 152.1h0M582.7 120.0h0M570.2 88.9h0M558.2 115.2h0M591.9 83.8h0M553.3 126.8h0M569.6 116.7h0M564.0 135.6h0M547.2 153.3h0M554.9 142.7h0M576.8 135.6h0M580.6 121.0h0M557.1 147.2h0M554.9 116.7h0M594.1 90.6h0M583.9 124.7h0M555.0 110.1h0M560.9 90.1h0M561.4 131.8h0M590.1 72.5h0M558.5 135.3h0M585.1 84.3h0M555.3 126.6h0M561.0 146.6h0M584.6 85.1h0M574.0 78.1h0M589.8 88.6h0M588.3 89.5h0M575.2 111.5h0M569.3 107.9h0M594.2 106.4h0M576.0 103.2h0M553.5 150.9h0M563.7 136.3h0M573.6 132.9h0M582.1 117.6h0M587.8 96.9h0M568.5 143.1h0M570.4 143.7h0M569.4 96.8h0M557.3 148.5h0M588.6 77.0h0M545.9 145.1h0M571.3 86.5h0M585.8 92.0h0M565.0 101.1h0M589.2 96.9h0M591.9 82.3h0M598.1 103.0h0M591.2 100.5h0M573.8 131.2h0M597.9 77.2h0M552.6 144.1h0M556.7 115.1h0M572.0 84.0h0M584.8 125.3h0M562.9 102.2h0M556.9 153.6h0M571.1 143.1h0M572.1 110.3h0M577.4 87.9h0M562.3 99.7h0M551.9 134.2h0M589.9 96.2h0M597.6 101.5h0M552.1 120.1h0M564.2 106.4h0M587.4 123.2h0M566.2 108.0h0M560.7 136.8h0M585.7 106.4h0M577.3 131.6h0M557.0 120.5h0M555.5 128.3h0M596.1 77.0h0M558.4 107.5h0M550.9 117.1h0M581.0 115.0h0M566.7 148.0h0M589.8 82.9h0M558.2 94.6h0M578.2 121.7h0M566.4 77.2h0M552.2 106.9h0M572.3 154.8h0M584.5 102.3h0M552.8 115.6h0M574.8 124.1h0M594.0 89.4h0M548.5 136.6h0M569.3 141.3h0M557.6 99.1h0M579.2 96.2h0M552.9 143.1h0M586.7 108.5h0M573.5 111.9h0M572.2 135.8h0M586.2 76.1h0M544.8 143.0h0M593.4 73.1h0M559.7 154.2h0M586.7 72.5h0M578.5 119.7h0M560.8 99.9h0M593.2 107.4h0M583.0 104.8h0M570.9 122.9h0M572.3 103.0h0M555.4 140.7h0M575.6 87.1h0M560.9 142.8h0M587.9 69.1h0M596.6 99.5h0M567.0 104.4h0M569.3 117.0h0M563.9 82.1h0M568.0 141.4h0M595.1 82.2h0M559.0 155.3h0M581.7 117.7h0M545.1 148.5h0M574.1 112.9h0M576.4 102.1h0M591.5 84.8h0M594.2 110.3h0M567.4 111.9h0M578.4 113.2h0M583.1 92.2h0M549.9 113.5h0M591.5 97.8h0M572.7 91.3h0M566.0 154.3h0M581.2 128.8h0M562.0 93.9h0M563.8 107.3h0M555.0 130.3h0M567.3 149.7h0M585.9 94.3h0M581.4 96.9h0M560.8 136.5h0M551.6 108.1h0M573.3 89.4h0M561.8 114.1h0M551.1 113.6h0M563.7 139.1h0M588.8 90.4h0M594.8 103.4h0M598.7 81.0h0M560.6 103.2h0M585.1 121.5h0M563.0 145.5h0M575.4 155.5h0M564.2 102.5h0M551.9 104.7h0M600.0 94.7h0M578.6 132.4h0M561.2 142.0h0M569.8 123.7h0M566.7 150.4h0M546.2 155.0h0M567.3 94.8h0M576.7 99.5h0M581.5 129.7h0M598.4 101.0h0M586.0 111.5h0M589.1 80.2h0M585.0 119.6h0M598.6 102.1h0M580.3 124.0h0M563.9 125.8h0M554.5 138.5h0M583.3 75.4h0M587.9 93.8h0M571.2 130.8h0M552.1 149.9h0M576.0 83.7h0M565.1 124.0h0M575.1 156.6h0M566.8 131.9h0M564.6 112.5h0M566.3 137.4h0M576.3 133.5h0M593.4 94.1h0M557.5 106.6h0M569.5 121.5h0M568.3 136.7h0M555.0 99.3h0M582.9 90.2h0M574.8 146.3h0M552.7 120.8h0M544.6 153.7h0M575.7 93.0h0M555.1 97.6h0M569.8 138.2h0M566.5 95.2h0M578.8 130.6h0M562.0 151.2h0M575.7 81.0h0M563.8 151.7h0M591.8 96.3h0M565.3 149.3h0M560.6 93.7h0M590.7 101.5h0M597.9 80.3h0M586.5 124.0h0M590.9 117.5h0M558.8 146.8h0M589.0 105.2h0M556.0 104.2h0M562.4 94.9h0M575.7 96.7h0M559.3 120.2h0M580.0 101.8h0M588.1 97.3h0M549.2 154.6h0M593.9 102.0h0M568.2 124.0h0M548.4 138.4h0M548.3 126.1h0M590.1 96.8h0M573.9 122.2h0M560.8 135.9h0M587.2 94.3h0M572.1 115.7h0M548.4 134.4h0M569.3 138.6h0M549.3 115.6h0M586.2 86.6h0M560.1 95.1h0M579.6 90.0h0M562.0 110.0h0M559.7 97.0h0M574.8 108.8h0M557.8 109.2h0M578.0 88.8h0M561.7 104.8h0M600.0 88.5h0M569.1 76.1h0M562.9 144.8h0M593.1 90.9h0M591.1 107.2h0M558.1 111.9h0M559.9 101.3h0M566.7 112.3h0M550.3 122.9h0M582.1 128.8h0M600.4 93.0h0M567.3 111.3h0M584.8 110.0h0M548.5 146.8h0M550.3 111.1h0M581.5 105.3h0M556.2 109.9h0M551.1 119.5h0M573.6 122.7h0M572.8 154.5h0M589.1 115.9h0M557.8 92.0h0M580.6 97.1h0M563.3 82.1h0M565.3 134.4h0M558.4 96.9h0M587.9 116.6h0M558.3 113.6h0M559.8 107.3h0M567.9 128.0h0M569.1 148.0h0M586.1 100.4h0M565.3 140.1h0M579.3 97.3h0M574.7 152.4h0M592.4 79.3h0M565.5 113.2h0M599.3 86.8h0M550.1 139.0h0M599.9 99.2h0M566.1 109.6h0M560.9 104.3h0M585.5 96.7h0M566.5 93.1h0M590.0 101.7h0M562.8 143.9h0M556.1 97.1h0M561.0 133.9h0M550.5 144.3h0M591.4 112.2h0M554.0 151.5h0M553.7 113.8h0M550.8 144.3h0M581.8 119.5h0M558.7 117.8h0M567.7 89.8h0M578.4 90.4h0M570.8 152.1h0M554.7 113.7h0M564.6 141.1h0M547.5 131.6h0M567.8 91.6h0M563.9 79.0h0M595.4 83.2h0M563.5 127.5h0M567.5 132.3h0M589.5 85.1h0M562.0 144.5h0M584.3 73.6h0M558.4 127.4h0M572.6 138.5h0M564.9 139.1h0M588.7 75.2h0M552.9 113.3h0M561.5 87.1h0M589.9 90.7h0M550.6 135.4h0M556.5 129.3h0M582.3 101.2h0M587.1 82.4h0M559.7 102.9h0M570.0 107.0h0M559.3 96.3h0M582.0 87.3h0M591.1 102.6h0M553.8 112.9h0M562.9 140.3h0M556.7 101.1h0M564.9 95.9h0M576.4 124.9h0M592.4 109.6h0M545.0 144.5h0M568.1 121.7h0M554.3 143.1h0M567.7 132.9h0M569.8 115.4h0M588.3 77.8h0M565.6 80.9h0M561.7 152.5h0M558.1 146.2h0M565.8 116.0h0M554.8 99.8h0M572.9 87.2h0M577.6 139.6h0M580.6 126.9h0M562.3 89.1h0M578.4 133.7h0M546.3 151.8h0M557.3 143.9h0M574.4 77.1h0M574.4 155.3h0M570.1 96.8h0M571.1 83.7h0M556.2 129.9h0M595.5 90.2h0M562.0 91.5h0M558.6 87.6h0M596.7 93.7h0M551.0 109.6h0M568.9 131.9h0M555.6 133.6h0M586.8 77.5h0M550.1 119.0h0M577.0 91.0h0M566.9 143.0h0M570.6 95.2h0M553.4 110.3h0M582.8 100.6h0M554.4 111.6h0M567.5 152.1h0M563.7 134.9h0M568.7 111.4h0M573.9 122.0h0M561.2 143.4h0M575.2 77.2h0M591.7 114.6h0M564.7 126.2h0M560.2 153.7h0M577.7 143.1h0M558.4 107.2h0M565.0 79.9h0M561.7 141.7h0M554.8 97.9h0M594.0 124.5h0M592.1 138.2h0M588.3 142.5h0M594.7 154.1h0M579.7 154.6h0M594.6 147.1h0M597.9 154.1h0M598.2 133.8h0M597.8 144.5h0M591.7 132.7h0M594.7 127.4h0M596.5 148.1h0M591.3 135.5h0M595.3 135.5h0M598.4 104.3h0M596.7 154.0h0M593.8 123.9h0M588.5 141.4h0M593.7 144.4h0M599.8 133.9h0M594.4 121.6h0M596.6 135.3h0M588.3 133.7h0M595.7 130.0h0M595.7 133.9h0M599.2 125.6h0M582.3 154.1h0M587.5 138.6h0M584.6 140.4h0M594.2 128.3h0M590.8 152.7h0M597.3 124.9h0M582.6 154.6h0M588.7 132.7h0M586.4 143.3h0M589.0 143.7h0M591.3 138.4h0M593.3 136.7h0M598.0 148.5h0M589.9 136.8h0M587.0 150.3h0M584.2 146.2h0M599.0 128.6h0M598.2 141.6h0M594.0 147.4h0M594.3 116.0h0M582.7 150.0h0M598.5 133.0h0M597.7 119.1h0M598.4 155.5h0M595.2 115.1h0M589.6 147.7h0M599.4 144.0h0M577.7 154.9h0M595.2 123.5h0M579.3 154.9h0M588.2 137.6h0M584.5 141.3h0M595.0 140.5h0M585.2 144.0h0M591.1 148.1h0M597.8 106.9h0M597.8 130.1h0M592.9 131.3h0M585.2 153.5h0M596.8 117.7h0M579.7 155.6h0M599.3 103.8h0M592.7 138.0h0M593.2 156.9h0M581.6 149.6h0M597.8 144.6h0M596.1 113.1h0M597.1 134.8h0M593.4 126.5h0M585.2 146.6h0M598.3 150.9h0M588.8 131.7h0M589.6 128.1h0M592.4 128.3h0M592.7 128.6h0M594.6 145.4h0M584.7 139.6h0M597.1 124.0h0M598.6 125.4h0M598.5 115.1h0M597.5 140.0h0M599.9 139.9h0M594.0 121.8h0M584.6 151.0h0M577.2 156.3h0M578.7 154.7h0M581.8 154.1h0M589.9 138.5h0M585.7 150.4h0M593.9 149.2h0M582.6 145.8h0M599.8 134.9h0M581.2 152.4h0M585.0 154.8h0M587.1 132.2h0M594.9 137.6h0M586.2 142.2h0M598.7 145.0h0M585.7 140.4h0M595.4 119.3h0M597.8 141.6h0M595.8 119.1h0M596.2 132.3h0M580.0 149.5h0M566.7 39.7h0M578.3 48.6h0M585.5 51.2h0M589.0 53.8h0M579.4 55.8h0M575.9 58.5h0M587.3 58.9h0M568.2 62.0h0M595.2 62.8h0M567.0 68.8h0M572.7 68.8h0M580.5 69.9h0M589.5 68.0h0M595.2 69.9h0M563.1 73.9h0M549.6 86.2h0M549.6 92.4h0M558.6 87.4h0M558.6 99.2h0M545.1 106.6h0M604.2 93.0h0M602.4 85.7h0M577.1 57.6h0M570.5 66.7h0M584.3 65.4h0" stroke="#EE0000" stroke-width="2.7" stroke-linecap="round" fill="none"/>
<line x1="467.00" y1="157.28" x2="610.80" y2="157.28" stroke="#000" stroke-width="1.0" stroke-dasharray="3,2"/>
<line x1="535.30" y1="33.50" x2="535.30" y2="180.70" stroke="#000" stroke-width="1.0" stroke-dasharray="3,2"/>
<line x1="542.42" y1="33.50" x2="542.42" y2="180.70" stroke="#000" stroke-width="1.0" stroke-dasharray="3,2"/>
<text x="532.60" y="161.50" font-size="7.8" text-anchor="middle" fill="#333" >P value 0.05</text>
<line x1="467.00" y1="33.50" x2="467.00" y2="181.40" stroke="#000" stroke-width="1.5" />
<line x1="466.30" y1="180.70" x2="610.80" y2="180.70" stroke="#000" stroke-width="1.5" />
<line x1="465.00" y1="44.70" x2="467.00" y2="44.70" stroke="#333" stroke-width="0.6" />
<text x="464.00" y="47.26" font-size="7.2" text-anchor="end" fill="#4d4d4d" >10.0</text>
<line x1="465.00" y1="77.05" x2="467.00" y2="77.05" stroke="#333" stroke-width="0.6" />
<text x="464.00" y="79.61" font-size="7.2" text-anchor="end" fill="#4d4d4d" >7.5</text>
<line x1="465.00" y1="109.40" x2="467.00" y2="109.40" stroke="#333" stroke-width="0.6" />
<text x="464.00" y="111.96" font-size="7.2" text-anchor="end" fill="#4d4d4d" >5.0</text>
<line x1="465.00" y1="141.75" x2="467.00" y2="141.75" stroke="#333" stroke-width="0.6" />
<text x="464.00" y="144.31" font-size="7.2" text-anchor="end" fill="#4d4d4d" >2.5</text>
<line x1="465.00" y1="174.10" x2="467.00" y2="174.10" stroke="#333" stroke-width="0.6" />
<text x="464.00" y="176.66" font-size="7.2" text-anchor="end" fill="#4d4d4d" >0.0</text>
<line x1="478.80" y1="180.70" x2="478.80" y2="182.70" stroke="#333" stroke-width="0.6" />
<text x="478.80" y="190.00" font-size="6.6" text-anchor="middle" fill="#4d4d4d" >−10</text>
<line x1="508.95" y1="180.70" x2="508.95" y2="182.70" stroke="#333" stroke-width="0.6" />
<text x="508.95" y="190.00" font-size="6.6" text-anchor="middle" fill="#4d4d4d" >−5</text>
<line x1="539.10" y1="180.70" x2="539.10" y2="182.70" stroke="#333" stroke-width="0.6" />
<text x="539.10" y="190.00" font-size="6.6" text-anchor="middle" fill="#4d4d4d" >0</text>
<line x1="569.25" y1="180.70" x2="569.25" y2="182.70" stroke="#333" stroke-width="0.6" />
<text x="569.25" y="190.00" font-size="6.6" text-anchor="middle" fill="#4d4d4d" >5</text>
<line x1="599.40" y1="180.70" x2="599.40" y2="182.70" stroke="#333" stroke-width="0.6" />
<text x="599.40" y="190.00" font-size="6.6" text-anchor="middle" fill="#4d4d4d" >10</text>
<text x="537.60" y="201.60" font-size="8.9" text-anchor="middle" fill="#000" >Log2 (A_S/C)</text>
<text x="0" y="0" font-size="8.5" text-anchor="middle" transform="translate(444.6 105.7) rotate(-90)">−Log10 (P value)</text>
<text x="624.70" y="86.50" font-size="8.9" text-anchor="start" fill="#000" >regulated</text>
<circle cx="631.50" cy="99.20" r="1.50" fill="#2A6A2A"/>
<text x="643.80" y="102.00" font-size="7.3" text-anchor="start" fill="#000" >down</text>
<circle cx="631.50" cy="113.90" r="1.50" fill="#BBBBBB"/>
<text x="643.80" y="116.50" font-size="7.3" text-anchor="start" fill="#000" >none</text>
<circle cx="631.50" cy="128.00" r="1.50" fill="#7A2020"/>
<text x="643.80" y="130.60" font-size="7.3" text-anchor="start" fill="#000" >up</text>
<g shape-rendering="crispEdges">
<rect x="328.2" y="234.6" width="15.6" height="4.2" fill="#bbe1ee"/>
<rect x="343.5" y="234.6" width="15.6" height="4.2" fill="#bbe1ee"/>
<rect x="358.7" y="234.6" width="15.6" height="4.2" fill="#bbe1ee"/>
<rect x="374.0" y="234.6" width="15.6" height="4.2" fill="#bbe1ee"/>
<rect x="389.2" y="234.6" width="15.6" height="4.2" fill="#bbe1ee"/>
<rect x="404.5" y="234.6" width="15.6" height="4.2" fill="#bbe1ee"/>
<rect x="419.8" y="234.6" width="15.6" height="4.2" fill="#ffffbf"/>
<rect x="435.0" y="234.6" width="15.6" height="4.2" fill="#fee090"/>
<rect x="450.3" y="234.6" width="15.6" height="4.2" fill="#fdae61"/>
<rect x="465.5" y="234.6" width="15.6" height="4.2" fill="#fee090"/>
<rect x="480.8" y="234.6" width="15.6" height="4.2" fill="#a50026"/>
<rect x="328.2" y="238.5" width="15.6" height="4.2" fill="#bbe1ee"/>
<rect x="343.5" y="238.5" width="15.6" height="4.2" fill="#d5eef5"/>
<rect x="358.7" y="238.5" width="15.6" height="4.2" fill="#d5eef5"/>
<rect x="374.0" y="238.5" width="15.6" height="4.2" fill="#bbe1ee"/>
<rect x="389.2" y="238.5" width="15.6" height="4.2" fill="#bbe1ee"/>
<rect x="404.5" y="238.5" width="15.6" height="4.2" fill="#bbe1ee"/>
<rect x="419.8" y="238.5" width="15.6" height="4.2" fill="#f9fdca"/>
<rect x="435.0" y="238.5" width="15.6" height="4.2" fill="#e0f3f8"/>
<rect x="450.3" y="238.5" width="15.6" height="4.2" fill="#fee090"/>
<rect x="465.5" y="238.5" width="15.6" height="4.2" fill="#fdae61"/>
<rect x="480.8" y="238.5" width="15.6" height="4.2" fill="#a50026"/>
<rect x="328.2" y="242.3" width="15.6" height="4.2" fill="#bbe1ee"/>
<rect x="343.5" y="242.3" width="15.6" height="4.2" fill="#bbe1ee"/>
<rect x="358.7" y="242.3" width="15.6" height="4.2" fill="#bbe1ee"/>
<rect x="374.0" y="242.3" width="15.6" height="4.2" fill="#bbe1ee"/>
<rect x="389.2" y="242.3" width="15.6" height="4.2" fill="#bbe1ee"/>
<rect x="404.5" y="242.3" width="15.6" height="4.2" fill="#bbe1ee"/>
<rect x="419.8" y="242.3" width="15.6" height="4.2" fill="#fef0a8"/>
<rect x="435.0" y="242.3" width="15.6" height="4.2" fill="#f0f9dc"/>
<rect x="450.3" y="242.3" width="15.6" height="4.2" fill="#ffffbf"/>
<rect x="465.5" y="242.3" width="15.6" height="4.2" fill="#f46d43"/>
<rect x="480.8" y="242.3" width="15.6" height="4.2" fill="#a50026"/>
<rect x="328.2" y="246.2" width="15.6" height="4.2" fill="#fdae61"/>
<rect x="343.5" y="246.2" width="15.6" height="4.2" fill="#95c7df"/>
<rect x="358.7" y="246.2" width="15.6" height="4.2" fill="#cbe9f2"/>
<rect x="374.0" y="246.2" width="15.6" height="4.2" fill="#79b1d3"/>
<rect x="389.2" y="246.2" width="15.6" height="4.2" fill="#a0d0e4"/>
<rect x="404.5" y="246.2" width="15.6" height="4.2" fill="#d5eef5"/>
<rect x="419.8" y="246.2" width="15.6" height="4.2" fill="#ffffbf"/>
<rect x="435.0" y="246.2" width="15.6" height="4.2" fill="#ffffbf"/>
<rect x="450.3" y="246.2" width="15.6" height="4.2" fill="#f0f9dc"/>
<rect x="465.5" y="246.2" width="15.6" height="4.2" fill="#a50026"/>
<rect x="480.8" y="246.2" width="15.6" height="4.2" fill="#f46d43"/>
<rect x="328.2" y="250.1" width="15.6" height="4.2" fill="#bbe1ee"/>
<rect x="343.5" y="250.1" width="15.6" height="4.2" fill="#d5eef5"/>
<rect x="358.7" y="250.1" width="15.6" height="4.2" fill="#84bad8"/>
<rect x="374.0" y="250.1" width="15.6" height="4.2" fill="#d5eef5"/>
<rect x="389.2" y="250.1" width="15.6" height="4.2" fill="#abd9e9"/>
<rect x="404.5" y="250.1" width="15.6" height="4.2" fill="#95c7df"/>
<rect x="419.8" y="250.1" width="15.6" height="4.2" fill="#fec778"/>
<rect x="435.0" y="250.1" width="15.6" height="4.2" fill="#d73027"/>
<rect x="450.3" y="250.1" width="15.6" height="4.2" fill="#e9f7e7"/>
<rect x="465.5" y="250.1" width="15.6" height="4.2" fill="#f88e52"/>
<rect x="480.8" y="250.1" width="15.6" height="4.2" fill="#d73027"/>
<rect x="328.2" y="253.9" width="15.6" height="4.2" fill="#d5eef5"/>
<rect x="343.5" y="253.9" width="15.6" height="4.2" fill="#d5eef5"/>
<rect x="358.7" y="253.9" width="15.6" height="4.2" fill="#bbe1ee"/>
<rect x="374.0" y="253.9" width="15.6" height="4.2" fill="#d5eef5"/>
<rect x="389.2" y="253.9" width="15.6" height="4.2" fill="#bbe1ee"/>
<rect x="404.5" y="253.9" width="15.6" height="4.2" fill="#bbe1ee"/>
<rect x="419.8" y="253.9" width="15.6" height="4.2" fill="#f6fbd0"/>
<rect x="435.0" y="253.9" width="15.6" height="4.2" fill="#fed182"/>
<rect x="450.3" y="253.9" width="15.6" height="4.2" fill="#e0f3f8"/>
<rect x="465.5" y="253.9" width="15.6" height="4.2" fill="#a50026"/>
<rect x="480.8" y="253.9" width="15.6" height="4.2" fill="#be1826"/>
<rect x="328.2" y="257.8" width="15.6" height="4.2" fill="#a0d0e4"/>
<rect x="343.5" y="257.8" width="15.6" height="4.2" fill="#a0d0e4"/>
<rect x="358.7" y="257.8" width="15.6" height="4.2" fill="#a0d0e4"/>
<rect x="374.0" y="257.8" width="15.6" height="4.2" fill="#a0d0e4"/>
<rect x="389.2" y="257.8" width="15.6" height="4.2" fill="#a0d0e4"/>
<rect x="404.5" y="257.8" width="15.6" height="4.2" fill="#a0d0e4"/>
<rect x="419.8" y="257.8" width="15.6" height="4.2" fill="#fa9a58"/>
<rect x="435.0" y="257.8" width="15.6" height="4.2" fill="#ffffbf"/>
<rect x="450.3" y="257.8" width="15.6" height="4.2" fill="#ffffbf"/>
<rect x="465.5" y="257.8" width="15.6" height="4.2" fill="#eb5b3b"/>
<rect x="480.8" y="257.8" width="15.6" height="4.2" fill="#a50026"/>
<rect x="328.2" y="261.7" width="15.6" height="4.2" fill="#d5eef5"/>
<rect x="343.5" y="261.7" width="15.6" height="4.2" fill="#d5eef5"/>
<rect x="358.7" y="261.7" width="15.6" height="4.2" fill="#d5eef5"/>
<rect x="374.0" y="261.7" width="15.6" height="4.2" fill="#d5eef5"/>
<rect x="389.2" y="261.7" width="15.6" height="4.2" fill="#a0d0e4"/>
<rect x="404.5" y="261.7" width="15.6" height="4.2" fill="#a0d0e4"/>
<rect x="419.8" y="261.7" width="15.6" height="4.2" fill="#e6f5ed"/>
<rect x="435.0" y="261.7" width="15.6" height="4.2" fill="#ffffbf"/>
<rect x="450.3" y="261.7" width="15.6" height="4.2" fill="#be1826"/>
<rect x="465.5" y="261.7" width="15.6" height="4.2" fill="#f88e52"/>
<rect x="480.8" y="261.7" width="15.6" height="4.2" fill="#e64e35"/>
<rect x="328.2" y="265.6" width="15.6" height="4.2" fill="#bbe1ee"/>
<rect x="343.5" y="265.6" width="15.6" height="4.2" fill="#d5eef5"/>
<rect x="358.7" y="265.6" width="15.6" height="4.2" fill="#a0d0e4"/>
<rect x="374.0" y="265.6" width="15.6" height="4.2" fill="#a0d0e4"/>
<rect x="389.2" y="265.6" width="15.6" height="4.2" fill="#a0d0e4"/>
<rect x="404.5" y="265.6" width="15.6" height="4.2" fill="#bbe1ee"/>
<rect x="419.8" y="265.6" width="15.6" height="4.2" fill="#fef0a8"/>
<rect x="435.0" y="265.6" width="15.6" height="4.2" fill="#fef0a8"/>
<rect x="450.3" y="265.6" width="15.6" height="4.2" fill="#d73027"/>
<rect x="465.5" y="265.6" width="15.6" height="4.2" fill="#fba15b"/>
<rect x="480.8" y="265.6" width="15.6" height="4.2" fill="#a50026"/>
<rect x="328.2" y="269.4" width="15.6" height="4.2" fill="#a0d0e4"/>
<rect x="343.5" y="269.4" width="15.6" height="4.2" fill="#a0d0e4"/>
<rect x="358.7" y="269.4" width="15.6" height="4.2" fill="#a0d0e4"/>
<rect x="374.0" y="269.4" width="15.6" height="4.2" fill="#a0d0e4"/>
<rect x="389.2" y="269.4" width="15.6" height="4.2" fill="#a0d0e4"/>
<rect x="404.5" y="269.4" width="15.6" height="4.2" fill="#a0d0e4"/>
<rect x="419.8" y="269.4" width="15.6" height="4.2" fill="#ffffbf"/>
<rect x="435.0" y="269.4" width="15.6" height="4.2" fill="#fdae61"/>
<rect x="450.3" y="269.4" width="15.6" height="4.2" fill="#d73027"/>
<rect x="465.5" y="269.4" width="15.6" height="4.2" fill="#eb5b3b"/>
<rect x="480.8" y="269.4" width="15.6" height="4.2" fill="#fec778"/>
<rect x="328.2" y="273.3" width="15.6" height="4.2" fill="#a0d0e4"/>
<rect x="343.5" y="273.3" width="15.6" height="4.2" fill="#a0d0e4"/>
<rect x="358.7" y="273.3" width="15.6" height="4.2" fill="#a0d0e4"/>
<rect x="374.0" y="273.3" width="15.6" height="4.2" fill="#84bad8"/>
<rect x="389.2" y="273.3" width="15.6" height="4.2" fill="#d5eef5"/>
<rect x="404.5" y="273.3" width="15.6" height="4.2" fill="#84bad8"/>
<rect x="419.8" y="273.3" width="15.6" height="4.2" fill="#fee090"/>
<rect x="435.0" y="273.3" width="15.6" height="4.2" fill="#fec778"/>
<rect x="450.3" y="273.3" width="15.6" height="4.2" fill="#a50026"/>
<rect x="465.5" y="273.3" width="15.6" height="4.2" fill="#fdae61"/>
<rect x="480.8" y="273.3" width="15.6" height="4.2" fill="#ee613d"/>
<rect x="328.2" y="277.2" width="15.6" height="4.2" fill="#f9fdca"/>
<rect x="343.5" y="277.2" width="15.6" height="4.2" fill="#cbe9f2"/>
<rect x="358.7" y="277.2" width="15.6" height="4.2" fill="#84bad8"/>
<rect x="374.0" y="277.2" width="15.6" height="4.2" fill="#bbe1ee"/>
<rect x="389.2" y="277.2" width="15.6" height="4.2" fill="#bbe1ee"/>
<rect x="404.5" y="277.2" width="15.6" height="4.2" fill="#bbe1ee"/>
<rect x="419.8" y="277.2" width="15.6" height="4.2" fill="#fdb86a"/>
<rect x="435.0" y="277.2" width="15.6" height="4.2" fill="#e6f5ed"/>
<rect x="450.3" y="277.2" width="15.6" height="4.2" fill="#a50026"/>
<rect x="465.5" y="277.2" width="15.6" height="4.2" fill="#f46d43"/>
<rect x="480.8" y="277.2" width="15.6" height="4.2" fill="#fee699"/>
<rect x="328.2" y="281.0" width="15.6" height="4.2" fill="#6ba2cb"/>
<rect x="343.5" y="281.0" width="15.6" height="4.2" fill="#bbe1ee"/>
<rect x="358.7" y="281.0" width="15.6" height="4.2" fill="#bbe1ee"/>
<rect x="374.0" y="281.0" width="15.6" height="4.2" fill="#eef9dd"/>
<rect x="389.2" y="281.0" width="15.6" height="4.2" fill="#bbe1ee"/>
<rect x="404.5" y="281.0" width="15.6" height="4.2" fill="#eef9dd"/>
<rect x="419.8" y="281.0" width="15.6" height="4.2" fill="#f9fdca"/>
<rect x="435.0" y="281.0" width="15.6" height="4.2" fill="#e6f5ed"/>
<rect x="450.3" y="281.0" width="15.6" height="4.2" fill="#a50026"/>
<rect x="465.5" y="281.0" width="15.6" height="4.2" fill="#fa9a58"/>
<rect x="480.8" y="281.0" width="15.6" height="4.2" fill="#fba15b"/>
<rect x="328.2" y="284.9" width="15.6" height="4.2" fill="#d5eef5"/>
<rect x="343.5" y="284.9" width="15.6" height="4.2" fill="#bbe1ee"/>
<rect x="358.7" y="284.9" width="15.6" height="4.2" fill="#bbe1ee"/>
<rect x="374.0" y="284.9" width="15.6" height="4.2" fill="#eef9dd"/>
<rect x="389.2" y="284.9" width="15.6" height="4.2" fill="#bbe1ee"/>
<rect x="404.5" y="284.9" width="15.6" height="4.2" fill="#eef9dd"/>
<rect x="419.8" y="284.9" width="15.6" height="4.2" fill="#ffffbf"/>
<rect x="435.0" y="284.9" width="15.6" height="4.2" fill="#fef0a8"/>
<rect x="450.3" y="284.9" width="15.6" height="4.2" fill="#a50026"/>
<rect x="465.5" y="284.9" width="15.6" height="4.2" fill="#ffffbf"/>
<rect x="480.8" y="284.9" width="15.6" height="4.2" fill="#fdb86a"/>
<rect x="328.2" y="288.8" width="15.6" height="4.2" fill="#bbe1ee"/>
<rect x="343.5" y="288.8" width="15.6" height="4.2" fill="#bbe1ee"/>
<rect x="358.7" y="288.8" width="15.6" height="4.2" fill="#bbe1ee"/>
<rect x="374.0" y="288.8" width="15.6" height="4.2" fill="#bbe1ee"/>
<rect x="389.2" y="288.8" width="15.6" height="4.2" fill="#bbe1ee"/>
<rect x="404.5" y="288.8" width="15.6" height="4.2" fill="#bbe1ee"/>
<rect x="419.8" y="288.8" width="15.6" height="4.2" fill="#fdb86a"/>
<rect x="435.0" y="288.8" width="15.6" height="4.2" fill="#fdb86a"/>
<rect x="450.3" y="288.8" width="15.6" height="4.2" fill="#e64e35"/>
<rect x="465.5" y="288.8" width="15.6" height="4.2" fill="#fef0a8"/>
<rect x="480.8" y="288.8" width="15.6" height="4.2" fill="#be1826"/>
<rect x="328.2" y="292.6" width="15.6" height="4.2" fill="#a0d0e4"/>
<rect x="343.5" y="292.6" width="15.6" height="4.2" fill="#a0d0e4"/>
<rect x="358.7" y="292.6" width="15.6" height="4.2" fill="#a0d0e4"/>
<rect x="374.0" y="292.6" width="15.6" height="4.2" fill="#a0d0e4"/>
<rect x="389.2" y="292.6" width="15.6" height="4.2" fill="#a0d0e4"/>
<rect x="404.5" y="292.6" width="15.6" height="4.2" fill="#a0d0e4"/>
<rect x="419.8" y="292.6" width="15.6" height="4.2" fill="#f46d43"/>
<rect x="435.0" y="292.6" width="15.6" height="4.2" fill="#fa9a58"/>
<rect x="450.3" y="292.6" width="15.6" height="4.2" fill="#f46d43"/>
<rect x="465.5" y="292.6" width="15.6" height="4.2" fill="#fef0a8"/>
<rect x="480.8" y="292.6" width="15.6" height="4.2" fill="#f46d43"/>
<rect x="328.2" y="296.5" width="15.6" height="4.2" fill="#a0d0e4"/>
<rect x="343.5" y="296.5" width="15.6" height="4.2" fill="#a0d0e4"/>
<rect x="358.7" y="296.5" width="15.6" height="4.2" fill="#a0d0e4"/>
<rect x="374.0" y="296.5" width="15.6" height="4.2" fill="#a0d0e4"/>
<rect x="389.2" y="296.5" width="15.6" height="4.2" fill="#a0d0e4"/>
<rect x="404.5" y="296.5" width="15.6" height="4.2" fill="#a0d0e4"/>
<rect x="419.8" y="296.5" width="15.6" height="4.2" fill="#ee613d"/>
<rect x="435.0" y="296.5" width="15.6" height="4.2" fill="#fed182"/>
<rect x="450.3" y="296.5" width="15.6" height="4.2" fill="#f46d43"/>
<rect x="465.5" y="296.5" width="15.6" height="4.2" fill="#fee090"/>
<rect x="480.8" y="296.5" width="15.6" height="4.2" fill="#e64e35"/>
<rect x="328.2" y="300.4" width="15.6" height="4.2" fill="#a0d0e4"/>
<rect x="343.5" y="300.4" width="15.6" height="4.2" fill="#bbe1ee"/>
<rect x="358.7" y="300.4" width="15.6" height="4.2" fill="#a0d0e4"/>
<rect x="374.0" y="300.4" width="15.6" height="4.2" fill="#a0d0e4"/>
<rect x="389.2" y="300.4" width="15.6" height="4.2" fill="#a0d0e4"/>
<rect x="404.5" y="300.4" width="15.6" height="4.2" fill="#a0d0e4"/>
<rect x="419.8" y="300.4" width="15.6" height="4.2" fill="#d73027"/>
<rect x="435.0" y="300.4" width="15.6" height="4.2" fill="#fec778"/>
<rect x="450.3" y="300.4" width="15.6" height="4.2" fill="#f46d43"/>
<rect x="465.5" y="300.4" width="15.6" height="4.2" fill="#fee090"/>
<rect x="480.8" y="300.4" width="15.6" height="4.2" fill="#ee613d"/>
<rect x="328.2" y="304.2" width="15.6" height="4.2" fill="#a0d0e4"/>
<rect x="343.5" y="304.2" width="15.6" height="4.2" fill="#a0d0e4"/>
<rect x="358.7" y="304.2" width="15.6" height="4.2" fill="#a0d0e4"/>
<rect x="374.0" y="304.2" width="15.6" height="4.2" fill="#a0d0e4"/>
<rect x="389.2" y="304.2" width="15.6" height="4.2" fill="#a0d0e4"/>
<rect x="404.5" y="304.2" width="15.6" height="4.2" fill="#a0d0e4"/>
<rect x="419.8" y="304.2" width="15.6" height="4.2" fill="#d73027"/>
<rect x="435.0" y="304.2" width="15.6" height="4.2" fill="#fec778"/>
<rect x="450.3" y="304.2" width="15.6" height="4.2" fill="#f46d43"/>
<rect x="465.5" y="304.2" width="15.6" height="4.2" fill="#fee090"/>
<rect x="480.8" y="304.2" width="15.6" height="4.2" fill="#ee613d"/>
<rect x="328.2" y="308.1" width="15.6" height="4.2" fill="#74add1"/>
<rect x="343.5" y="308.1" width="15.6" height="4.2" fill="#d5eef5"/>
<rect x="358.7" y="308.1" width="15.6" height="4.2" fill="#b0dcea"/>
<rect x="374.0" y="308.1" width="15.6" height="4.2" fill="#b0dcea"/>
<rect x="389.2" y="308.1" width="15.6" height="4.2" fill="#b0dcea"/>
<rect x="404.5" y="308.1" width="15.6" height="4.2" fill="#b0dcea"/>
<rect x="419.8" y="308.1" width="15.6" height="4.2" fill="#e0422f"/>
<rect x="435.0" y="308.1" width="15.6" height="4.2" fill="#d5eef5"/>
<rect x="450.3" y="308.1" width="15.6" height="4.2" fill="#ee613d"/>
<rect x="465.5" y="308.1" width="15.6" height="4.2" fill="#fdb86a"/>
<rect x="480.8" y="308.1" width="15.6" height="4.2" fill="#eb5b3b"/>
<rect x="328.2" y="312.0" width="15.6" height="4.2" fill="#bbe1ee"/>
<rect x="343.5" y="312.0" width="15.6" height="4.2" fill="#b0dcea"/>
<rect x="358.7" y="312.0" width="15.6" height="4.2" fill="#b0dcea"/>
<rect x="374.0" y="312.0" width="15.6" height="4.2" fill="#b0dcea"/>
<rect x="389.2" y="312.0" width="15.6" height="4.2" fill="#b0dcea"/>
<rect x="404.5" y="312.0" width="15.6" height="4.2" fill="#b0dcea"/>
<rect x="419.8" y="312.0" width="15.6" height="4.2" fill="#a50026"/>
<rect x="435.0" y="312.0" width="15.6" height="4.2" fill="#fff6b1"/>
<rect x="450.3" y="312.0" width="15.6" height="4.2" fill="#fef0a8"/>
<rect x="465.5" y="312.0" width="15.6" height="4.2" fill="#fff6b1"/>
<rect x="480.8" y="312.0" width="15.6" height="4.2" fill="#eb5b3b"/>
<rect x="328.2" y="315.8" width="15.6" height="4.2" fill="#cbe9f2"/>
<rect x="343.5" y="315.8" width="15.6" height="4.2" fill="#90c3dd"/>
<rect x="358.7" y="315.8" width="15.6" height="4.2" fill="#d5eef5"/>
<rect x="374.0" y="315.8" width="15.6" height="4.2" fill="#90c3dd"/>
<rect x="389.2" y="315.8" width="15.6" height="4.2" fill="#d5eef5"/>
<rect x="404.5" y="315.8" width="15.6" height="4.2" fill="#95c7df"/>
<rect x="419.8" y="315.8" width="15.6" height="4.2" fill="#a50026"/>
<rect x="435.0" y="315.8" width="15.6" height="4.2" fill="#fee99e"/>
<rect x="450.3" y="315.8" width="15.6" height="4.2" fill="#f46d43"/>
<rect x="465.5" y="315.8" width="15.6" height="4.2" fill="#fff6b1"/>
<rect x="480.8" y="315.8" width="15.6" height="4.2" fill="#fdb86a"/>
<rect x="328.2" y="319.7" width="15.6" height="4.2" fill="#a0d0e4"/>
<rect x="343.5" y="319.7" width="15.6" height="4.2" fill="#a0d0e4"/>
<rect x="358.7" y="319.7" width="15.6" height="4.2" fill="#a0d0e4"/>
<rect x="374.0" y="319.7" width="15.6" height="4.2" fill="#a0d0e4"/>
<rect x="389.2" y="319.7" width="15.6" height="4.2" fill="#a0d0e4"/>
<rect x="404.5" y="319.7" width="15.6" height="4.2" fill="#a0d0e4"/>
<rect x="419.8" y="319.7" width="15.6" height="4.2" fill="#a50026"/>
<rect x="435.0" y="319.7" width="15.6" height="4.2" fill="#fee99e"/>
<rect x="450.3" y="319.7" width="15.6" height="4.2" fill="#f46d43"/>
<rect x="465.5" y="319.7" width="15.6" height="4.2" fill="#fff6b1"/>
<rect x="480.8" y="319.7" width="15.6" height="4.2" fill="#fdb86a"/>
<rect x="328.2" y="323.6" width="15.6" height="4.2" fill="#a0d0e4"/>
<rect x="343.5" y="323.6" width="15.6" height="4.2" fill="#a0d0e4"/>
<rect x="358.7" y="323.6" width="15.6" height="4.2" fill="#95c7df"/>
<rect x="374.0" y="323.6" width="15.6" height="4.2" fill="#95c7df"/>
<rect x="389.2" y="323.6" width="15.6" height="4.2" fill="#a0d0e4"/>
<rect x="404.5" y="323.6" width="15.6" height="4.2" fill="#90c3dd"/>
<rect x="419.8" y="323.6" width="15.6" height="4.2" fill="#dd3c2d"/>
<rect x="435.0" y="323.6" width="15.6" height="4.2" fill="#fff9b6"/>
<rect x="450.3" y="323.6" width="15.6" height="4.2" fill="#d73027"/>
<rect x="465.5" y="323.6" width="15.6" height="4.2" fill="#fff6b1"/>
<rect x="480.8" y="323.6" width="15.6" height="4.2" fill="#f88e52"/>
<rect x="328.2" y="327.5" width="15.6" height="4.2" fill="#95c7df"/>
<rect x="343.5" y="327.5" width="15.6" height="4.2" fill="#95c7df"/>
<rect x="358.7" y="327.5" width="15.6" height="4.2" fill="#d5eef5"/>
<rect x="374.0" y="327.5" width="15.6" height="4.2" fill="#8abfdb"/>
<rect x="389.2" y="327.5" width="15.6" height="4.2" fill="#a0d0e4"/>
<rect x="404.5" y="327.5" width="15.6" height="4.2" fill="#abd9e9"/>
<rect x="419.8" y="327.5" width="15.6" height="4.2" fill="#a50026"/>
<rect x="435.0" y="327.5" width="15.6" height="4.2" fill="#f9fdca"/>
<rect x="450.3" y="327.5" width="15.6" height="4.2" fill="#d73027"/>
<rect x="465.5" y="327.5" width="15.6" height="4.2" fill="#fff6b1"/>
<rect x="480.8" y="327.5" width="15.6" height="4.2" fill="#f88e52"/>
<rect x="328.2" y="331.3" width="15.6" height="4.2" fill="#d5eef5"/>
<rect x="343.5" y="331.3" width="15.6" height="4.2" fill="#f9fdca"/>
<rect x="358.7" y="331.3" width="15.6" height="4.2" fill="#d5eef5"/>
<rect x="374.0" y="331.3" width="15.6" height="4.2" fill="#cbe9f2"/>
<rect x="389.2" y="331.3" width="15.6" height="4.2" fill="#cbe9f2"/>
<rect x="404.5" y="331.3" width="15.6" height="4.2" fill="#cbe9f2"/>
<rect x="419.8" y="331.3" width="15.6" height="4.2" fill="#a50026"/>
<rect x="435.0" y="331.3" width="15.6" height="4.2" fill="#fef0a8"/>
<rect x="450.3" y="331.3" width="15.6" height="4.2" fill="#f9fdca"/>
<rect x="465.5" y="331.3" width="15.6" height="4.2" fill="#d5eef5"/>
<rect x="480.8" y="331.3" width="15.6" height="4.2" fill="#f9fdca"/>
<rect x="328.2" y="335.2" width="15.6" height="4.2" fill="#d5eef5"/>
<rect x="343.5" y="335.2" width="15.6" height="4.2" fill="#e6f5ed"/>
<rect x="358.7" y="335.2" width="15.6" height="4.2" fill="#d5eef5"/>
<rect x="374.0" y="335.2" width="15.6" height="4.2" fill="#cbe9f2"/>
<rect x="389.2" y="335.2" width="15.6" height="4.2" fill="#cbe9f2"/>
<rect x="404.5" y="335.2" width="15.6" height="4.2" fill="#cbe9f2"/>
<rect x="419.8" y="335.2" width="15.6" height="4.2" fill="#a50026"/>
<rect x="435.0" y="335.2" width="15.6" height="4.2" fill="#fef0a8"/>
<rect x="450.3" y="335.2" width="15.6" height="4.2" fill="#f9fdca"/>
<rect x="465.5" y="335.2" width="15.6" height="4.2" fill="#d5eef5"/>
<rect x="480.8" y="335.2" width="15.6" height="4.2" fill="#f9fdca"/>
<rect x="328.2" y="339.1" width="15.6" height="4.2" fill="#bbe1ee"/>
<rect x="343.5" y="339.1" width="15.6" height="4.2" fill="#d5eef5"/>
<rect x="358.7" y="339.1" width="15.6" height="4.2" fill="#cbe9f2"/>
<rect x="374.0" y="339.1" width="15.6" height="4.2" fill="#cbe9f2"/>
<rect x="389.2" y="339.1" width="15.6" height="4.2" fill="#cbe9f2"/>
<rect x="404.5" y="339.1" width="15.6" height="4.2" fill="#bbe1ee"/>
<rect x="419.8" y="339.1" width="15.6" height="4.2" fill="#a50026"/>
<rect x="435.0" y="339.1" width="15.6" height="4.2" fill="#f0f9dc"/>
<rect x="450.3" y="339.1" width="15.6" height="4.2" fill="#fec778"/>
<rect x="465.5" y="339.1" width="15.6" height="4.2" fill="#e6f5ed"/>
<rect x="480.8" y="339.1" width="15.6" height="4.2" fill="#f9fdca"/>
<rect x="328.2" y="342.9" width="15.6" height="4.2" fill="#cbe9f2"/>
<rect x="343.5" y="342.9" width="15.6" height="4.2" fill="#cbe9f2"/>
<rect x="358.7" y="342.9" width="15.6" height="4.2" fill="#d5eef5"/>
<rect x="374.0" y="342.9" width="15.6" height="4.2" fill="#d5eef5"/>
<rect x="389.2" y="342.9" width="15.6" height="4.2" fill="#d5eef5"/>
<rect x="404.5" y="342.9" width="15.6" height="4.2" fill="#cbe9f2"/>
<rect x="419.8" y="342.9" width="15.6" height="4.2" fill="#a50026"/>
<rect x="435.0" y="342.9" width="15.6" height="4.2" fill="#f9fdca"/>
<rect x="450.3" y="342.9" width="15.6" height="4.2" fill="#fff9b6"/>
<rect x="465.5" y="342.9" width="15.6" height="4.2" fill="#f9fdca"/>
<rect x="480.8" y="342.9" width="15.6" height="4.2" fill="#f9fdca"/>
<rect x="328.2" y="346.8" width="15.6" height="4.2" fill="#bbe1ee"/>
<rect x="343.5" y="346.8" width="15.6" height="4.2" fill="#bbe1ee"/>
<rect x="358.7" y="346.8" width="15.6" height="4.2" fill="#bbe1ee"/>
<rect x="374.0" y="346.8" width="15.6" height="4.2" fill="#bbe1ee"/>
<rect x="389.2" y="346.8" width="15.6" height="4.2" fill="#bbe1ee"/>
<rect x="404.5" y="346.8" width="15.6" height="4.2" fill="#bbe1ee"/>
<rect x="419.8" y="346.8" width="15.6" height="4.2" fill="#a50026"/>
<rect x="435.0" y="346.8" width="15.6" height="4.2" fill="#fff6b1"/>
<rect x="450.3" y="346.8" width="15.6" height="4.2" fill="#fef0a8"/>
<rect x="465.5" y="346.8" width="15.6" height="4.2" fill="#ffffbf"/>
<rect x="480.8" y="346.8" width="15.6" height="4.2" fill="#fed182"/>
<rect x="328.2" y="350.7" width="15.6" height="4.2" fill="#b0dcea"/>
<rect x="343.5" y="350.7" width="15.6" height="4.2" fill="#b0dcea"/>
<rect x="358.7" y="350.7" width="15.6" height="4.2" fill="#b0dcea"/>
<rect x="374.0" y="350.7" width="15.6" height="4.2" fill="#b0dcea"/>
<rect x="389.2" y="350.7" width="15.6" height="4.2" fill="#b0dcea"/>
<rect x="404.5" y="350.7" width="15.6" height="4.2" fill="#b0dcea"/>
<rect x="419.8" y="350.7" width="15.6" height="4.2" fill="#a50026"/>
<rect x="435.0" y="350.7" width="15.6" height="4.2" fill="#fff6b1"/>
<rect x="450.3" y="350.7" width="15.6" height="4.2" fill="#fef0a8"/>
<rect x="465.5" y="350.7" width="15.6" height="4.2" fill="#ffffbf"/>
<rect x="480.8" y="350.7" width="15.6" height="4.2" fill="#fed182"/>
<rect x="328.2" y="354.5" width="15.6" height="4.2" fill="#b0dcea"/>
<rect x="343.5" y="354.5" width="15.6" height="4.2" fill="#b0dcea"/>
<rect x="358.7" y="354.5" width="15.6" height="4.2" fill="#b0dcea"/>
<rect x="374.0" y="354.5" width="15.6" height="4.2" fill="#b0dcea"/>
<rect x="389.2" y="354.5" width="15.6" height="4.2" fill="#b0dcea"/>
<rect x="404.5" y="354.5" width="15.6" height="4.2" fill="#b0dcea"/>
<rect x="419.8" y="354.5" width="15.6" height="4.2" fill="#a50026"/>
<rect x="435.0" y="354.5" width="15.6" height="4.2" fill="#fff6b1"/>
<rect x="450.3" y="354.5" width="15.6" height="4.2" fill="#fef0a8"/>
<rect x="465.5" y="354.5" width="15.6" height="4.2" fill="#ffffbf"/>
<rect x="480.8" y="354.5" width="15.6" height="4.2" fill="#fed182"/>
<rect x="328.2" y="358.4" width="15.6" height="4.2" fill="#bbe1ee"/>
<rect x="343.5" y="358.4" width="15.6" height="4.2" fill="#bbe1ee"/>
<rect x="358.7" y="358.4" width="15.6" height="4.2" fill="#bbe1ee"/>
<rect x="374.0" y="358.4" width="15.6" height="4.2" fill="#bbe1ee"/>
<rect x="389.2" y="358.4" width="15.6" height="4.2" fill="#bbe1ee"/>
<rect x="404.5" y="358.4" width="15.6" height="4.2" fill="#bbe1ee"/>
<rect x="419.8" y="358.4" width="15.6" height="4.2" fill="#a50026"/>
<rect x="435.0" y="358.4" width="15.6" height="4.2" fill="#fef0a8"/>
<rect x="450.3" y="358.4" width="15.6" height="4.2" fill="#fff6b1"/>
<rect x="465.5" y="358.4" width="15.6" height="4.2" fill="#fff6b1"/>
<rect x="480.8" y="358.4" width="15.6" height="4.2" fill="#fec778"/>
<rect x="328.2" y="362.3" width="15.6" height="4.2" fill="#bbe1ee"/>
<rect x="343.5" y="362.3" width="15.6" height="4.2" fill="#bbe1ee"/>
<rect x="358.7" y="362.3" width="15.6" height="4.2" fill="#bbe1ee"/>
<rect x="374.0" y="362.3" width="15.6" height="4.2" fill="#bbe1ee"/>
<rect x="389.2" y="362.3" width="15.6" height="4.2" fill="#bbe1ee"/>
<rect x="404.5" y="362.3" width="15.6" height="4.2" fill="#bbe1ee"/>
<rect x="419.8" y="362.3" width="15.6" height="4.2" fill="#a50026"/>
<rect x="435.0" y="362.3" width="15.6" height="4.2" fill="#fef0a8"/>
<rect x="450.3" y="362.3" width="15.6" height="4.2" fill="#fee699"/>
<rect x="465.5" y="362.3" width="15.6" height="4.2" fill="#fff6b1"/>
<rect x="480.8" y="362.3" width="15.6" height="4.2" fill="#fec778"/>
<rect x="328.2" y="366.1" width="15.6" height="4.2" fill="#c0e3ef"/>
<rect x="343.5" y="366.1" width="15.6" height="4.2" fill="#c0e3ef"/>
<rect x="358.7" y="366.1" width="15.6" height="4.2" fill="#c0e3ef"/>
<rect x="374.0" y="366.1" width="15.6" height="4.2" fill="#c0e3ef"/>
<rect x="389.2" y="366.1" width="15.6" height="4.2" fill="#c0e3ef"/>
<rect x="404.5" y="366.1" width="15.6" height="4.2" fill="#c0e3ef"/>
<rect x="419.8" y="366.1" width="15.6" height="4.2" fill="#a50026"/>
<rect x="435.0" y="366.1" width="15.6" height="4.2" fill="#fef0a8"/>
<rect x="450.3" y="366.1" width="15.6" height="4.2" fill="#feeca3"/>
<rect x="465.5" y="366.1" width="15.6" height="4.2" fill="#ffffbf"/>
<rect x="480.8" y="366.1" width="15.6" height="4.2" fill="#fec778"/>
<rect x="328.2" y="370.0" width="15.6" height="4.2" fill="#cbe9f2"/>
<rect x="343.5" y="370.0" width="15.6" height="4.2" fill="#cbe9f2"/>
<rect x="358.7" y="370.0" width="15.6" height="4.2" fill="#cbe9f2"/>
<rect x="374.0" y="370.0" width="15.6" height="4.2" fill="#cbe9f2"/>
<rect x="389.2" y="370.0" width="15.6" height="4.2" fill="#cbe9f2"/>
<rect x="404.5" y="370.0" width="15.6" height="4.2" fill="#cbe9f2"/>
<rect x="419.8" y="370.0" width="15.6" height="4.2" fill="#a50026"/>
<rect x="435.0" y="370.0" width="15.6" height="4.2" fill="#fef0a8"/>
<rect x="450.3" y="370.0" width="15.6" height="4.2" fill="#fef0a8"/>
<rect x="465.5" y="370.0" width="15.6" height="4.2" fill="#d5eef5"/>
<rect x="480.8" y="370.0" width="15.6" height="4.2" fill="#fec778"/>
<rect x="328.2" y="373.9" width="15.6" height="4.2" fill="#d5eef5"/>
<rect x="343.5" y="373.9" width="15.6" height="4.2" fill="#d5eef5"/>
<rect x="358.7" y="373.9" width="15.6" height="4.2" fill="#d5eef5"/>
<rect x="374.0" y="373.9" width="15.6" height="4.2" fill="#d5eef5"/>
<rect x="389.2" y="373.9" width="15.6" height="4.2" fill="#d5eef5"/>
<rect x="404.5" y="373.9" width="15.6" height="4.2" fill="#d5eef5"/>
<rect x="419.8" y="373.9" width="15.6" height="4.2" fill="#a50026"/>
<rect x="435.0" y="373.9" width="15.6" height="4.2" fill="#fef0a8"/>
<rect x="450.3" y="373.9" width="15.6" height="4.2" fill="#f0f9dc"/>
<rect x="465.5" y="373.9" width="15.6" height="4.2" fill="#e6f5ed"/>
<rect x="480.8" y="373.9" width="15.6" height="4.2" fill="#fee699"/>
<rect x="328.2" y="377.8" width="15.6" height="4.2" fill="#d5eef5"/>
<rect x="343.5" y="377.8" width="15.6" height="4.2" fill="#d5eef5"/>
<rect x="358.7" y="377.8" width="15.6" height="4.2" fill="#d5eef5"/>
<rect x="374.0" y="377.8" width="15.6" height="4.2" fill="#d5eef5"/>
<rect x="389.2" y="377.8" width="15.6" height="4.2" fill="#cbe9f2"/>
<rect x="404.5" y="377.8" width="15.6" height="4.2" fill="#d5eef5"/>
<rect x="419.8" y="377.8" width="15.6" height="4.2" fill="#a50026"/>
<rect x="435.0" y="377.8" width="15.6" height="4.2" fill="#fef0a8"/>
<rect x="450.3" y="377.8" width="15.6" height="4.2" fill="#f9fdca"/>
<rect x="465.5" y="377.8" width="15.6" height="4.2" fill="#f0f9dc"/>
<rect x="480.8" y="377.8" width="15.6" height="4.2" fill="#fee699"/>
<rect x="328.2" y="381.6" width="15.6" height="4.2" fill="#e2f4f4"/>
<rect x="343.5" y="381.6" width="15.6" height="4.2" fill="#bbe1ee"/>
<rect x="358.7" y="381.6" width="15.6" height="4.2" fill="#bbe1ee"/>
<rect x="374.0" y="381.6" width="15.6" height="4.2" fill="#bbe1ee"/>
<rect x="389.2" y="381.6" width="15.6" height="4.2" fill="#a0d0e4"/>
<rect x="404.5" y="381.6" width="15.6" height="4.2" fill="#d5eef5"/>
<rect x="419.8" y="381.6" width="15.6" height="4.2" fill="#a50026"/>
<rect x="435.0" y="381.6" width="15.6" height="4.2" fill="#fef0a8"/>
<rect x="450.3" y="381.6" width="15.6" height="4.2" fill="#f0f9dc"/>
<rect x="465.5" y="381.6" width="15.6" height="4.2" fill="#fba15b"/>
<rect x="480.8" y="381.6" width="15.6" height="4.2" fill="#fee699"/>
<rect x="328.2" y="385.5" width="15.6" height="4.2" fill="#bbe1ee"/>
<rect x="343.5" y="385.5" width="15.6" height="4.2" fill="#cbe9f2"/>
<rect x="358.7" y="385.5" width="15.6" height="4.2" fill="#bbe1ee"/>
<rect x="374.0" y="385.5" width="15.6" height="4.2" fill="#bbe1ee"/>
<rect x="389.2" y="385.5" width="15.6" height="4.2" fill="#bbe1ee"/>
<rect x="404.5" y="385.5" width="15.6" height="4.2" fill="#bbe1ee"/>
<rect x="419.8" y="385.5" width="15.6" height="4.2" fill="#a50026"/>
<rect x="435.0" y="385.5" width="15.6" height="4.2" fill="#f46d43"/>
<rect x="450.3" y="385.5" width="15.6" height="4.2" fill="#fff6b1"/>
<rect x="465.5" y="385.5" width="15.6" height="4.2" fill="#ffffbf"/>
<rect x="480.8" y="385.5" width="15.6" height="4.2" fill="#fff6b1"/>
<rect x="328.2" y="389.4" width="15.6" height="4.2" fill="#bbe1ee"/>
<rect x="343.5" y="389.4" width="15.6" height="4.2" fill="#bbe1ee"/>
<rect x="358.7" y="389.4" width="15.6" height="4.2" fill="#bbe1ee"/>
<rect x="374.0" y="389.4" width="15.6" height="4.2" fill="#bbe1ee"/>
<rect x="389.2" y="389.4" width="15.6" height="4.2" fill="#bbe1ee"/>
<rect x="404.5" y="389.4" width="15.6" height="4.2" fill="#bbe1ee"/>
<rect x="419.8" y="389.4" width="15.6" height="4.2" fill="#a50026"/>
<rect x="435.0" y="389.4" width="15.6" height="4.2" fill="#fec778"/>
<rect x="450.3" y="389.4" width="15.6" height="4.2" fill="#feeca3"/>
<rect x="465.5" y="389.4" width="15.6" height="4.2" fill="#fff9b6"/>
<rect x="480.8" y="389.4" width="15.6" height="4.2" fill="#e6f5ed"/>
<rect x="328.2" y="393.2" width="15.6" height="4.2" fill="#6ba2cb"/>
<rect x="343.5" y="393.2" width="15.6" height="4.2" fill="#fed182"/>
<rect x="358.7" y="393.2" width="15.6" height="4.2" fill="#6ba2cb"/>
<rect x="374.0" y="393.2" width="15.6" height="4.2" fill="#fed182"/>
<rect x="389.2" y="393.2" width="15.6" height="4.2" fill="#6ba2cb"/>
<rect x="404.5" y="393.2" width="15.6" height="4.2" fill="#e6f5ed"/>
<rect x="419.8" y="393.2" width="15.6" height="4.2" fill="#fff6b1"/>
<rect x="435.0" y="393.2" width="15.6" height="4.2" fill="#e64e35"/>
<rect x="450.3" y="393.2" width="15.6" height="4.2" fill="#fff6b1"/>
<rect x="465.5" y="393.2" width="15.6" height="4.2" fill="#e6f5ed"/>
<rect x="480.8" y="393.2" width="15.6" height="4.2" fill="#c82227"/>
<rect x="328.2" y="397.1" width="15.6" height="4.2" fill="#bbe1ee"/>
<rect x="343.5" y="397.1" width="15.6" height="4.2" fill="#bbe1ee"/>
<rect x="358.7" y="397.1" width="15.6" height="4.2" fill="#bbe1ee"/>
<rect x="374.0" y="397.1" width="15.6" height="4.2" fill="#bbe1ee"/>
<rect x="389.2" y="397.1" width="15.6" height="4.2" fill="#bbe1ee"/>
<rect x="404.5" y="397.1" width="15.6" height="4.2" fill="#bbe1ee"/>
<rect x="419.8" y="397.1" width="15.6" height="4.2" fill="#f9fdca"/>
<rect x="435.0" y="397.1" width="15.6" height="4.2" fill="#a50026"/>
<rect x="450.3" y="397.1" width="15.6" height="4.2" fill="#fef0a8"/>
<rect x="465.5" y="397.1" width="15.6" height="4.2" fill="#f9fdca"/>
<rect x="480.8" y="397.1" width="15.6" height="4.2" fill="#fff6b1"/>
<rect x="328.2" y="401.0" width="15.6" height="4.2" fill="#e6f5ed"/>
<rect x="343.5" y="401.0" width="15.6" height="4.2" fill="#b0dcea"/>
<rect x="358.7" y="401.0" width="15.6" height="4.2" fill="#e2f4f4"/>
<rect x="374.0" y="401.0" width="15.6" height="4.2" fill="#bbe1ee"/>
<rect x="389.2" y="401.0" width="15.6" height="4.2" fill="#d5eef5"/>
<rect x="404.5" y="401.0" width="15.6" height="4.2" fill="#bbe1ee"/>
<rect x="419.8" y="401.0" width="15.6" height="4.2" fill="#f88e52"/>
<rect x="435.0" y="401.0" width="15.6" height="4.2" fill="#a50026"/>
<rect x="450.3" y="401.0" width="15.6" height="4.2" fill="#fed687"/>
<rect x="465.5" y="401.0" width="15.6" height="4.2" fill="#e6f5ed"/>
<rect x="480.8" y="401.0" width="15.6" height="4.2" fill="#f0f9dc"/>
<rect x="328.2" y="404.8" width="15.6" height="4.2" fill="#b0dcea"/>
<rect x="343.5" y="404.8" width="15.6" height="4.2" fill="#bbe1ee"/>
<rect x="358.7" y="404.8" width="15.6" height="4.2" fill="#bbe1ee"/>
<rect x="374.0" y="404.8" width="15.6" height="4.2" fill="#b0dcea"/>
<rect x="389.2" y="404.8" width="15.6" height="4.2" fill="#b0dcea"/>
<rect x="404.5" y="404.8" width="15.6" height="4.2" fill="#bbe1ee"/>
<rect x="419.8" y="404.8" width="15.6" height="4.2" fill="#f46d43"/>
<rect x="435.0" y="404.8" width="15.6" height="4.2" fill="#a50026"/>
<rect x="450.3" y="404.8" width="15.6" height="4.2" fill="#fee99e"/>
<rect x="465.5" y="404.8" width="15.6" height="4.2" fill="#ffffbf"/>
<rect x="480.8" y="404.8" width="15.6" height="4.2" fill="#fef0a8"/>
<rect x="328.2" y="408.7" width="15.6" height="4.2" fill="#bbe1ee"/>
<rect x="343.5" y="408.7" width="15.6" height="4.2" fill="#e2f4f4"/>
<rect x="358.7" y="408.7" width="15.6" height="4.2" fill="#bbe1ee"/>
<rect x="374.0" y="408.7" width="15.6" height="4.2" fill="#cbe9f2"/>
<rect x="389.2" y="408.7" width="15.6" height="4.2" fill="#eef9dd"/>
<rect x="404.5" y="408.7" width="15.6" height="4.2" fill="#cbe9f2"/>
<rect x="419.8" y="408.7" width="15.6" height="4.2" fill="#ee613d"/>
<rect x="435.0" y="408.7" width="15.6" height="4.2" fill="#a50026"/>
<rect x="450.3" y="408.7" width="15.6" height="4.2" fill="#fef0a8"/>
<rect x="465.5" y="408.7" width="15.6" height="4.2" fill="#f0f9dc"/>
<rect x="480.8" y="408.7" width="15.6" height="4.2" fill="#f9fdca"/>
<rect x="328.2" y="412.6" width="15.6" height="4.2" fill="#e64e35"/>
<rect x="343.5" y="412.6" width="15.6" height="4.2" fill="#e0f3f8"/>
<rect x="358.7" y="412.6" width="15.6" height="4.2" fill="#fee090"/>
<rect x="374.0" y="412.6" width="15.6" height="4.2" fill="#a50026"/>
<rect x="389.2" y="412.6" width="15.6" height="4.2" fill="#ffffbf"/>
<rect x="404.5" y="412.6" width="15.6" height="4.2" fill="#e9f7e7"/>
<rect x="419.8" y="412.6" width="15.6" height="4.2" fill="#bbe1ee"/>
<rect x="435.0" y="412.6" width="15.6" height="4.2" fill="#bbe1ee"/>
<rect x="450.3" y="412.6" width="15.6" height="4.2" fill="#c6e6f0"/>
<rect x="465.5" y="412.6" width="15.6" height="4.2" fill="#c6e6f0"/>
<rect x="480.8" y="412.6" width="15.6" height="4.2" fill="#c6e6f0"/>
<rect x="328.2" y="416.4" width="15.6" height="4.2" fill="#e64e35"/>
<rect x="343.5" y="416.4" width="15.6" height="4.2" fill="#e6f5ed"/>
<rect x="358.7" y="416.4" width="15.6" height="4.2" fill="#a50026"/>
<rect x="374.0" y="416.4" width="15.6" height="4.2" fill="#f88e52"/>
<rect x="389.2" y="416.4" width="15.6" height="4.2" fill="#fff6b1"/>
<rect x="404.5" y="416.4" width="15.6" height="4.2" fill="#f0f9dc"/>
<rect x="419.8" y="416.4" width="15.6" height="4.2" fill="#abd9e9"/>
<rect x="435.0" y="416.4" width="15.6" height="4.2" fill="#abd9e9"/>
<rect x="450.3" y="416.4" width="15.6" height="4.2" fill="#84bad8"/>
<rect x="465.5" y="416.4" width="15.6" height="4.2" fill="#f9fdca"/>
<rect x="480.8" y="416.4" width="15.6" height="4.2" fill="#74add1"/>
<rect x="328.2" y="420.3" width="15.6" height="4.2" fill="#fed182"/>
<rect x="343.5" y="420.3" width="15.6" height="4.2" fill="#e9f7e7"/>
<rect x="358.7" y="420.3" width="15.6" height="4.2" fill="#a50026"/>
<rect x="374.0" y="420.3" width="15.6" height="4.2" fill="#fec778"/>
<rect x="389.2" y="420.3" width="15.6" height="4.2" fill="#e9f7e7"/>
<rect x="404.5" y="420.3" width="15.6" height="4.2" fill="#f3fad6"/>
<rect x="419.8" y="420.3" width="15.6" height="4.2" fill="#abd9e9"/>
<rect x="435.0" y="420.3" width="15.6" height="4.2" fill="#abd9e9"/>
<rect x="450.3" y="420.3" width="15.6" height="4.2" fill="#abd9e9"/>
<rect x="465.5" y="420.3" width="15.6" height="4.2" fill="#a0d0e4"/>
<rect x="480.8" y="420.3" width="15.6" height="4.2" fill="#d9f0f6"/>
<rect x="328.2" y="424.2" width="15.6" height="4.2" fill="#e6f5ed"/>
<rect x="343.5" y="424.2" width="15.6" height="4.2" fill="#f0f9dc"/>
<rect x="358.7" y="424.2" width="15.6" height="4.2" fill="#fef0a8"/>
<rect x="374.0" y="424.2" width="15.6" height="4.2" fill="#a50026"/>
<rect x="389.2" y="424.2" width="15.6" height="4.2" fill="#fef0a8"/>
<rect x="404.5" y="424.2" width="15.6" height="4.2" fill="#f46d43"/>
<rect x="419.8" y="424.2" width="15.6" height="4.2" fill="#abd9e9"/>
<rect x="435.0" y="424.2" width="15.6" height="4.2" fill="#abd9e9"/>
<rect x="450.3" y="424.2" width="15.6" height="4.2" fill="#abd9e9"/>
<rect x="465.5" y="424.2" width="15.6" height="4.2" fill="#c6e6f0"/>
<rect x="480.8" y="424.2" width="15.6" height="4.2" fill="#fef0a8"/>
<rect x="328.2" y="428.1" width="15.6" height="4.2" fill="#e0f3f8"/>
<rect x="343.5" y="428.1" width="15.6" height="4.2" fill="#b6deec"/>
<rect x="358.7" y="428.1" width="15.6" height="4.2" fill="#fef0a8"/>
<rect x="374.0" y="428.1" width="15.6" height="4.2" fill="#a50026"/>
<rect x="389.2" y="428.1" width="15.6" height="4.2" fill="#fec778"/>
<rect x="404.5" y="428.1" width="15.6" height="4.2" fill="#f88e52"/>
<rect x="419.8" y="428.1" width="15.6" height="4.2" fill="#abd9e9"/>
<rect x="435.0" y="428.1" width="15.6" height="4.2" fill="#abd9e9"/>
<rect x="450.3" y="428.1" width="15.6" height="4.2" fill="#abd9e9"/>
<rect x="465.5" y="428.1" width="15.6" height="4.2" fill="#c6e6f0"/>
<rect x="480.8" y="428.1" width="15.6" height="4.2" fill="#bbe1ee"/>
<rect x="328.2" y="431.9" width="15.6" height="4.2" fill="#e9f7e7"/>
<rect x="343.5" y="431.9" width="15.6" height="4.2" fill="#d5eef5"/>
<rect x="358.7" y="431.9" width="15.6" height="4.2" fill="#fba15b"/>
<rect x="374.0" y="431.9" width="15.6" height="4.2" fill="#a50026"/>
<rect x="389.2" y="431.9" width="15.6" height="4.2" fill="#f88e52"/>
<rect x="404.5" y="431.9" width="15.6" height="4.2" fill="#fba15b"/>
<rect x="419.8" y="431.9" width="15.6" height="4.2" fill="#9acce2"/>
<rect x="435.0" y="431.9" width="15.6" height="4.2" fill="#a0d0e4"/>
<rect x="450.3" y="431.9" width="15.6" height="4.2" fill="#bbe1ee"/>
<rect x="465.5" y="431.9" width="15.6" height="4.2" fill="#fff9b6"/>
<rect x="480.8" y="431.9" width="15.6" height="4.2" fill="#abd9e9"/>
<rect x="328.2" y="435.8" width="15.6" height="4.2" fill="#fef0a8"/>
<rect x="343.5" y="435.8" width="15.6" height="4.2" fill="#fff9b6"/>
<rect x="358.7" y="435.8" width="15.6" height="4.2" fill="#fff6b1"/>
<rect x="374.0" y="435.8" width="15.6" height="4.2" fill="#ee613d"/>
<rect x="389.2" y="435.8" width="15.6" height="4.2" fill="#f88e52"/>
<rect x="404.5" y="435.8" width="15.6" height="4.2" fill="#a50026"/>
<rect x="419.8" y="435.8" width="15.6" height="4.2" fill="#a0d0e4"/>
<rect x="435.0" y="435.8" width="15.6" height="4.2" fill="#a0d0e4"/>
<rect x="450.3" y="435.8" width="15.6" height="4.2" fill="#5c91c2"/>
<rect x="465.5" y="435.8" width="15.6" height="4.2" fill="#d9f0f6"/>
<rect x="480.8" y="435.8" width="15.6" height="4.2" fill="#abd9e9"/>
<rect x="328.2" y="439.7" width="15.6" height="4.2" fill="#fef0a8"/>
<rect x="343.5" y="439.7" width="15.6" height="4.2" fill="#ffffbf"/>
<rect x="358.7" y="439.7" width="15.6" height="4.2" fill="#f9fdca"/>
<rect x="374.0" y="439.7" width="15.6" height="4.2" fill="#e64e35"/>
<rect x="389.2" y="439.7" width="15.6" height="4.2" fill="#af0a26"/>
<rect x="404.5" y="439.7" width="15.6" height="4.2" fill="#fec778"/>
<rect x="419.8" y="439.7" width="15.6" height="4.2" fill="#90c3dd"/>
<rect x="435.0" y="439.7" width="15.6" height="4.2" fill="#a0d0e4"/>
<rect x="450.3" y="439.7" width="15.6" height="4.2" fill="#5c91c2"/>
<rect x="465.5" y="439.7" width="15.6" height="4.2" fill="#d9f0f6"/>
<rect x="480.8" y="439.7" width="15.6" height="4.2" fill="#abd9e9"/>
<rect x="328.2" y="443.5" width="15.6" height="4.2" fill="#e9f7e7"/>
<rect x="343.5" y="443.5" width="15.6" height="4.2" fill="#a50026"/>
<rect x="358.7" y="443.5" width="15.6" height="4.2" fill="#f0f9dc"/>
<rect x="374.0" y="443.5" width="15.6" height="4.2" fill="#a50026"/>
<rect x="389.2" y="443.5" width="15.6" height="4.2" fill="#fec778"/>
<rect x="404.5" y="443.5" width="15.6" height="4.2" fill="#e6f5ed"/>
<rect x="419.8" y="443.5" width="15.6" height="4.2" fill="#9acce2"/>
<rect x="435.0" y="443.5" width="15.6" height="4.2" fill="#f9fdca"/>
<rect x="450.3" y="443.5" width="15.6" height="4.2" fill="#a0d0e4"/>
<rect x="465.5" y="443.5" width="15.6" height="4.2" fill="#c6e6f0"/>
<rect x="480.8" y="443.5" width="15.6" height="4.2" fill="#c6e6f0"/>
<rect x="328.2" y="447.4" width="15.6" height="4.2" fill="#fba15b"/>
<rect x="343.5" y="447.4" width="15.6" height="4.2" fill="#fed182"/>
<rect x="358.7" y="447.4" width="15.6" height="4.2" fill="#fee699"/>
<rect x="374.0" y="447.4" width="15.6" height="4.2" fill="#a50026"/>
<rect x="389.2" y="447.4" width="15.6" height="4.2" fill="#f46d43"/>
<rect x="404.5" y="447.4" width="15.6" height="4.2" fill="#ffffbf"/>
<rect x="419.8" y="447.4" width="15.6" height="4.2" fill="#d9f0f6"/>
<rect x="435.0" y="447.4" width="15.6" height="4.2" fill="#a0d0e4"/>
<rect x="450.3" y="447.4" width="15.6" height="4.2" fill="#90c3dd"/>
<rect x="465.5" y="447.4" width="15.6" height="4.2" fill="#669cc8"/>
<rect x="480.8" y="447.4" width="15.6" height="4.2" fill="#84bad8"/>
<rect x="328.2" y="451.3" width="15.6" height="4.2" fill="#fff9b6"/>
<rect x="343.5" y="451.3" width="15.6" height="4.2" fill="#fed182"/>
<rect x="358.7" y="451.3" width="15.6" height="4.2" fill="#fee699"/>
<rect x="374.0" y="451.3" width="15.6" height="4.2" fill="#a50026"/>
<rect x="389.2" y="451.3" width="15.6" height="4.2" fill="#f88e52"/>
<rect x="404.5" y="451.3" width="15.6" height="4.2" fill="#fed182"/>
<rect x="419.8" y="451.3" width="15.6" height="4.2" fill="#84bad8"/>
<rect x="435.0" y="451.3" width="15.6" height="4.2" fill="#a0d0e4"/>
<rect x="450.3" y="451.3" width="15.6" height="4.2" fill="#c6e6f0"/>
<rect x="465.5" y="451.3" width="15.6" height="4.2" fill="#4e80ba"/>
<rect x="480.8" y="451.3" width="15.6" height="4.2" fill="#edf8e0"/>
<rect x="328.2" y="455.1" width="15.6" height="4.2" fill="#fef0a8"/>
<rect x="343.5" y="455.1" width="15.6" height="4.2" fill="#fdae61"/>
<rect x="358.7" y="455.1" width="15.6" height="4.2" fill="#c82227"/>
<rect x="374.0" y="455.1" width="15.6" height="4.2" fill="#f88e52"/>
<rect x="389.2" y="455.1" width="15.6" height="4.2" fill="#fec778"/>
<rect x="404.5" y="455.1" width="15.6" height="4.2" fill="#fee699"/>
<rect x="419.8" y="455.1" width="15.6" height="4.2" fill="#90c3dd"/>
<rect x="435.0" y="455.1" width="15.6" height="4.2" fill="#9acce2"/>
<rect x="450.3" y="455.1" width="15.6" height="4.2" fill="#6ba2cb"/>
<rect x="465.5" y="455.1" width="15.6" height="4.2" fill="#84bad8"/>
<rect x="480.8" y="455.1" width="15.6" height="4.2" fill="#d9f0f6"/>
<rect x="328.2" y="459.0" width="15.6" height="4.2" fill="#fee090"/>
<rect x="343.5" y="459.0" width="15.6" height="4.2" fill="#fba15b"/>
<rect x="358.7" y="459.0" width="15.6" height="4.2" fill="#e0422f"/>
<rect x="374.0" y="459.0" width="15.6" height="4.2" fill="#fdb86a"/>
<rect x="389.2" y="459.0" width="15.6" height="4.2" fill="#e64e35"/>
<rect x="404.5" y="459.0" width="15.6" height="4.2" fill="#fef0a8"/>
<rect x="419.8" y="459.0" width="15.6" height="4.2" fill="#a0d0e4"/>
<rect x="435.0" y="459.0" width="15.6" height="4.2" fill="#a0d0e4"/>
<rect x="450.3" y="459.0" width="15.6" height="4.2" fill="#c6e6f0"/>
<rect x="465.5" y="459.0" width="15.6" height="4.2" fill="#74add1"/>
<rect x="480.8" y="459.0" width="15.6" height="4.2" fill="#74add1"/>
<rect x="328.2" y="462.9" width="15.6" height="4.2" fill="#fee090"/>
<rect x="343.5" y="462.9" width="15.6" height="4.2" fill="#f46d43"/>
<rect x="358.7" y="462.9" width="15.6" height="4.2" fill="#f67a49"/>
<rect x="374.0" y="462.9" width="15.6" height="4.2" fill="#f46d43"/>
<rect x="389.2" y="462.9" width="15.6" height="4.2" fill="#ee613d"/>
<rect x="404.5" y="462.9" width="15.6" height="4.2" fill="#fee699"/>
<rect x="419.8" y="462.9" width="15.6" height="4.2" fill="#bbe1ee"/>
<rect x="435.0" y="462.9" width="15.6" height="4.2" fill="#a0d0e4"/>
<rect x="450.3" y="462.9" width="15.6" height="4.2" fill="#84bad8"/>
<rect x="465.5" y="462.9" width="15.6" height="4.2" fill="#5c91c2"/>
<rect x="480.8" y="462.9" width="15.6" height="4.2" fill="#90c3dd"/>
<rect x="328.2" y="466.7" width="15.6" height="4.2" fill="#fec778"/>
<rect x="343.5" y="466.7" width="15.6" height="4.2" fill="#eb5b3b"/>
<rect x="358.7" y="466.7" width="15.6" height="4.2" fill="#f88e52"/>
<rect x="374.0" y="466.7" width="15.6" height="4.2" fill="#f88e52"/>
<rect x="389.2" y="466.7" width="15.6" height="4.2" fill="#fdb86a"/>
<rect x="404.5" y="466.7" width="15.6" height="4.2" fill="#fba15b"/>
<rect x="419.8" y="466.7" width="15.6" height="4.2" fill="#84bad8"/>
<rect x="435.0" y="466.7" width="15.6" height="4.2" fill="#bbe1ee"/>
<rect x="450.3" y="466.7" width="15.6" height="4.2" fill="#90c3dd"/>
<rect x="465.5" y="466.7" width="15.6" height="4.2" fill="#74add1"/>
<rect x="480.8" y="466.7" width="15.6" height="4.2" fill="#90c3dd"/>
<rect x="328.2" y="470.6" width="15.6" height="4.2" fill="#fed182"/>
<rect x="343.5" y="470.6" width="15.6" height="4.2" fill="#fdae61"/>
<rect x="358.7" y="470.6" width="15.6" height="4.2" fill="#f88e52"/>
<rect x="374.0" y="470.6" width="15.6" height="4.2" fill="#eb5b3b"/>
<rect x="389.2" y="470.6" width="15.6" height="4.2" fill="#fdb86a"/>
<rect x="404.5" y="470.6" width="15.6" height="4.2" fill="#fa9a58"/>
<rect x="419.8" y="470.6" width="15.6" height="4.2" fill="#a0d0e4"/>
<rect x="435.0" y="470.6" width="15.6" height="4.2" fill="#abd9e9"/>
<rect x="450.3" y="470.6" width="15.6" height="4.2" fill="#90c3dd"/>
<rect x="465.5" y="470.6" width="15.6" height="4.2" fill="#84bad8"/>
<rect x="480.8" y="470.6" width="15.6" height="4.2" fill="#90c3dd"/>
<rect x="328.2" y="474.5" width="15.6" height="4.2" fill="#fa9a58"/>
<rect x="343.5" y="474.5" width="15.6" height="4.2" fill="#fee090"/>
<rect x="358.7" y="474.5" width="15.6" height="4.2" fill="#fee090"/>
<rect x="374.0" y="474.5" width="15.6" height="4.2" fill="#eb5b3b"/>
<rect x="389.2" y="474.5" width="15.6" height="4.2" fill="#fdbd6f"/>
<rect x="404.5" y="474.5" width="15.6" height="4.2" fill="#fee699"/>
<rect x="419.8" y="474.5" width="15.6" height="4.2" fill="#fec778"/>
<rect x="435.0" y="474.5" width="15.6" height="4.2" fill="#4168ae"/>
<rect x="450.3" y="474.5" width="15.6" height="4.2" fill="#c6e6f0"/>
<rect x="465.5" y="474.5" width="15.6" height="4.2" fill="#5c91c2"/>
<rect x="480.8" y="474.5" width="15.6" height="4.2" fill="#9acce2"/>
<rect x="328.2" y="478.3" width="15.6" height="4.2" fill="#f9fdca"/>
<rect x="343.5" y="478.3" width="15.6" height="4.2" fill="#c82227"/>
<rect x="358.7" y="478.3" width="15.6" height="4.2" fill="#f88e52"/>
<rect x="374.0" y="478.3" width="15.6" height="4.2" fill="#f88e52"/>
<rect x="389.2" y="478.3" width="15.6" height="4.2" fill="#fa9a58"/>
<rect x="404.5" y="478.3" width="15.6" height="4.2" fill="#e6f5ed"/>
<rect x="419.8" y="478.3" width="15.6" height="4.2" fill="#fef0a8"/>
<rect x="435.0" y="478.3" width="15.6" height="4.2" fill="#90c3dd"/>
<rect x="450.3" y="478.3" width="15.6" height="4.2" fill="#f9fdca"/>
<rect x="465.5" y="478.3" width="15.6" height="4.2" fill="#5c91c2"/>
<rect x="480.8" y="478.3" width="15.6" height="4.2" fill="#90c3dd"/>
<rect x="328.2" y="482.2" width="15.6" height="4.2" fill="#ee613d"/>
<rect x="343.5" y="482.2" width="15.6" height="4.2" fill="#c82227"/>
<rect x="358.7" y="482.2" width="15.6" height="4.2" fill="#fec778"/>
<rect x="374.0" y="482.2" width="15.6" height="4.2" fill="#fed182"/>
<rect x="389.2" y="482.2" width="15.6" height="4.2" fill="#f88e52"/>
<rect x="404.5" y="482.2" width="15.6" height="4.2" fill="#c6e6f0"/>
<rect x="419.8" y="482.2" width="15.6" height="4.2" fill="#84bad8"/>
<rect x="435.0" y="482.2" width="15.6" height="4.2" fill="#90c3dd"/>
<rect x="450.3" y="482.2" width="15.6" height="4.2" fill="#e2f4f5"/>
<rect x="465.5" y="482.2" width="15.6" height="4.2" fill="#84bad8"/>
<rect x="480.8" y="482.2" width="15.6" height="4.2" fill="#ffffbf"/>
<rect x="328.2" y="486.1" width="15.6" height="4.2" fill="#f46d43"/>
<rect x="343.5" y="486.1" width="15.6" height="4.2" fill="#a50026"/>
<rect x="358.7" y="486.1" width="15.6" height="4.2" fill="#fee699"/>
<rect x="374.0" y="486.1" width="15.6" height="4.2" fill="#fef0a8"/>
<rect x="389.2" y="486.1" width="15.6" height="4.2" fill="#fee699"/>
<rect x="404.5" y="486.1" width="15.6" height="4.2" fill="#e6f5ed"/>
<rect x="419.8" y="486.1" width="15.6" height="4.2" fill="#d9f0f6"/>
<rect x="435.0" y="486.1" width="15.6" height="4.2" fill="#d9f0f6"/>
<rect x="450.3" y="486.1" width="15.6" height="4.2" fill="#f9fdca"/>
<rect x="465.5" y="486.1" width="15.6" height="4.2" fill="#90c3dd"/>
<rect x="480.8" y="486.1" width="15.6" height="4.2" fill="#84bad8"/>
<rect x="328.2" y="490.0" width="15.6" height="4.2" fill="#c82227"/>
<rect x="343.5" y="490.0" width="15.6" height="4.2" fill="#a50026"/>
<rect x="358.7" y="490.0" width="15.6" height="4.2" fill="#fff6b1"/>
<rect x="374.0" y="490.0" width="15.6" height="4.2" fill="#fef0a8"/>
<rect x="389.2" y="490.0" width="15.6" height="4.2" fill="#fee699"/>
<rect x="404.5" y="490.0" width="15.6" height="4.2" fill="#ffffbf"/>
<rect x="419.8" y="490.0" width="15.6" height="4.2" fill="#90c3dd"/>
<rect x="435.0" y="490.0" width="15.6" height="4.2" fill="#c6e6f0"/>
<rect x="450.3" y="490.0" width="15.6" height="4.2" fill="#d9f0f6"/>
<rect x="465.5" y="490.0" width="15.6" height="4.2" fill="#bbe1ee"/>
<rect x="480.8" y="490.0" width="15.6" height="4.2" fill="#90c3dd"/>
<rect x="328.2" y="493.8" width="15.6" height="4.2" fill="#fdb86a"/>
<rect x="343.5" y="493.8" width="15.6" height="4.2" fill="#a50026"/>
<rect x="358.7" y="493.8" width="15.6" height="4.2" fill="#e0f3f8"/>
<rect x="374.0" y="493.8" width="15.6" height="4.2" fill="#fdb86a"/>
<rect x="389.2" y="493.8" width="15.6" height="4.2" fill="#fee699"/>
<rect x="404.5" y="493.8" width="15.6" height="4.2" fill="#f9fdca"/>
<rect x="419.8" y="493.8" width="15.6" height="4.2" fill="#90c3dd"/>
<rect x="435.0" y="493.8" width="15.6" height="4.2" fill="#fff9b6"/>
<rect x="450.3" y="493.8" width="15.6" height="4.2" fill="#abd9e9"/>
<rect x="465.5" y="493.8" width="15.6" height="4.2" fill="#bbe1ee"/>
<rect x="480.8" y="493.8" width="15.6" height="4.2" fill="#bbe1ee"/>
<rect x="328.2" y="497.7" width="15.6" height="4.2" fill="#fee090"/>
<rect x="343.5" y="497.7" width="15.6" height="4.2" fill="#a50026"/>
<rect x="358.7" y="497.7" width="15.6" height="4.2" fill="#e9f7e7"/>
<rect x="374.0" y="497.7" width="15.6" height="4.2" fill="#fdae61"/>
<rect x="389.2" y="497.7" width="15.6" height="4.2" fill="#f46d43"/>
<rect x="404.5" y="497.7" width="15.6" height="4.2" fill="#e0f3f8"/>
<rect x="419.8" y="497.7" width="15.6" height="4.2" fill="#84bad8"/>
<rect x="435.0" y="497.7" width="15.6" height="4.2" fill="#c6e6f0"/>
<rect x="450.3" y="497.7" width="15.6" height="4.2" fill="#abd9e9"/>
<rect x="465.5" y="497.7" width="15.6" height="4.2" fill="#f9fdca"/>
<rect x="480.8" y="497.7" width="15.6" height="4.2" fill="#a0d0e4"/>
<rect x="328.2" y="501.6" width="15.6" height="4.2" fill="#a50026"/>
<rect x="343.5" y="501.6" width="15.6" height="4.2" fill="#f9fdca"/>
<rect x="358.7" y="501.6" width="15.6" height="4.2" fill="#ffffbf"/>
<rect x="374.0" y="501.6" width="15.6" height="4.2" fill="#f46d43"/>
<rect x="389.2" y="501.6" width="15.6" height="4.2" fill="#fee090"/>
<rect x="404.5" y="501.6" width="15.6" height="4.2" fill="#fed182"/>
<rect x="419.8" y="501.6" width="15.6" height="4.2" fill="#90c3dd"/>
<rect x="435.0" y="501.6" width="15.6" height="4.2" fill="#abd9e9"/>
<rect x="450.3" y="501.6" width="15.6" height="4.2" fill="#a0d0e4"/>
<rect x="465.5" y="501.6" width="15.6" height="4.2" fill="#e2f4f5"/>
<rect x="480.8" y="501.6" width="15.6" height="4.2" fill="#a0d0e4"/>
<rect x="328.2" y="505.4" width="15.6" height="4.2" fill="#a50026"/>
<rect x="343.5" y="505.4" width="15.6" height="4.2" fill="#fdb86a"/>
<rect x="358.7" y="505.4" width="15.6" height="4.2" fill="#c6e6f0"/>
<rect x="374.0" y="505.4" width="15.6" height="4.2" fill="#fec778"/>
<rect x="389.2" y="505.4" width="15.6" height="4.2" fill="#fa9a58"/>
<rect x="404.5" y="505.4" width="15.6" height="4.2" fill="#fdb86a"/>
<rect x="419.8" y="505.4" width="15.6" height="4.2" fill="#a0d0e4"/>
<rect x="435.0" y="505.4" width="15.6" height="4.2" fill="#669cc8"/>
<rect x="450.3" y="505.4" width="15.6" height="4.2" fill="#90c3dd"/>
<rect x="465.5" y="505.4" width="15.6" height="4.2" fill="#fec778"/>
<rect x="480.8" y="505.4" width="15.6" height="4.2" fill="#90c3dd"/>
<rect x="328.2" y="509.3" width="15.6" height="4.2" fill="#be1826"/>
<rect x="343.5" y="509.3" width="15.6" height="4.2" fill="#f46d43"/>
<rect x="358.7" y="509.3" width="15.6" height="4.2" fill="#f9fdca"/>
<rect x="374.0" y="509.3" width="15.6" height="4.2" fill="#fdb86a"/>
<rect x="389.2" y="509.3" width="15.6" height="4.2" fill="#fba15b"/>
<rect x="404.5" y="509.3" width="15.6" height="4.2" fill="#fed182"/>
<rect x="419.8" y="509.3" width="15.6" height="4.2" fill="#74add1"/>
<rect x="435.0" y="509.3" width="15.6" height="4.2" fill="#84bad8"/>
<rect x="450.3" y="509.3" width="15.6" height="4.2" fill="#abd9e9"/>
<rect x="465.5" y="509.3" width="15.6" height="4.2" fill="#d9f0f6"/>
<rect x="480.8" y="509.3" width="15.6" height="4.2" fill="#a0d0e4"/>
<rect x="328.2" y="513.2" width="15.6" height="4.2" fill="#a50026"/>
<rect x="343.5" y="513.2" width="15.6" height="4.2" fill="#e64e35"/>
<rect x="358.7" y="513.2" width="15.6" height="4.2" fill="#e9f7e7"/>
<rect x="374.0" y="513.2" width="15.6" height="4.2" fill="#fee699"/>
<rect x="389.2" y="513.2" width="15.6" height="4.2" fill="#d5eef5"/>
<rect x="404.5" y="513.2" width="15.6" height="4.2" fill="#fa9a58"/>
<rect x="419.8" y="513.2" width="15.6" height="4.2" fill="#6ba2cb"/>
<rect x="435.0" y="513.2" width="15.6" height="4.2" fill="#f9fdca"/>
<rect x="450.3" y="513.2" width="15.6" height="4.2" fill="#abd9e9"/>
<rect x="465.5" y="513.2" width="15.6" height="4.2" fill="#abd9e9"/>
<rect x="480.8" y="513.2" width="15.6" height="4.2" fill="#d9f0f6"/>
<rect x="328.2" y="517.0" width="15.6" height="4.2" fill="#eb5b3b"/>
<rect x="343.5" y="517.0" width="15.6" height="4.2" fill="#fee090"/>
<rect x="358.7" y="517.0" width="15.6" height="4.2" fill="#fed182"/>
<rect x="374.0" y="517.0" width="15.6" height="4.2" fill="#fdb86a"/>
<rect x="389.2" y="517.0" width="15.6" height="4.2" fill="#fff6b1"/>
<rect x="404.5" y="517.0" width="15.6" height="4.2" fill="#e64e35"/>
<rect x="419.8" y="517.0" width="15.6" height="4.2" fill="#313695"/>
<rect x="435.0" y="517.0" width="15.6" height="4.2" fill="#a0d0e4"/>
<rect x="450.3" y="517.0" width="15.6" height="4.2" fill="#abd9e9"/>
<rect x="465.5" y="517.0" width="15.6" height="4.2" fill="#abd9e9"/>
<rect x="480.8" y="517.0" width="15.6" height="4.2" fill="#fff6b1"/>
<rect x="328.2" y="520.9" width="15.6" height="4.2" fill="#e64e35"/>
<rect x="343.5" y="520.9" width="15.6" height="4.2" fill="#f46d43"/>
<rect x="358.7" y="520.9" width="15.6" height="4.2" fill="#fdb86a"/>
<rect x="374.0" y="520.9" width="15.6" height="4.2" fill="#ee613d"/>
<rect x="389.2" y="520.9" width="15.6" height="4.2" fill="#fef0a8"/>
<rect x="404.5" y="520.9" width="15.6" height="4.2" fill="#fee090"/>
<rect x="419.8" y="520.9" width="15.6" height="4.2" fill="#4575b4"/>
<rect x="435.0" y="520.9" width="15.6" height="4.2" fill="#c6e6f0"/>
<rect x="450.3" y="520.9" width="15.6" height="4.2" fill="#74add1"/>
<rect x="465.5" y="520.9" width="15.6" height="4.2" fill="#90c3dd"/>
<rect x="480.8" y="520.9" width="15.6" height="4.2" fill="#c6e6f0"/>
<rect x="328.2" y="524.8" width="15.6" height="4.2" fill="#be1826"/>
<rect x="343.5" y="524.8" width="15.6" height="4.2" fill="#f88e52"/>
<rect x="358.7" y="524.8" width="15.6" height="4.2" fill="#fba15b"/>
<rect x="374.0" y="524.8" width="15.6" height="4.2" fill="#fec778"/>
<rect x="389.2" y="524.8" width="15.6" height="4.2" fill="#fff6b1"/>
<rect x="404.5" y="524.8" width="15.6" height="4.2" fill="#fee699"/>
<rect x="419.8" y="524.8" width="15.6" height="4.2" fill="#5386bd"/>
<rect x="435.0" y="524.8" width="15.6" height="4.2" fill="#bbe1ee"/>
<rect x="450.3" y="524.8" width="15.6" height="4.2" fill="#5c91c2"/>
<rect x="465.5" y="524.8" width="15.6" height="4.2" fill="#90c3dd"/>
<rect x="480.8" y="524.8" width="15.6" height="4.2" fill="#f9fdca"/>
<rect x="328.2" y="528.6" width="15.6" height="4.2" fill="#a50026"/>
<rect x="343.5" y="528.6" width="15.6" height="4.2" fill="#f88e52"/>
<rect x="358.7" y="528.6" width="15.6" height="4.2" fill="#fee699"/>
<rect x="374.0" y="528.6" width="15.6" height="4.2" fill="#c6e6f0"/>
<rect x="389.2" y="528.6" width="15.6" height="4.2" fill="#fdb86a"/>
<rect x="404.5" y="528.6" width="15.6" height="4.2" fill="#fef0a8"/>
<rect x="419.8" y="528.6" width="15.6" height="4.2" fill="#d9f0f6"/>
<rect x="435.0" y="528.6" width="15.6" height="4.2" fill="#fed687"/>
<rect x="450.3" y="528.6" width="15.6" height="4.2" fill="#74add1"/>
<rect x="465.5" y="528.6" width="15.6" height="4.2" fill="#90c3dd"/>
<rect x="480.8" y="528.6" width="15.6" height="4.2" fill="#84bad8"/>
<rect x="328.2" y="532.5" width="15.6" height="4.2" fill="#a50026"/>
<rect x="343.5" y="532.5" width="15.6" height="4.2" fill="#fee699"/>
<rect x="358.7" y="532.5" width="15.6" height="4.2" fill="#fff6b1"/>
<rect x="374.0" y="532.5" width="15.6" height="4.2" fill="#e6f5ed"/>
<rect x="389.2" y="532.5" width="15.6" height="4.2" fill="#fec778"/>
<rect x="404.5" y="532.5" width="15.6" height="4.2" fill="#fee699"/>
<rect x="419.8" y="532.5" width="15.6" height="4.2" fill="#bbe1ee"/>
<rect x="435.0" y="532.5" width="15.6" height="4.2" fill="#c6e6f0"/>
<rect x="450.3" y="532.5" width="15.6" height="4.2" fill="#f9fdca"/>
<rect x="465.5" y="532.5" width="15.6" height="4.2" fill="#a0d0e4"/>
<rect x="480.8" y="532.5" width="15.6" height="4.2" fill="#a0d0e4"/>
<rect x="328.2" y="536.4" width="15.6" height="4.2" fill="#a50026"/>
<rect x="343.5" y="536.4" width="15.6" height="4.2" fill="#fef0a8"/>
<rect x="358.7" y="536.4" width="15.6" height="4.2" fill="#fdb86a"/>
<rect x="374.0" y="536.4" width="15.6" height="4.2" fill="#fff6b1"/>
<rect x="389.2" y="536.4" width="15.6" height="4.2" fill="#fff6b1"/>
<rect x="404.5" y="536.4" width="15.6" height="4.2" fill="#fef0a8"/>
<rect x="419.8" y="536.4" width="15.6" height="4.2" fill="#e2f4f5"/>
<rect x="435.0" y="536.4" width="15.6" height="4.2" fill="#84bad8"/>
<rect x="450.3" y="536.4" width="15.6" height="4.2" fill="#e2f4f5"/>
<rect x="465.5" y="536.4" width="15.6" height="4.2" fill="#5c91c2"/>
<rect x="480.8" y="536.4" width="15.6" height="4.2" fill="#c6e6f0"/>
<rect x="328.2" y="540.3" width="15.6" height="4.2" fill="#be1826"/>
<rect x="343.5" y="540.3" width="15.6" height="4.2" fill="#fff6b1"/>
<rect x="358.7" y="540.3" width="15.6" height="4.2" fill="#fee699"/>
<rect x="374.0" y="540.3" width="15.6" height="4.2" fill="#fef0a8"/>
<rect x="389.2" y="540.3" width="15.6" height="4.2" fill="#fee699"/>
<rect x="404.5" y="540.3" width="15.6" height="4.2" fill="#fdae61"/>
<rect x="419.8" y="540.3" width="15.6" height="4.2" fill="#d9f0f6"/>
<rect x="435.0" y="540.3" width="15.6" height="4.2" fill="#84bad8"/>
<rect x="450.3" y="540.3" width="15.6" height="4.2" fill="#e2f4f5"/>
<rect x="465.5" y="540.3" width="15.6" height="4.2" fill="#5c91c2"/>
<rect x="480.8" y="540.3" width="15.6" height="4.2" fill="#d9f0f6"/>
<rect x="328.2" y="544.1" width="15.6" height="4.2" fill="#fff9b6"/>
<rect x="343.5" y="544.1" width="15.6" height="4.2" fill="#ee613d"/>
<rect x="358.7" y="544.1" width="15.6" height="4.2" fill="#fed182"/>
<rect x="374.0" y="544.1" width="15.6" height="4.2" fill="#fff9b6"/>
<rect x="389.2" y="544.1" width="15.6" height="4.2" fill="#f88e52"/>
<rect x="404.5" y="544.1" width="15.6" height="4.2" fill="#eb5b3b"/>
<rect x="419.8" y="544.1" width="15.6" height="4.2" fill="#84bad8"/>
<rect x="435.0" y="544.1" width="15.6" height="4.2" fill="#9acce2"/>
<rect x="450.3" y="544.1" width="15.6" height="4.2" fill="#d9f0f6"/>
<rect x="465.5" y="544.1" width="15.6" height="4.2" fill="#bbe1ee"/>
<rect x="480.8" y="544.1" width="15.6" height="4.2" fill="#90c3dd"/>
<rect x="328.2" y="548.0" width="15.6" height="4.2" fill="#f9fdca"/>
<rect x="343.5" y="548.0" width="15.6" height="4.2" fill="#fec778"/>
<rect x="358.7" y="548.0" width="15.6" height="4.2" fill="#e6f5ed"/>
<rect x="374.0" y="548.0" width="15.6" height="4.2" fill="#ffffbf"/>
<rect x="389.2" y="548.0" width="15.6" height="4.2" fill="#be1826"/>
<rect x="404.5" y="548.0" width="15.6" height="4.2" fill="#c82227"/>
<rect x="419.8" y="548.0" width="15.6" height="4.2" fill="#84bad8"/>
<rect x="435.0" y="548.0" width="15.6" height="4.2" fill="#84bad8"/>
<rect x="450.3" y="548.0" width="15.6" height="4.2" fill="#abd9e9"/>
<rect x="465.5" y="548.0" width="15.6" height="4.2" fill="#fdb86a"/>
<rect x="480.8" y="548.0" width="15.6" height="4.2" fill="#a0d0e4"/>
<rect x="328.2" y="551.9" width="15.6" height="4.2" fill="#f9fdca"/>
<rect x="343.5" y="551.9" width="15.6" height="4.2" fill="#fed182"/>
<rect x="358.7" y="551.9" width="15.6" height="4.2" fill="#e6f5ed"/>
<rect x="374.0" y="551.9" width="15.6" height="4.2" fill="#f0f9dc"/>
<rect x="389.2" y="551.9" width="15.6" height="4.2" fill="#eb5b3b"/>
<rect x="404.5" y="551.9" width="15.6" height="4.2" fill="#a50026"/>
<rect x="419.8" y="551.9" width="15.6" height="4.2" fill="#84bad8"/>
<rect x="435.0" y="551.9" width="15.6" height="4.2" fill="#84bad8"/>
<rect x="450.3" y="551.9" width="15.6" height="4.2" fill="#abd9e9"/>
<rect x="465.5" y="551.9" width="15.6" height="4.2" fill="#fa9a58"/>
<rect x="480.8" y="551.9" width="15.6" height="4.2" fill="#a0d0e4"/>
<rect x="328.2" y="555.7" width="15.6" height="4.2" fill="#fef0a8"/>
<rect x="343.5" y="555.7" width="15.6" height="4.2" fill="#fee090"/>
<rect x="358.7" y="555.7" width="15.6" height="4.2" fill="#f0f9dc"/>
<rect x="374.0" y="555.7" width="15.6" height="4.2" fill="#f0f9dc"/>
<rect x="389.2" y="555.7" width="15.6" height="4.2" fill="#e64e35"/>
<rect x="404.5" y="555.7" width="15.6" height="4.2" fill="#af0a26"/>
<rect x="419.8" y="555.7" width="15.6" height="4.2" fill="#84bad8"/>
<rect x="435.0" y="555.7" width="15.6" height="4.2" fill="#84bad8"/>
<rect x="450.3" y="555.7" width="15.6" height="4.2" fill="#a0d0e4"/>
<rect x="465.5" y="555.7" width="15.6" height="4.2" fill="#fdb86a"/>
<rect x="480.8" y="555.7" width="15.6" height="4.2" fill="#a0d0e4"/>
<rect x="328.2" y="559.6" width="15.6" height="4.2" fill="#fef0a8"/>
<rect x="343.5" y="559.6" width="15.6" height="4.2" fill="#a50026"/>
<rect x="358.7" y="559.6" width="15.6" height="4.2" fill="#c6e6f0"/>
<rect x="374.0" y="559.6" width="15.6" height="4.2" fill="#f9fdca"/>
<rect x="389.2" y="559.6" width="15.6" height="4.2" fill="#fec778"/>
<rect x="404.5" y="559.6" width="15.6" height="4.2" fill="#be1826"/>
<rect x="419.8" y="559.6" width="15.6" height="4.2" fill="#c6e6f0"/>
<rect x="435.0" y="559.6" width="15.6" height="4.2" fill="#abd9e9"/>
<rect x="450.3" y="559.6" width="15.6" height="4.2" fill="#a0d0e4"/>
<rect x="465.5" y="559.6" width="15.6" height="4.2" fill="#ffffbf"/>
<rect x="480.8" y="559.6" width="15.6" height="4.2" fill="#bbe1ee"/>
<rect x="328.2" y="563.5" width="15.6" height="4.2" fill="#ffffbf"/>
<rect x="343.5" y="563.5" width="15.6" height="4.2" fill="#fec778"/>
<rect x="358.7" y="563.5" width="15.6" height="4.2" fill="#f9fdca"/>
<rect x="374.0" y="563.5" width="15.6" height="4.2" fill="#fec778"/>
<rect x="389.2" y="563.5" width="15.6" height="4.2" fill="#fee090"/>
<rect x="404.5" y="563.5" width="15.6" height="4.2" fill="#c82227"/>
<rect x="419.8" y="563.5" width="15.6" height="4.2" fill="#5c91c2"/>
<rect x="435.0" y="563.5" width="15.6" height="4.2" fill="#abd9e9"/>
<rect x="450.3" y="563.5" width="15.6" height="4.2" fill="#74add1"/>
<rect x="465.5" y="563.5" width="15.6" height="4.2" fill="#eb5b3b"/>
<rect x="480.8" y="563.5" width="15.6" height="4.2" fill="#abd9e9"/>
<rect x="328.2" y="567.3" width="15.6" height="4.2" fill="#f0f9dc"/>
<rect x="343.5" y="567.3" width="15.6" height="4.2" fill="#be1826"/>
<rect x="358.7" y="567.3" width="15.6" height="4.2" fill="#f88e52"/>
<rect x="374.0" y="567.3" width="15.6" height="4.2" fill="#fec778"/>
<rect x="389.2" y="567.3" width="15.6" height="4.2" fill="#fff6b1"/>
<rect x="404.5" y="567.3" width="15.6" height="4.2" fill="#ee613d"/>
<rect x="419.8" y="567.3" width="15.6" height="4.2" fill="#5386bd"/>
<rect x="435.0" y="567.3" width="15.6" height="4.2" fill="#f9fdca"/>
<rect x="450.3" y="567.3" width="15.6" height="4.2" fill="#90c3dd"/>
<rect x="465.5" y="567.3" width="15.6" height="4.2" fill="#a0d0e4"/>
<rect x="480.8" y="567.3" width="15.6" height="4.2" fill="#d9f0f6"/>
<rect x="328.2" y="571.2" width="15.6" height="4.2" fill="#f9fdca"/>
<rect x="343.5" y="571.2" width="15.6" height="4.2" fill="#c82227"/>
<rect x="358.7" y="571.2" width="15.6" height="4.2" fill="#fff9b6"/>
<rect x="374.0" y="571.2" width="15.6" height="4.2" fill="#fff6b1"/>
<rect x="389.2" y="571.2" width="15.6" height="4.2" fill="#fff6b1"/>
<rect x="404.5" y="571.2" width="15.6" height="4.2" fill="#a50026"/>
<rect x="419.8" y="571.2" width="15.6" height="4.2" fill="#5c91c2"/>
<rect x="435.0" y="571.2" width="15.6" height="4.2" fill="#fef0a8"/>
<rect x="450.3" y="571.2" width="15.6" height="4.2" fill="#a0d0e4"/>
<rect x="465.5" y="571.2" width="15.6" height="4.2" fill="#abd9e9"/>
<rect x="480.8" y="571.2" width="15.6" height="4.2" fill="#d9f0f6"/>
<rect x="328.2" y="575.1" width="15.6" height="4.2" fill="#e9f7e7"/>
<rect x="343.5" y="575.1" width="15.6" height="4.2" fill="#fee699"/>
<rect x="358.7" y="575.1" width="15.6" height="4.2" fill="#fef0a8"/>
<rect x="374.0" y="575.1" width="15.6" height="4.2" fill="#f88e52"/>
<rect x="389.2" y="575.1" width="15.6" height="4.2" fill="#fef0a8"/>
<rect x="404.5" y="575.1" width="15.6" height="4.2" fill="#a50026"/>
<rect x="419.8" y="575.1" width="15.6" height="4.2" fill="#74add1"/>
<rect x="435.0" y="575.1" width="15.6" height="4.2" fill="#84bad8"/>
<rect x="450.3" y="575.1" width="15.6" height="4.2" fill="#bbe1ee"/>
<rect x="465.5" y="575.1" width="15.6" height="4.2" fill="#abd9e9"/>
<rect x="480.8" y="575.1" width="15.6" height="4.2" fill="#fee090"/>
<rect x="328.2" y="578.9" width="15.6" height="4.2" fill="#e9f7e7"/>
<rect x="343.5" y="578.9" width="15.6" height="4.2" fill="#fee090"/>
<rect x="358.7" y="578.9" width="15.6" height="4.2" fill="#f9fdca"/>
<rect x="374.0" y="578.9" width="15.6" height="4.2" fill="#fee699"/>
<rect x="389.2" y="578.9" width="15.6" height="4.2" fill="#fee699"/>
<rect x="404.5" y="578.9" width="15.6" height="4.2" fill="#a50026"/>
<rect x="419.8" y="578.9" width="15.6" height="4.2" fill="#90c3dd"/>
<rect x="435.0" y="578.9" width="15.6" height="4.2" fill="#fff9b6"/>
<rect x="450.3" y="578.9" width="15.6" height="4.2" fill="#c6e6f0"/>
<rect x="465.5" y="578.9" width="15.6" height="4.2" fill="#abd9e9"/>
<rect x="480.8" y="578.9" width="15.6" height="4.2" fill="#d9f0f6"/>
<rect x="328.2" y="582.8" width="15.6" height="4.2" fill="#e0f3f8"/>
<rect x="343.5" y="582.8" width="15.6" height="4.2" fill="#fdb86a"/>
<rect x="358.7" y="582.8" width="15.6" height="4.2" fill="#f0f9dc"/>
<rect x="374.0" y="582.8" width="15.6" height="4.2" fill="#fee699"/>
<rect x="389.2" y="582.8" width="15.6" height="4.2" fill="#fee699"/>
<rect x="404.5" y="582.8" width="15.6" height="4.2" fill="#a50026"/>
<rect x="419.8" y="582.8" width="15.6" height="4.2" fill="#bbe1ee"/>
<rect x="435.0" y="582.8" width="15.6" height="4.2" fill="#bbe1ee"/>
<rect x="450.3" y="582.8" width="15.6" height="4.2" fill="#bbe1ee"/>
<rect x="465.5" y="582.8" width="15.6" height="4.2" fill="#bbe1ee"/>
<rect x="480.8" y="582.8" width="15.6" height="4.2" fill="#e2f4f5"/>
<rect x="328.2" y="586.7" width="15.6" height="4.2" fill="#e6f5ed"/>
<rect x="343.5" y="586.7" width="15.6" height="4.2" fill="#fec778"/>
<rect x="358.7" y="586.7" width="15.6" height="4.2" fill="#e9f7e7"/>
<rect x="374.0" y="586.7" width="15.6" height="4.2" fill="#fdae61"/>
<rect x="389.2" y="586.7" width="15.6" height="4.2" fill="#eb5b3b"/>
<rect x="404.5" y="586.7" width="15.6" height="4.2" fill="#be1826"/>
<rect x="419.8" y="586.7" width="15.6" height="4.2" fill="#84bad8"/>
<rect x="435.0" y="586.7" width="15.6" height="4.2" fill="#e2f4f5"/>
<rect x="450.3" y="586.7" width="15.6" height="4.2" fill="#a0d0e4"/>
<rect x="465.5" y="586.7" width="15.6" height="4.2" fill="#84bad8"/>
<rect x="480.8" y="586.7" width="15.6" height="4.2" fill="#c6e6f0"/>
<rect x="328.2" y="590.5" width="15.6" height="4.2" fill="#e9f7e7"/>
<rect x="343.5" y="590.5" width="15.6" height="4.2" fill="#fdae61"/>
<rect x="358.7" y="590.5" width="15.6" height="4.2" fill="#f9fdca"/>
<rect x="374.0" y="590.5" width="15.6" height="4.2" fill="#fee090"/>
<rect x="389.2" y="590.5" width="15.6" height="4.2" fill="#c82227"/>
<rect x="404.5" y="590.5" width="15.6" height="4.2" fill="#eb5b3b"/>
<rect x="419.8" y="590.5" width="15.6" height="4.2" fill="#5386bd"/>
<rect x="435.0" y="590.5" width="15.6" height="4.2" fill="#f9fdca"/>
<rect x="450.3" y="590.5" width="15.6" height="4.2" fill="#90c3dd"/>
<rect x="465.5" y="590.5" width="15.6" height="4.2" fill="#74add1"/>
<rect x="480.8" y="590.5" width="15.6" height="4.2" fill="#fef0a8"/>
<rect x="328.2" y="594.4" width="15.6" height="4.2" fill="#f0f9dc"/>
<rect x="343.5" y="594.4" width="15.6" height="4.2" fill="#fdb86a"/>
<rect x="358.7" y="594.4" width="15.6" height="4.2" fill="#ffffbf"/>
<rect x="374.0" y="594.4" width="15.6" height="4.2" fill="#be1826"/>
<rect x="389.2" y="594.4" width="15.6" height="4.2" fill="#e64e35"/>
<rect x="404.5" y="594.4" width="15.6" height="4.2" fill="#fdb86a"/>
<rect x="419.8" y="594.4" width="15.6" height="4.2" fill="#669cc8"/>
<rect x="435.0" y="594.4" width="15.6" height="4.2" fill="#a0d0e4"/>
<rect x="450.3" y="594.4" width="15.6" height="4.2" fill="#d9f0f6"/>
<rect x="465.5" y="594.4" width="15.6" height="4.2" fill="#84bad8"/>
<rect x="480.8" y="594.4" width="15.6" height="4.2" fill="#84bad8"/>
<rect x="328.2" y="598.3" width="15.6" height="4.2" fill="#e6f5ed"/>
<rect x="343.5" y="598.3" width="15.6" height="4.2" fill="#fa9a58"/>
<rect x="358.7" y="598.3" width="15.6" height="4.2" fill="#fff9b6"/>
<rect x="374.0" y="598.3" width="15.6" height="4.2" fill="#eb5b3b"/>
<rect x="389.2" y="598.3" width="15.6" height="4.2" fill="#e64e35"/>
<rect x="404.5" y="598.3" width="15.6" height="4.2" fill="#f88e52"/>
<rect x="419.8" y="598.3" width="15.6" height="4.2" fill="#6ba2cb"/>
<rect x="435.0" y="598.3" width="15.6" height="4.2" fill="#a0d0e4"/>
<rect x="450.3" y="598.3" width="15.6" height="4.2" fill="#d9f0f6"/>
<rect x="465.5" y="598.3" width="15.6" height="4.2" fill="#84bad8"/>
<rect x="480.8" y="598.3" width="15.6" height="4.2" fill="#a0d0e4"/>
<rect x="328.2" y="602.2" width="15.6" height="4.2" fill="#e0f3f8"/>
<rect x="343.5" y="602.2" width="15.6" height="4.2" fill="#fee699"/>
<rect x="358.7" y="602.2" width="15.6" height="4.2" fill="#ffffbf"/>
<rect x="374.0" y="602.2" width="15.6" height="4.2" fill="#f88e52"/>
<rect x="389.2" y="602.2" width="15.6" height="4.2" fill="#be1826"/>
<rect x="404.5" y="602.2" width="15.6" height="4.2" fill="#eb5b3b"/>
<rect x="419.8" y="602.2" width="15.6" height="4.2" fill="#d9f0f6"/>
<rect x="435.0" y="602.2" width="15.6" height="4.2" fill="#90c3dd"/>
<rect x="450.3" y="602.2" width="15.6" height="4.2" fill="#d9f0f6"/>
<rect x="465.5" y="602.2" width="15.6" height="4.2" fill="#84bad8"/>
<rect x="480.8" y="602.2" width="15.6" height="4.2" fill="#abd9e9"/>
<rect x="328.2" y="606.0" width="15.6" height="4.2" fill="#e9f7e7"/>
<rect x="343.5" y="606.0" width="15.6" height="4.2" fill="#f88e52"/>
<rect x="358.7" y="606.0" width="15.6" height="4.2" fill="#fff9b6"/>
<rect x="374.0" y="606.0" width="15.6" height="4.2" fill="#eb5b3b"/>
<rect x="389.2" y="606.0" width="15.6" height="4.2" fill="#c82227"/>
<rect x="404.5" y="606.0" width="15.6" height="4.2" fill="#fdb86a"/>
<rect x="419.8" y="606.0" width="15.6" height="4.2" fill="#c6e6f0"/>
<rect x="435.0" y="606.0" width="15.6" height="4.2" fill="#a0d0e4"/>
<rect x="450.3" y="606.0" width="15.6" height="4.2" fill="#a0d0e4"/>
<rect x="465.5" y="606.0" width="15.6" height="4.2" fill="#5c91c2"/>
<rect x="480.8" y="606.0" width="15.6" height="4.2" fill="#a0d0e4"/>
<rect x="328.2" y="609.9" width="15.6" height="4.2" fill="#fee699"/>
<rect x="343.5" y="609.9" width="15.6" height="4.2" fill="#fec778"/>
<rect x="358.7" y="609.9" width="15.6" height="4.2" fill="#f9fdca"/>
<rect x="374.0" y="609.9" width="15.6" height="4.2" fill="#fff9b6"/>
<rect x="389.2" y="609.9" width="15.6" height="4.2" fill="#e0422f"/>
<rect x="404.5" y="609.9" width="15.6" height="4.2" fill="#f46d43"/>
<rect x="419.8" y="609.9" width="15.6" height="4.2" fill="#fdb86a"/>
<rect x="435.0" y="609.9" width="15.6" height="4.2" fill="#a0d0e4"/>
<rect x="450.3" y="609.9" width="15.6" height="4.2" fill="#a0d0e4"/>
<rect x="465.5" y="609.9" width="15.6" height="4.2" fill="#5c91c2"/>
<rect x="480.8" y="609.9" width="15.6" height="4.2" fill="#90c3dd"/>
<rect x="328.2" y="613.8" width="15.6" height="4.2" fill="#fec778"/>
<rect x="343.5" y="613.8" width="15.6" height="4.2" fill="#fa9a58"/>
<rect x="358.7" y="613.8" width="15.6" height="4.2" fill="#e9f7e7"/>
<rect x="374.0" y="613.8" width="15.6" height="4.2" fill="#f9fdca"/>
<rect x="389.2" y="613.8" width="15.6" height="4.2" fill="#a50026"/>
<rect x="404.5" y="613.8" width="15.6" height="4.2" fill="#ee613d"/>
<rect x="419.8" y="613.8" width="15.6" height="4.2" fill="#84bad8"/>
<rect x="435.0" y="613.8" width="15.6" height="4.2" fill="#a0d0e4"/>
<rect x="450.3" y="613.8" width="15.6" height="4.2" fill="#bbe1ee"/>
<rect x="465.5" y="613.8" width="15.6" height="4.2" fill="#c6e6f0"/>
<rect x="480.8" y="613.8" width="15.6" height="4.2" fill="#bbe1ee"/>
<rect x="328.2" y="617.6" width="15.6" height="4.2" fill="#fdb86a"/>
<rect x="343.5" y="617.6" width="15.6" height="4.2" fill="#f46d43"/>
<rect x="358.7" y="617.6" width="15.6" height="4.2" fill="#e9f7e7"/>
<rect x="374.0" y="617.6" width="15.6" height="4.2" fill="#fff9b6"/>
<rect x="389.2" y="617.6" width="15.6" height="4.2" fill="#a50026"/>
<rect x="404.5" y="617.6" width="15.6" height="4.2" fill="#fee090"/>
<rect x="419.8" y="617.6" width="15.6" height="4.2" fill="#bbe1ee"/>
<rect x="435.0" y="617.6" width="15.6" height="4.2" fill="#f9fdca"/>
<rect x="450.3" y="617.6" width="15.6" height="4.2" fill="#abd9e9"/>
<rect x="465.5" y="617.6" width="15.6" height="4.2" fill="#c6e6f0"/>
<rect x="480.8" y="617.6" width="15.6" height="4.2" fill="#84bad8"/>
<rect x="328.2" y="621.5" width="15.6" height="4.2" fill="#f88e52"/>
<rect x="343.5" y="621.5" width="15.6" height="4.2" fill="#c82227"/>
<rect x="358.7" y="621.5" width="15.6" height="4.2" fill="#fee699"/>
<rect x="374.0" y="621.5" width="15.6" height="4.2" fill="#fff6b1"/>
<rect x="389.2" y="621.5" width="15.6" height="4.2" fill="#e64e35"/>
<rect x="404.5" y="621.5" width="15.6" height="4.2" fill="#fee699"/>
<rect x="419.8" y="621.5" width="15.6" height="4.2" fill="#bbe1ee"/>
<rect x="435.0" y="621.5" width="15.6" height="4.2" fill="#90c3dd"/>
<rect x="450.3" y="621.5" width="15.6" height="4.2" fill="#a0d0e4"/>
<rect x="465.5" y="621.5" width="15.6" height="4.2" fill="#4168ae"/>
<rect x="480.8" y="621.5" width="15.6" height="4.2" fill="#d9f0f6"/>
<rect x="328.2" y="625.4" width="15.6" height="4.2" fill="#f46d43"/>
<rect x="343.5" y="625.4" width="15.6" height="4.2" fill="#f88e52"/>
<rect x="358.7" y="625.4" width="15.6" height="4.2" fill="#fed182"/>
<rect x="374.0" y="625.4" width="15.6" height="4.2" fill="#fef0a8"/>
<rect x="389.2" y="625.4" width="15.6" height="4.2" fill="#eb5b3b"/>
<rect x="404.5" y="625.4" width="15.6" height="4.2" fill="#fee090"/>
<rect x="419.8" y="625.4" width="15.6" height="4.2" fill="#74add1"/>
<rect x="435.0" y="625.4" width="15.6" height="4.2" fill="#e2f4f5"/>
<rect x="450.3" y="625.4" width="15.6" height="4.2" fill="#74add1"/>
<rect x="465.5" y="625.4" width="15.6" height="4.2" fill="#a0d0e4"/>
<rect x="480.8" y="625.4" width="15.6" height="4.2" fill="#74add1"/>
<rect x="328.2" y="629.2" width="15.6" height="4.2" fill="#f67a49"/>
<rect x="343.5" y="629.2" width="15.6" height="4.2" fill="#ffffbf"/>
<rect x="358.7" y="629.2" width="15.6" height="4.2" fill="#f88e52"/>
<rect x="374.0" y="629.2" width="15.6" height="4.2" fill="#fec778"/>
<rect x="389.2" y="629.2" width="15.6" height="4.2" fill="#fdb86a"/>
<rect x="404.5" y="629.2" width="15.6" height="4.2" fill="#ee613d"/>
<rect x="419.8" y="629.2" width="15.6" height="4.2" fill="#74add1"/>
<rect x="435.0" y="629.2" width="15.6" height="4.2" fill="#5386bd"/>
<rect x="450.3" y="629.2" width="15.6" height="4.2" fill="#bbe1ee"/>
<rect x="465.5" y="629.2" width="15.6" height="4.2" fill="#bbe1ee"/>
<rect x="480.8" y="629.2" width="15.6" height="4.2" fill="#d9f0f6"/>
<rect x="328.2" y="633.1" width="15.6" height="4.2" fill="#f67a49"/>
<rect x="343.5" y="633.1" width="15.6" height="4.2" fill="#ffffbf"/>
<rect x="358.7" y="633.1" width="15.6" height="4.2" fill="#f67a49"/>
<rect x="374.0" y="633.1" width="15.6" height="4.2" fill="#fec778"/>
<rect x="389.2" y="633.1" width="15.6" height="4.2" fill="#fdb86a"/>
<rect x="404.5" y="633.1" width="15.6" height="4.2" fill="#eb5b3b"/>
<rect x="419.8" y="633.1" width="15.6" height="4.2" fill="#5386bd"/>
<rect x="435.0" y="633.1" width="15.6" height="4.2" fill="#5c91c2"/>
<rect x="450.3" y="633.1" width="15.6" height="4.2" fill="#bbe1ee"/>
<rect x="465.5" y="633.1" width="15.6" height="4.2" fill="#abd9e9"/>
<rect x="480.8" y="633.1" width="15.6" height="4.2" fill="#e2f4f5"/>
<rect x="328.2" y="637.0" width="15.6" height="4.2" fill="#f67a49"/>
<rect x="343.5" y="637.0" width="15.6" height="4.2" fill="#f9fdca"/>
<rect x="358.7" y="637.0" width="15.6" height="4.2" fill="#f88e52"/>
<rect x="374.0" y="637.0" width="15.6" height="4.2" fill="#fee090"/>
<rect x="389.2" y="637.0" width="15.6" height="4.2" fill="#fdb86a"/>
<rect x="404.5" y="637.0" width="15.6" height="4.2" fill="#eb5b3b"/>
<rect x="419.8" y="637.0" width="15.6" height="4.2" fill="#5386bd"/>
<rect x="435.0" y="637.0" width="15.6" height="4.2" fill="#669cc8"/>
<rect x="450.3" y="637.0" width="15.6" height="4.2" fill="#bbe1ee"/>
<rect x="465.5" y="637.0" width="15.6" height="4.2" fill="#abd9e9"/>
<rect x="480.8" y="637.0" width="15.6" height="4.2" fill="#abd9e9"/>
<rect x="328.2" y="640.8" width="15.6" height="4.2" fill="#f46d43"/>
<rect x="343.5" y="640.8" width="15.6" height="4.2" fill="#fff9b6"/>
<rect x="358.7" y="640.8" width="15.6" height="4.2" fill="#fa9a58"/>
<rect x="374.0" y="640.8" width="15.6" height="4.2" fill="#fee090"/>
<rect x="389.2" y="640.8" width="15.6" height="4.2" fill="#fa9a58"/>
<rect x="404.5" y="640.8" width="15.6" height="4.2" fill="#f67a49"/>
<rect x="419.8" y="640.8" width="15.6" height="4.2" fill="#5c91c2"/>
<rect x="435.0" y="640.8" width="15.6" height="4.2" fill="#669cc8"/>
<rect x="450.3" y="640.8" width="15.6" height="4.2" fill="#abd9e9"/>
<rect x="465.5" y="640.8" width="15.6" height="4.2" fill="#abd9e9"/>
<rect x="480.8" y="640.8" width="15.6" height="4.2" fill="#abd9e9"/>
<rect x="328.2" y="644.7" width="15.6" height="4.2" fill="#e64e35"/>
<rect x="343.5" y="644.7" width="15.6" height="4.2" fill="#fff6b1"/>
<rect x="358.7" y="644.7" width="15.6" height="4.2" fill="#fdae61"/>
<rect x="374.0" y="644.7" width="15.6" height="4.2" fill="#fee699"/>
<rect x="389.2" y="644.7" width="15.6" height="4.2" fill="#eb5b3b"/>
<rect x="404.5" y="644.7" width="15.6" height="4.2" fill="#f88e52"/>
<rect x="419.8" y="644.7" width="15.6" height="4.2" fill="#669cc8"/>
<rect x="435.0" y="644.7" width="15.6" height="4.2" fill="#6ba2cb"/>
<rect x="450.3" y="644.7" width="15.6" height="4.2" fill="#abd9e9"/>
<rect x="465.5" y="644.7" width="15.6" height="4.2" fill="#bbe1ee"/>
<rect x="480.8" y="644.7" width="15.6" height="4.2" fill="#a0d0e4"/>
<rect x="328.2" y="648.6" width="15.6" height="4.2" fill="#a50026"/>
<rect x="343.5" y="648.6" width="15.6" height="4.2" fill="#fff6b1"/>
<rect x="358.7" y="648.6" width="15.6" height="4.2" fill="#fdb86a"/>
<rect x="374.0" y="648.6" width="15.6" height="4.2" fill="#fee699"/>
<rect x="389.2" y="648.6" width="15.6" height="4.2" fill="#eb5b3b"/>
<rect x="404.5" y="648.6" width="15.6" height="4.2" fill="#fef0a8"/>
<rect x="419.8" y="648.6" width="15.6" height="4.2" fill="#74add1"/>
<rect x="435.0" y="648.6" width="15.6" height="4.2" fill="#74add1"/>
<rect x="450.3" y="648.6" width="15.6" height="4.2" fill="#c6e6f0"/>
<rect x="465.5" y="648.6" width="15.6" height="4.2" fill="#a0d0e4"/>
<rect x="480.8" y="648.6" width="15.6" height="4.2" fill="#90c3dd"/>
<rect x="328.2" y="652.5" width="15.6" height="4.2" fill="#ffffbf"/>
<rect x="343.5" y="652.5" width="15.6" height="4.2" fill="#fef0a8"/>
<rect x="358.7" y="652.5" width="15.6" height="4.2" fill="#f88e52"/>
<rect x="374.0" y="652.5" width="15.6" height="4.2" fill="#f46d43"/>
<rect x="389.2" y="652.5" width="15.6" height="4.2" fill="#c82227"/>
<rect x="404.5" y="652.5" width="15.6" height="4.2" fill="#e0f3f8"/>
<rect x="419.8" y="652.5" width="15.6" height="4.2" fill="#bbe1ee"/>
<rect x="435.0" y="652.5" width="15.6" height="4.2" fill="#90c3dd"/>
<rect x="450.3" y="652.5" width="15.6" height="4.2" fill="#4575b4"/>
<rect x="465.5" y="652.5" width="15.6" height="4.2" fill="#fef0a8"/>
<rect x="480.8" y="652.5" width="15.6" height="4.2" fill="#abd9e9"/>
<rect x="328.2" y="656.3" width="15.6" height="4.2" fill="#f3fad6"/>
<rect x="343.5" y="656.3" width="15.6" height="4.2" fill="#fff6b1"/>
<rect x="358.7" y="656.3" width="15.6" height="4.2" fill="#fee090"/>
<rect x="374.0" y="656.3" width="15.6" height="4.2" fill="#eb5b3b"/>
<rect x="389.2" y="656.3" width="15.6" height="4.2" fill="#a50026"/>
<rect x="404.5" y="656.3" width="15.6" height="4.2" fill="#f0f9dc"/>
<rect x="419.8" y="656.3" width="15.6" height="4.2" fill="#74add1"/>
<rect x="435.0" y="656.3" width="15.6" height="4.2" fill="#74add1"/>
<rect x="450.3" y="656.3" width="15.6" height="4.2" fill="#d9f0f6"/>
<rect x="465.5" y="656.3" width="15.6" height="4.2" fill="#edf8e0"/>
<rect x="480.8" y="656.3" width="15.6" height="4.2" fill="#e2f4f5"/>
<rect x="328.2" y="660.2" width="15.6" height="4.2" fill="#fef0a8"/>
<rect x="343.5" y="660.2" width="15.6" height="4.2" fill="#fff6b1"/>
<rect x="358.7" y="660.2" width="15.6" height="4.2" fill="#fff6b1"/>
<rect x="374.0" y="660.2" width="15.6" height="4.2" fill="#fee699"/>
<rect x="389.2" y="660.2" width="15.6" height="4.2" fill="#a50026"/>
<rect x="404.5" y="660.2" width="15.6" height="4.2" fill="#fec778"/>
<rect x="419.8" y="660.2" width="15.6" height="4.2" fill="#5c91c2"/>
<rect x="435.0" y="660.2" width="15.6" height="4.2" fill="#669cc8"/>
<rect x="450.3" y="660.2" width="15.6" height="4.2" fill="#abd9e9"/>
<rect x="465.5" y="660.2" width="15.6" height="4.2" fill="#ffffbf"/>
<rect x="480.8" y="660.2" width="15.6" height="4.2" fill="#e2f4f5"/>
</g>
<path d="M335.83 234.60 L335.83 221.80 L351.09 221.80 L351.09 234.60" fill="none" stroke="#000" stroke-width="0.9"/>
<path d="M366.35 234.60 L366.35 224.40 L381.61 224.40 L381.61 234.60" fill="none" stroke="#000" stroke-width="0.9"/>
<path d="M396.87 234.60 L396.87 224.40 L412.13 224.40 L412.13 234.60" fill="none" stroke="#000" stroke-width="0.9"/>
<path d="M373.98 224.40 L373.98 221.00 L404.50 221.00 L404.50 224.40" fill="none" stroke="#000" stroke-width="0.9"/>
<path d="M343.46 221.80 L343.46 218.60 L389.24 218.60 L389.24 221.00" fill="none" stroke="#000" stroke-width="0.9"/>
<path d="M473.17 234.60 L473.17 224.40 L488.43 224.40 L488.43 234.60" fill="none" stroke="#000" stroke-width="0.9"/>
<path d="M457.91 234.60 L457.91 223.90 L480.80 223.90 L480.80 224.40" fill="none" stroke="#000" stroke-width="0.9"/>
<path d="M442.65 234.60 L442.65 221.80 L469.35 221.80 L469.35 223.90" fill="none" stroke="#000" stroke-width="0.9"/>
<path d="M427.39 234.60 L427.39 213.80 L456.00 213.80 L456.00 221.80" fill="none" stroke="#000" stroke-width="0.9"/>
<path d="M366.35 218.60 L366.35 204.00 L432.50 204.00" fill="none" stroke="#000" stroke-width="0.9"/>
<path d="M441.70 208.50 L441.70 213.80" fill="none" stroke="#000" stroke-width="0.9"/>
<path d="M328.00 352.60 L327.12 352.60 L327.12 356.47 L328.00 356.47" fill="none" stroke="#000" stroke-width="0.9"/>
<path d="M328.00 364.21 L323.82 364.21 L323.82 368.08 L328.00 368.08" fill="none" stroke="#000" stroke-width="0.9"/>
<path d="M328.00 375.82 L323.69 375.82 L323.69 379.69 L328.00 379.69" fill="none" stroke="#000" stroke-width="0.9"/>
<path d="M328.00 302.31 L323.56 302.31 L323.56 306.18 L328.00 306.18" fill="none" stroke="#000" stroke-width="0.9"/>
<path d="M328.00 360.34 L323.51 360.34 L323.51 366.15 L323.82 366.15" fill="none" stroke="#000" stroke-width="0.9"/>
<path d="M328.00 348.74 L323.32 348.74 L323.32 354.54 L327.12 354.54" fill="none" stroke="#000" stroke-width="0.9"/>
<path d="M328.00 333.26 L323.20 333.26 L323.20 337.13 L328.00 337.13" fill="none" stroke="#000" stroke-width="0.9"/>
<path d="M323.32 351.64 L322.16 351.64 L322.16 363.24 L323.51 363.24" fill="none" stroke="#000" stroke-width="0.9"/>
<path d="M328.00 298.44 L321.84 298.44 L321.84 304.24 L323.56 304.24" fill="none" stroke="#000" stroke-width="0.9"/>
<path d="M328.00 371.95 L320.75 371.95 L320.75 377.75 L323.69 377.75" fill="none" stroke="#000" stroke-width="0.9"/>
<path d="M328.00 341.00 L320.63 341.00 L320.63 344.87 L328.00 344.87" fill="none" stroke="#000" stroke-width="0.9"/>
<path d="M328.00 294.57 L320.63 294.57 L320.63 301.34 L321.84 301.34" fill="none" stroke="#000" stroke-width="0.9"/>
<path d="M328.00 317.78 L320.39 317.78 L320.39 321.65 L328.00 321.65" fill="none" stroke="#000" stroke-width="0.9"/>
<path d="M328.00 240.40 L320.18 240.40 L320.18 244.27 L328.00 244.27" fill="none" stroke="#000" stroke-width="0.9"/>
<path d="M328.00 325.52 L320.09 325.52 L320.09 329.39 L328.00 329.39" fill="none" stroke="#000" stroke-width="0.9"/>
<path d="M328.00 387.43 L319.95 387.43 L319.95 391.29 L328.00 391.29" fill="none" stroke="#000" stroke-width="0.9"/>
<path d="M320.39 319.72 L319.11 319.72 L319.11 327.46 L320.09 327.46" fill="none" stroke="#000" stroke-width="0.9"/>
<path d="M323.20 335.19 L318.94 335.19 L318.94 342.93 L320.63 342.93" fill="none" stroke="#000" stroke-width="0.9"/>
<path d="M328.00 263.62 L318.70 263.62 L318.70 267.49 L328.00 267.49" fill="none" stroke="#000" stroke-width="0.9"/>
<path d="M328.00 271.36 L318.34 271.36 L318.34 275.22 L328.00 275.22" fill="none" stroke="#000" stroke-width="0.9"/>
<path d="M328.00 236.53 L317.87 236.53 L317.87 242.34 L320.18 242.34" fill="none" stroke="#000" stroke-width="0.9"/>
<path d="M328.00 290.70 L317.85 290.70 L317.85 297.95 L320.63 297.95" fill="none" stroke="#000" stroke-width="0.9"/>
<path d="M322.16 357.44 L317.74 357.44 L317.74 374.85 L320.75 374.85" fill="none" stroke="#000" stroke-width="0.9"/>
<path d="M328.00 282.96 L317.68 282.96 L317.68 286.83 L328.00 286.83" fill="none" stroke="#000" stroke-width="0.9"/>
<path d="M317.74 366.15 L317.17 366.15 L317.17 383.56 L328.00 383.56" fill="none" stroke="#000" stroke-width="0.9"/>
<path d="M328.00 310.05 L316.87 310.05 L316.87 313.91 L328.00 313.91" fill="none" stroke="#000" stroke-width="0.9"/>
<path d="M328.00 255.88 L316.76 255.88 L316.76 259.75 L328.00 259.75" fill="none" stroke="#000" stroke-width="0.9"/>
<path d="M316.87 311.98 L316.61 311.98 L316.61 323.59 L319.11 323.59" fill="none" stroke="#000" stroke-width="0.9"/>
<path d="M318.70 265.55 L316.43 265.55 L316.43 273.29 L318.34 273.29" fill="none" stroke="#000" stroke-width="0.9"/>
<path d="M317.17 374.85 L316.43 374.85 L316.43 389.36 L319.95 389.36" fill="none" stroke="#000" stroke-width="0.9"/>
<path d="M318.94 339.06 L316.13 339.06 L316.13 382.11 L316.43 382.11" fill="none" stroke="#000" stroke-width="0.9"/>
<path d="M328.00 252.01 L316.06 252.01 L316.06 257.81 L316.76 257.81" fill="none" stroke="#000" stroke-width="0.9"/>
<path d="M328.00 279.09 L315.95 279.09 L315.95 284.90 L317.68 284.90" fill="none" stroke="#000" stroke-width="0.9"/>
<path d="M317.85 294.33 L315.07 294.33 L315.07 317.78 L316.61 317.78" fill="none" stroke="#000" stroke-width="0.9"/>
<path d="M316.43 269.42 L315.06 269.42 L315.06 282.00 L315.95 282.00" fill="none" stroke="#000" stroke-width="0.9"/>
<path d="M328.00 248.14 L314.28 248.14 L314.28 254.91 L316.06 254.91" fill="none" stroke="#000" stroke-width="0.9"/>
<path d="M317.87 239.44 L314.27 239.44 L314.27 251.53 L314.28 251.53" fill="none" stroke="#000" stroke-width="0.9"/>
<path d="M316.13 360.58 L310.14 360.58 L310.14 395.16 L328.00 395.16" fill="none" stroke="#000" stroke-width="0.9"/>
<path d="M315.06 275.71 L309.10 275.71 L309.10 306.06 L315.07 306.06" fill="none" stroke="#000" stroke-width="0.9"/>
<path d="M314.27 245.48 L307.50 245.48 L307.50 290.88 L309.10 290.88" fill="none" stroke="#000" stroke-width="0.9"/>
<path d="M307.50 268.18 L304.00 268.18 L304.00 377.87 L310.14 377.87" fill="none" stroke="#000" stroke-width="0.9"/>
<path d="M328.00 468.67 L322.09 468.67 L322.09 472.54 L328.00 472.54" fill="none" stroke="#000" stroke-width="0.9"/>
<path d="M328.00 406.77 L321.74 406.77 L321.74 410.64 L328.00 410.64" fill="none" stroke="#000" stroke-width="0.9"/>
<path d="M328.00 402.90 L321.43 402.90 L321.43 408.70 L321.74 408.70" fill="none" stroke="#000" stroke-width="0.9"/>
<path d="M328.00 460.94 L321.21 460.94 L321.21 464.81 L328.00 464.81" fill="none" stroke="#000" stroke-width="0.9"/>
<path d="M328.00 488.02 L320.97 488.02 L320.97 491.89 L328.00 491.89" fill="none" stroke="#000" stroke-width="0.9"/>
<path d="M328.00 429.98 L320.62 429.98 L320.62 433.85 L328.00 433.85" fill="none" stroke="#000" stroke-width="0.9"/>
<path d="M328.00 457.07 L319.71 457.07 L319.71 462.87 L321.21 462.87" fill="none" stroke="#000" stroke-width="0.9"/>
<path d="M319.71 459.97 L319.67 459.97 L319.67 470.61 L322.09 470.61" fill="none" stroke="#000" stroke-width="0.9"/>
<path d="M328.00 449.33 L319.53 449.33 L319.53 453.20 L328.00 453.20" fill="none" stroke="#000" stroke-width="0.9"/>
<path d="M328.00 426.12 L319.51 426.12 L319.51 431.92 L320.62 431.92" fill="none" stroke="#000" stroke-width="0.9"/>
<path d="M328.00 418.38 L319.43 418.38 L319.43 422.25 L328.00 422.25" fill="none" stroke="#000" stroke-width="0.9"/>
<path d="M328.00 399.03 L319.35 399.03 L319.35 405.80 L321.43 405.80" fill="none" stroke="#000" stroke-width="0.9"/>
<path d="M320.97 489.95 L319.12 489.95 L319.12 495.76 L328.00 495.76" fill="none" stroke="#000" stroke-width="0.9"/>
<path d="M328.00 437.72 L319.05 437.72 L319.05 441.59 L328.00 441.59" fill="none" stroke="#000" stroke-width="0.9"/>
<path d="M328.00 484.15 L318.43 484.15 L318.43 492.86 L319.12 492.86" fill="none" stroke="#000" stroke-width="0.9"/>
<path d="M328.00 476.41 L318.07 476.41 L318.07 480.28 L328.00 480.28" fill="none" stroke="#000" stroke-width="0.9"/>
<path d="M328.00 414.51 L317.49 414.51 L317.49 420.31 L319.43 420.31" fill="none" stroke="#000" stroke-width="0.9"/>
<path d="M319.51 429.02 L317.43 429.02 L317.43 439.66 L319.05 439.66" fill="none" stroke="#000" stroke-width="0.9"/>
<path d="M319.53 451.26 L317.22 451.26 L317.22 465.29 L319.67 465.29" fill="none" stroke="#000" stroke-width="0.9"/>
<path d="M317.22 458.28 L316.70 458.28 L316.70 478.35 L318.07 478.35" fill="none" stroke="#000" stroke-width="0.9"/>
<path d="M328.00 445.46 L316.19 445.46 L316.19 468.31 L316.70 468.31" fill="none" stroke="#000" stroke-width="0.9"/>
<path d="M316.19 456.89 L313.84 456.89 L313.84 488.50 L318.43 488.50" fill="none" stroke="#000" stroke-width="0.9"/>
<path d="M317.49 417.41 L313.72 417.41 L313.72 434.34 L317.43 434.34" fill="none" stroke="#000" stroke-width="0.9"/>
<path d="M313.72 425.87 L312.17 425.87 L312.17 472.69 L313.84 472.69" fill="none" stroke="#000" stroke-width="0.9"/>
<path d="M319.35 402.42 L306.00 402.42 L306.00 449.28 L312.17 449.28" fill="none" stroke="#000" stroke-width="0.9"/>
<path d="M328.00 631.17 L322.18 631.17 L322.18 635.04 L328.00 635.04" fill="none" stroke="#000" stroke-width="0.9"/>
<path d="M328.00 638.91 L321.99 638.91 L321.99 642.78 L328.00 642.78" fill="none" stroke="#000" stroke-width="0.9"/>
<path d="M328.00 553.79 L321.75 553.79 L321.75 557.66 L328.00 557.66" fill="none" stroke="#000" stroke-width="0.9"/>
<path d="M328.00 596.35 L320.35 596.35 L320.35 600.22 L328.00 600.22" fill="none" stroke="#000" stroke-width="0.9"/>
<path d="M328.00 549.92 L320.16 549.92 L320.16 555.73 L321.75 555.73" fill="none" stroke="#000" stroke-width="0.9"/>
<path d="M322.18 633.11 L320.04 633.11 L320.04 640.85 L321.99 640.85" fill="none" stroke="#000" stroke-width="0.9"/>
<path d="M328.00 538.32 L319.56 538.32 L319.56 542.19 L328.00 542.19" fill="none" stroke="#000" stroke-width="0.9"/>
<path d="M328.00 580.88 L319.04 580.88 L319.04 584.74 L328.00 584.74" fill="none" stroke="#000" stroke-width="0.9"/>
<path d="M320.04 636.98 L318.64 636.98 L318.64 646.65 L328.00 646.65" fill="none" stroke="#000" stroke-width="0.9"/>
<path d="M328.00 522.84 L318.61 522.84 L318.61 526.71 L328.00 526.71" fill="none" stroke="#000" stroke-width="0.9"/>
<path d="M328.00 604.09 L318.15 604.09 L318.15 607.96 L328.00 607.96" fill="none" stroke="#000" stroke-width="0.9"/>
<path d="M328.00 588.61 L317.71 588.61 L317.71 592.48 L328.00 592.48" fill="none" stroke="#000" stroke-width="0.9"/>
<path d="M328.00 569.27 L317.47 569.27 L317.47 573.14 L328.00 573.14" fill="none" stroke="#000" stroke-width="0.9"/>
<path d="M328.00 534.45 L317.29 534.45 L317.29 540.25 L319.56 540.25" fill="none" stroke="#000" stroke-width="0.9"/>
<path d="M328.00 615.70 L317.27 615.70 L317.27 619.57 L328.00 619.57" fill="none" stroke="#000" stroke-width="0.9"/>
<path d="M328.00 507.36 L317.21 507.36 L317.21 511.23 L328.00 511.23" fill="none" stroke="#000" stroke-width="0.9"/>
<path d="M328.00 658.26 L317.01 658.26 L317.01 662.12 L328.00 662.12" fill="none" stroke="#000" stroke-width="0.9"/>
<path d="M320.35 598.29 L317.01 598.29 L317.01 606.02 L318.15 606.02" fill="none" stroke="#000" stroke-width="0.9"/>
<path d="M328.00 623.43 L316.47 623.43 L316.47 627.30 L328.00 627.30" fill="none" stroke="#000" stroke-width="0.9"/>
<path d="M328.00 577.01 L316.30 577.01 L316.30 582.81 L319.04 582.81" fill="none" stroke="#000" stroke-width="0.9"/>
<path d="M328.00 503.50 L316.22 503.50 L316.22 509.30 L317.21 509.30" fill="none" stroke="#000" stroke-width="0.9"/>
<path d="M328.00 518.97 L315.73 518.97 L315.73 524.78 L318.61 524.78" fill="none" stroke="#000" stroke-width="0.9"/>
<path d="M318.64 641.81 L315.58 641.81 L315.58 650.52 L328.00 650.52" fill="none" stroke="#000" stroke-width="0.9"/>
<path d="M328.00 654.39 L315.46 654.39 L315.46 660.19 L317.01 660.19" fill="none" stroke="#000" stroke-width="0.9"/>
<path d="M317.27 617.63 L315.22 617.63 L315.22 625.37 L316.47 625.37" fill="none" stroke="#000" stroke-width="0.9"/>
<path d="M328.00 515.10 L314.92 515.10 L314.92 521.87 L315.73 521.87" fill="none" stroke="#000" stroke-width="0.9"/>
<path d="M328.00 561.53 L314.46 561.53 L314.46 565.40 L328.00 565.40" fill="none" stroke="#000" stroke-width="0.9"/>
<path d="M320.16 552.83 L314.44 552.83 L314.44 563.46 L314.46 563.46" fill="none" stroke="#000" stroke-width="0.9"/>
<path d="M316.30 579.91 L314.39 579.91 L314.39 590.55 L317.71 590.55" fill="none" stroke="#000" stroke-width="0.9"/>
<path d="M328.00 546.05 L314.23 546.05 L314.23 558.15 L314.44 558.15" fill="none" stroke="#000" stroke-width="0.9"/>
<path d="M328.00 530.58 L313.88 530.58 L313.88 537.35 L317.29 537.35" fill="none" stroke="#000" stroke-width="0.9"/>
<path d="M328.00 611.83 L313.79 611.83 L313.79 621.50 L315.22 621.50" fill="none" stroke="#000" stroke-width="0.9"/>
<path d="M317.47 571.20 L313.10 571.20 L313.10 585.23 L314.39 585.23" fill="none" stroke="#000" stroke-width="0.9"/>
<path d="M328.00 499.63 L312.91 499.63 L312.91 506.40 L316.22 506.40" fill="none" stroke="#000" stroke-width="0.9"/>
<path d="M312.91 503.01 L311.69 503.01 L311.69 518.49 L314.92 518.49" fill="none" stroke="#000" stroke-width="0.9"/>
<path d="M317.01 602.16 L311.02 602.16 L311.02 616.66 L313.79 616.66" fill="none" stroke="#000" stroke-width="0.9"/>
<path d="M311.69 510.75 L310.86 510.75 L310.86 533.96 L313.88 533.96" fill="none" stroke="#000" stroke-width="0.9"/>
<path d="M315.58 646.16 L309.79 646.16 L309.79 657.29 L315.46 657.29" fill="none" stroke="#000" stroke-width="0.9"/>
<path d="M314.23 552.10 L309.33 552.10 L309.33 578.22 L313.10 578.22" fill="none" stroke="#000" stroke-width="0.9"/>
<path d="M311.02 609.41 L308.89 609.41 L308.89 651.73 L309.79 651.73" fill="none" stroke="#000" stroke-width="0.9"/>
<path d="M309.33 565.16 L306.16 565.16 L306.16 630.57 L308.89 630.57" fill="none" stroke="#000" stroke-width="0.9"/>
<path d="M310.86 522.36 L305.20 522.36 L305.20 597.86 L306.16 597.86" fill="none" stroke="#000" stroke-width="0.9"/>
<path d="M306.00 425.85 L303.20 425.85 L303.20 560.11 L305.20 560.11" fill="none" stroke="#000" stroke-width="0.9"/>
<path d="M304.00 323.03 L297.40 323.03 L297.40 492.98 L303.20 492.98" fill="none" stroke="#000" stroke-width="0.9"/>
<g font-size="4.55" fill="#000" stroke="#000" stroke-width="0.06">
<text x="498.4" y="238.75">(4S)−Dihydrocurcumenone</text>
<text x="498.4" y="242.62">Eupitin 3'−sulfate</text>
<text x="498.4" y="246.49">8−Hydroxydesmethylclomipramine</text>
<text x="498.4" y="250.36">Mordant yellow 12</text>
<text x="498.4" y="254.23">Ethyl imidazole−2−carboxylate</text>
<text x="498.4" y="258.09">Methylimidazoleacetic acid</text>
<text x="498.4" y="261.96">4−Pregnen−6.beta.,11.beta.,17,21−tetrol−3,20−dione</text>
<text x="498.4" y="265.83">Pentaethylene glycol</text>
<text x="498.4" y="269.70">Hexaethylene glycol</text>
<text x="498.4" y="273.57">Corticosterone 21−acetate</text>
<text x="498.4" y="277.44">Pregnanoside VII</text>
<text x="498.4" y="281.31">7−Oxocholesterol</text>
<text x="498.4" y="285.18">Tetraethylene glycol</text>
<text x="498.4" y="289.05">Cholesta−4,6−dien−3−one</text>
<text x="498.4" y="292.92">5−Acetoxy−4−acoren−3−one</text>
<text x="498.4" y="296.78">Beclomethasone</text>
<text x="498.4" y="300.65">Heptaethylene glycol</text>
<text x="498.4" y="304.52">His−Tyr</text>
<text x="498.4" y="308.39">Octaethylene glycol</text>
<text x="498.4" y="312.26">Ethyl p−coumaride</text>
<text x="498.4" y="316.13">3beta−Hydroxycinnamolide</text>
<text x="498.4" y="320.00">alpha−Citronellal</text>
<text x="498.4" y="323.87">Lipbetaside</text>
<text x="498.4" y="327.74">Obtusilic acid</text>
<text x="498.4" y="331.61">3,4−Dimethylbenzaldehyde</text>
<text x="498.4" y="335.47">PAHFA 21:0; PAHFA(2:0/19:0)</text>
<text x="498.4" y="339.34">PAHFA 24:0; PAHFA(2:0/22:0)</text>
<text x="498.4" y="343.21">Isospergulin</text>
<text x="498.4" y="347.08">beta−Carotene</text>
<text x="498.4" y="350.95">2,5−Dimethoxy−4−iso−propylthioamphetamine</text>
<text x="498.4" y="354.82">Yohimbic Acid</text>
<text x="498.4" y="358.69">Cryptotanshinone</text>
<text x="498.4" y="362.56">Acetic anhydride</text>
<text x="498.4" y="366.43">Irbesartan</text>
<text x="498.4" y="370.30">2−(2−methoxy−2−(methoxycarbonyl)phenyl)butanoic acid</text>
<text x="498.4" y="374.16">Chenodeoxycholic acid 3−sulfate</text>
<text x="498.4" y="378.03">19(R)−Hydroxyprostaglandin B2</text>
<text x="498.4" y="381.90">(4R,5S,7R,11R)−11,12−Dihydroxy−1(10)−spirovetiven−2−one</text>
<text x="498.4" y="385.77">Phosphoserine</text>
<text x="498.4" y="389.64">Mono−(2−ethyl−5−hydroxyhexyl) phthalate</text>
<text x="498.4" y="393.51">12−Oxo−20−trihydroxy−leukotriene B4</text>
<text x="498.4" y="397.38">1,4−Dihydro−3−propanol−2H−pyrrole</text>
<text x="498.4" y="401.25">4−Heptenal diethyl acetal</text>
<text x="498.4" y="405.12">Spermine dialdehyde</text>
<text x="498.4" y="408.99">Zexanol</text>
<text x="498.4" y="412.85">Cinncassiol A</text>
<text x="498.4" y="416.72">Carpaine</text>
<text x="498.4" y="420.59">L−(−)−Phenylalanine</text>
<text x="498.4" y="424.46">9−HODE</text>
<text x="498.4" y="428.33">Isobutyryl−L−carnitine</text>
<text x="498.4" y="432.20">Chenodeoxycholic acid sulfate</text>
<text x="498.4" y="436.07">1,1'−(1,12−Dodecanediyl)bis(oxy)dibenzene</text>
<text x="498.4" y="439.94">Desaspidinol</text>
<text x="498.4" y="443.81">8,9−Dihydroxy−5Z,11Z,14Z−eicosatrienoic acid</text>
<text x="498.4" y="447.68">(E)−1−Cinnamoylpyrrolidine</text>
<text x="498.4" y="451.54">(3beta,17alpha,23R)−17,23−Epoxy−3,28,29−trihydroxy−27−norlanost−8−en−24−one</text>
<text x="498.4" y="455.41">(3beta,17alpha,23S,24S)−17,23−Epoxy−3,24,29−trihydroxy−27−norlanost−8−en−15−one</text>
<text x="498.4" y="459.28">Paramethasone</text>
<text x="498.4" y="463.15">Reticulataxanthin</text>
<text x="498.4" y="467.02">Flucetine</text>
<text x="498.4" y="470.89">N−Lauroylglycine</text>
<text x="498.4" y="474.76">Dipyridamol</text>
<text x="498.4" y="478.63">Leupeptin</text>
<text x="498.4" y="482.50">Desglucoruscoside</text>
<text x="498.4" y="486.37">7a,12a−Dihydroxy−3−oxo−4−cholenoic acid</text>
<text x="498.4" y="490.23">Biopterine</text>
<text x="498.4" y="494.10">D−Mannose 6−phosphate</text>
<text x="498.4" y="497.97">9−Oxo−11−(3−pentyl−2−oxiranyl)−10E−undecenoic acid</text>
<text x="498.4" y="501.84">Tetradecanedioic acid</text>
<text x="498.4" y="505.71">Ethyl 3−pyrrolidinecarboxylate</text>
<text x="498.4" y="509.58">Eriodictyol</text>
<text x="498.4" y="513.45">Guanosine</text>
<text x="498.4" y="517.32">11(S)−DiHODE</text>
<text x="498.4" y="521.19">12,13−Dihydroxy−9Z−octadecenoic acid</text>
<text x="498.4" y="525.06">9−Oxo−10E,12E−octadecadienoic acid</text>
<text x="498.4" y="528.92">(S)−Desmethylcitalopram</text>
<text x="498.4" y="532.79">Thymine</text>
<text x="498.4" y="536.66">(9S,10S)−9,10−dihydroxyoctadecanoate</text>
<text x="498.4" y="540.53">9−Oxooctadecanoic acid</text>
<text x="498.4" y="544.40">5−Hexyltetrahydro−2−furanoctanoic acid</text>
<text x="498.4" y="548.27">6−Methyladenine</text>
<text x="498.4" y="552.14">Avocadene 1−acetate</text>
<text x="498.4" y="556.01">Acylcarnitine 14:1</text>
<text x="498.4" y="559.88">Methyl .gamma.−linolenate</text>
<text x="498.4" y="563.75">Adenine</text>
<text x="498.4" y="567.61">Nandrolone</text>
<text x="498.4" y="571.48">(2−Methoxyethoxy)propanoic acid</text>
<text x="498.4" y="575.35">Cortodoxone</text>
<text x="498.4" y="579.22">Linoleoylglycine</text>
<text x="498.4" y="583.09">Phosphocholine</text>
<text x="498.4" y="586.96">LysoPI 16:2; LysoPI 18:2</text>
<text x="498.4" y="590.83">Ganoderic acid E</text>
<text x="498.4" y="594.70">Isoleucyl−Cysteine</text>
<text x="498.4" y="598.57">(2a,20beta)−2,20−Dihydroxy−3−oxo−12−ursen−28−oic acid</text>
<text x="498.4" y="602.44">Ganoderic acid beta</text>
<text x="498.4" y="606.30">Echinocystic acid</text>
<text x="498.4" y="610.17">1beta,19−Hydroxy−3,11−dioxo−12−ursen−28−oic acid</text>
<text x="498.4" y="614.04">6beta−Hydroxy−3−oxo−12−oleanen−28−oic acid</text>
<text x="498.4" y="617.91">Linoleic acid</text>
<text x="498.4" y="621.78">Methylphosphate</text>
<text x="498.4" y="625.65">Stearidonol</text>
<text x="498.4" y="629.52">Isovaleric acid</text>
<text x="498.4" y="633.39">Acylcarnitine 12:1</text>
<text x="498.4" y="637.26">Octadecanedioic acid</text>
<text x="498.4" y="641.13">Punicic acid</text>
<text x="498.4" y="644.99">Alpha−dimorphecolic acid</text>
<text x="498.4" y="648.86">9,10−Dihydroxy−12Z−octadecenoic acid</text>
<text x="498.4" y="652.73">Paeonol</text>
<text x="498.4" y="656.60">(2E,4Z,7Z,8E)−Colneleic acid</text>
<text x="498.4" y="660.47">2−Hydroxy−N−lauroylsphingosine</text>
<text x="498.4" y="664.34">Deoxyguanosine</text>
</g>
<defs><linearGradient id="hmg" x1="0" y1="1" x2="0" y2="0"><stop offset="0.00" stop-color="#313695"/><stop offset="0.10" stop-color="#4575B4"/><stop offset="0.20" stop-color="#74ADD1"/><stop offset="0.30" stop-color="#ABD9E9"/><stop offset="0.40" stop-color="#E0F3F8"/><stop offset="0.50" stop-color="#FFFFBF"/><stop offset="0.60" stop-color="#FEE090"/><stop offset="0.70" stop-color="#FDAE61"/><stop offset="0.80" stop-color="#F46D43"/><stop offset="0.90" stop-color="#D73027"/><stop offset="1.00" stop-color="#A50026"/></linearGradient><linearGradient id="qg" x1="0" y1="1" x2="0" y2="0"><stop offset="0.000" stop-color="#FF0000"/><stop offset="0.125" stop-color="#F40031"/><stop offset="0.250" stop-color="#E80050"/><stop offset="0.375" stop-color="#DA006C"/><stop offset="0.500" stop-color="#CA0088"/><stop offset="0.625" stop-color="#B500A5"/><stop offset="0.750" stop-color="#9A00C3"/><stop offset="0.875" stop-color="#7300E0"/><stop offset="1.000" stop-color="#0000FF"/></linearGradient></defs>
<rect x="632" y="234.8" width="5.8" height="85.5" fill="url(#hmg)"/>
<text x="640.30" y="237.60" font-size="6.2" text-anchor="start" fill="#000" >2</text>
<text x="640.30" y="259.00" font-size="6.2" text-anchor="start" fill="#000" >1</text>
<text x="640.30" y="280.40" font-size="6.2" text-anchor="start" fill="#000" >0</text>
<text x="640.30" y="301.80" font-size="6.2" text-anchor="start" fill="#000" >−1</text>
<text x="640.30" y="323.20" font-size="6.2" text-anchor="start" fill="#000" >−2</text>
<line x1="109.30" y1="241.90" x2="109.30" y2="290.90" stroke="#E6E6E6" stroke-width="0.5" />
<line x1="129.40" y1="241.90" x2="129.40" y2="290.90" stroke="#E6E6E6" stroke-width="0.5" />
<line x1="150.40" y1="241.90" x2="150.40" y2="290.90" stroke="#E6E6E6" stroke-width="0.5" />
<line x1="171.40" y1="241.90" x2="171.40" y2="290.90" stroke="#E6E6E6" stroke-width="0.5" />
<line x1="192.50" y1="241.90" x2="192.50" y2="290.90" stroke="#E6E6E6" stroke-width="0.5" />
<line x1="212.50" y1="241.90" x2="212.50" y2="290.90" stroke="#E6E6E6" stroke-width="0.5" />
<line x1="95.90" y1="249.30" x2="218.70" y2="249.30" stroke="#E6E6E6" stroke-width="0.5" />
<line x1="95.90" y1="261.20" x2="218.70" y2="261.20" stroke="#E6E6E6" stroke-width="0.5" />
<line x1="95.90" y1="272.80" x2="218.70" y2="272.80" stroke="#E6E6E6" stroke-width="0.5" />
<line x1="95.90" y1="284.40" x2="218.70" y2="284.40" stroke="#E6E6E6" stroke-width="0.5" />
<rect x="95.90" y="241.90" width="122.80" height="49.00" fill="none" stroke="#333" stroke-width="1.3"/>
<line x1="94.40" y1="249.30" x2="95.90" y2="249.30" stroke="#333" stroke-width="0.5" />
<text x="93.80" y="250.68" font-size="3.9" text-anchor="end" fill="#333" >Glucocorticoids</text>
<line x1="94.40" y1="261.20" x2="95.90" y2="261.20" stroke="#333" stroke-width="0.5" />
<text x="93.80" y="262.58" font-size="3.9" text-anchor="end" fill="#333" >Local analgesics</text>
<line x1="94.40" y1="272.80" x2="95.90" y2="272.80" stroke="#333" stroke-width="0.5" />
<text x="93.80" y="274.18" font-size="3.9" text-anchor="end" fill="#333" >Anti−HIV agents</text>
<line x1="94.40" y1="284.40" x2="95.90" y2="284.40" stroke="#333" stroke-width="0.5" />
<text x="93.80" y="285.78" font-size="3.9" text-anchor="end" fill="#333" >beta−Adrenergic receptor agonists/antagonists</text>
<text x="221.00" y="267.78" font-size="3.9" text-anchor="start" fill="#333" >Drug Development</text>
<line x1="109.30" y1="292.90" x2="109.30" y2="354.00" stroke="#E6E6E6" stroke-width="0.5" />
<line x1="129.40" y1="292.90" x2="129.40" y2="354.00" stroke="#E6E6E6" stroke-width="0.5" />
<line x1="150.40" y1="292.90" x2="150.40" y2="354.00" stroke="#E6E6E6" stroke-width="0.5" />
<line x1="171.40" y1="292.90" x2="171.40" y2="354.00" stroke="#E6E6E6" stroke-width="0.5" />
<line x1="192.50" y1="292.90" x2="192.50" y2="354.00" stroke="#E6E6E6" stroke-width="0.5" />
<line x1="212.50" y1="292.90" x2="212.50" y2="354.00" stroke="#E6E6E6" stroke-width="0.5" />
<line x1="95.90" y1="300.50" x2="218.70" y2="300.50" stroke="#E6E6E6" stroke-width="0.5" />
<line x1="95.90" y1="312.10" x2="218.70" y2="312.10" stroke="#E6E6E6" stroke-width="0.5" />
<line x1="95.90" y1="323.80" x2="218.70" y2="323.80" stroke="#E6E6E6" stroke-width="0.5" />
<line x1="95.90" y1="335.30" x2="218.70" y2="335.30" stroke="#E6E6E6" stroke-width="0.5" />
<line x1="95.90" y1="346.80" x2="218.70" y2="346.80" stroke="#E6E6E6" stroke-width="0.5" />
<rect x="95.90" y="292.90" width="122.80" height="61.10" fill="none" stroke="#333" stroke-width="1.3"/>
<line x1="94.40" y1="300.50" x2="95.90" y2="300.50" stroke="#333" stroke-width="0.5" />
<text x="93.80" y="301.88" font-size="3.9" text-anchor="end" fill="#333" >Steroid hormone biosynthesis</text>
<line x1="94.40" y1="312.10" x2="95.90" y2="312.10" stroke="#333" stroke-width="0.5" />
<text x="93.80" y="313.48" font-size="3.9" text-anchor="end" fill="#333" >Arachidonic acid metabolism</text>
<line x1="94.40" y1="323.80" x2="95.90" y2="323.80" stroke="#333" stroke-width="0.5" />
<text x="93.80" y="325.18" font-size="3.9" text-anchor="end" fill="#333" >Linoleic acid metabolism</text>
<line x1="94.40" y1="335.30" x2="95.90" y2="335.30" stroke="#333" stroke-width="0.5" />
<text x="93.80" y="336.68" font-size="3.9" text-anchor="end" fill="#333" >alpha−Linolenic acid metabolism</text>
<line x1="94.40" y1="346.80" x2="95.90" y2="346.80" stroke="#333" stroke-width="0.5" />
<text x="93.80" y="348.18" font-size="3.9" text-anchor="end" fill="#333" >Insect hormone biosynthesis</text>
<text x="221.00" y="324.83" font-size="3.9" text-anchor="start" fill="#333" >Metabolism</text>
<line x1="109.30" y1="356.00" x2="109.30" y2="393.20" stroke="#E6E6E6" stroke-width="0.5" />
<line x1="129.40" y1="356.00" x2="129.40" y2="393.20" stroke="#E6E6E6" stroke-width="0.5" />
<line x1="150.40" y1="356.00" x2="150.40" y2="393.20" stroke="#E6E6E6" stroke-width="0.5" />
<line x1="171.40" y1="356.00" x2="171.40" y2="393.20" stroke="#E6E6E6" stroke-width="0.5" />
<line x1="192.50" y1="356.00" x2="192.50" y2="393.20" stroke="#E6E6E6" stroke-width="0.5" />
<line x1="212.50" y1="356.00" x2="212.50" y2="393.20" stroke="#E6E6E6" stroke-width="0.5" />
<line x1="95.90" y1="363.20" x2="218.70" y2="363.20" stroke="#E6E6E6" stroke-width="0.5" />
<line x1="95.90" y1="374.90" x2="218.70" y2="374.90" stroke="#E6E6E6" stroke-width="0.5" />
<line x1="95.90" y1="386.60" x2="218.70" y2="386.60" stroke="#E6E6E6" stroke-width="0.5" />
<rect x="95.90" y="356.00" width="122.80" height="37.20" fill="none" stroke="#333" stroke-width="1.3"/>
<line x1="94.40" y1="363.20" x2="95.90" y2="363.20" stroke="#333" stroke-width="0.5" />
<text x="93.80" y="364.58" font-size="3.9" text-anchor="end" fill="#333" >PPAR signaling pathway</text>
<line x1="94.40" y1="374.90" x2="95.90" y2="374.90" stroke="#333" stroke-width="0.5" />
<text x="93.80" y="376.28" font-size="3.9" text-anchor="end" fill="#333" >Serotonergic synapse</text>
<line x1="94.40" y1="386.60" x2="95.90" y2="386.60" stroke="#333" stroke-width="0.5" />
<text x="93.80" y="387.98" font-size="3.9" text-anchor="end" fill="#333" >Ovarian steroidogenesis</text>
<text x="221.00" y="375.98" font-size="3.9" text-anchor="start" fill="#333" >Organismal Systems</text>
<circle cx="213.10" cy="249.30" r="1.00" fill="#F00010"/>
<circle cx="153.50" cy="261.20" r="1.60" fill="#1414F0"/>
<circle cx="213.10" cy="272.80" r="1.00" fill="#F00010"/>
<circle cx="213.10" cy="284.40" r="1.00" fill="#F00010"/>
<circle cx="101.60" cy="300.50" r="2.90" fill="#F00010"/>
<circle cx="157.70" cy="312.10" r="3.05" fill="#F00010"/>
<circle cx="198.20" cy="323.80" r="2.50" fill="#F00018"/>
<circle cx="123.60" cy="335.30" r="2.50" fill="#F00018"/>
<circle cx="129.80" cy="346.80" r="2.10" fill="#E00030"/>
<circle cx="171.40" cy="363.20" r="1.35" fill="#6018B0"/>
<circle cx="133.80" cy="374.90" r="2.30" fill="#F00018"/>
<circle cx="117.70" cy="386.60" r="1.90" fill="#2020F0"/>
<line x1="129.40" y1="393.20" x2="129.40" y2="394.70" stroke="#333" stroke-width="0.5" />
<text x="129.40" y="398.80" font-size="3.4" text-anchor="middle" fill="#444" >0.0</text>
<line x1="171.40" y1="393.20" x2="171.40" y2="394.70" stroke="#333" stroke-width="0.5" />
<text x="171.40" y="398.80" font-size="3.4" text-anchor="middle" fill="#444" >0.5</text>
<line x1="212.50" y1="393.20" x2="212.50" y2="394.70" stroke="#333" stroke-width="0.5" />
<text x="212.50" y="398.80" font-size="3.4" text-anchor="middle" fill="#444" >1.0</text>
<text x="155.60" y="404.20" font-size="4.8" text-anchor="middle" fill="#000" >Enrichment factor</text>
<text x="0" y="0" font-size="4.9" text-anchor="middle" transform="translate(10.2 318.6) rotate(-90)">Pathway</text>
<text x="266.20" y="272.50" font-size="4.8" text-anchor="start" fill="#000" >Number</text>
<circle cx="269.80" cy="278.90" r="1.60" fill="#000"/>
<text x="276.70" y="280.18" font-size="3.6" text-anchor="start" fill="#333" >10</text>
<circle cx="269.80" cy="286.50" r="2.00" fill="#000"/>
<text x="276.70" y="287.78" font-size="3.6" text-anchor="start" fill="#333" >20</text>
<circle cx="269.80" cy="294.20" r="2.40" fill="#000"/>
<text x="276.70" y="295.48" font-size="3.6" text-anchor="start" fill="#333" >30</text>
<circle cx="269.80" cy="301.80" r="2.75" fill="#000"/>
<text x="276.70" y="303.08" font-size="3.6" text-anchor="start" fill="#333" >40</text>
<circle cx="269.80" cy="309.20" r="3.05" fill="#000"/>
<text x="276.70" y="310.48" font-size="3.6" text-anchor="start" fill="#333" >50</text>
<text x="266.20" y="326.90" font-size="4.8" text-anchor="start" fill="#000" >Qvalue</text>
<rect x="266.2" y="329.9" width="7.2" height="37.8" fill="url(#qg)"/>
<line x1="266.20" y1="334.80" x2="267.60" y2="334.80" stroke="#fff" stroke-width="0.5" />
<line x1="271.80" y1="334.80" x2="273.40" y2="334.80" stroke="#fff" stroke-width="0.5" />
<text x="276.70" y="336.08" font-size="3.6" text-anchor="start" fill="#333" >0.04</text>
<line x1="266.20" y1="343.20" x2="267.60" y2="343.20" stroke="#fff" stroke-width="0.5" />
<line x1="271.80" y1="343.20" x2="273.40" y2="343.20" stroke="#fff" stroke-width="0.5" />
<text x="276.70" y="344.48" font-size="3.6" text-anchor="start" fill="#333" >0.03</text>
<line x1="266.20" y1="351.50" x2="267.60" y2="351.50" stroke="#fff" stroke-width="0.5" />
<line x1="271.80" y1="351.50" x2="273.40" y2="351.50" stroke="#fff" stroke-width="0.5" />
<text x="276.70" y="352.78" font-size="3.6" text-anchor="start" fill="#333" >0.02</text>
<line x1="266.20" y1="359.30" x2="267.60" y2="359.30" stroke="#fff" stroke-width="0.5" />
<line x1="271.80" y1="359.30" x2="273.40" y2="359.30" stroke="#fff" stroke-width="0.5" />
<text x="276.70" y="360.58" font-size="3.6" text-anchor="start" fill="#333" >0.01</text>
<line x1="266.20" y1="367.60" x2="267.60" y2="367.60" stroke="#fff" stroke-width="0.5" />
<line x1="271.80" y1="367.60" x2="273.40" y2="367.60" stroke="#fff" stroke-width="0.5" />
<text x="276.70" y="368.88" font-size="3.6" text-anchor="start" fill="#333" >0.00</text>
<g transform="translate(0 0.4)">
<line x1="91.20" y1="427.30" x2="91.20" y2="437.50" stroke="#E6E6E6" stroke-width="0.5" />
<line x1="101.80" y1="427.30" x2="101.80" y2="437.50" stroke="#E6E6E6" stroke-width="0.5" />
<line x1="112.40" y1="427.30" x2="112.40" y2="437.50" stroke="#E6E6E6" stroke-width="0.5" />
<line x1="123.00" y1="427.30" x2="123.00" y2="437.50" stroke="#E6E6E6" stroke-width="0.5" />
<line x1="134.50" y1="427.30" x2="134.50" y2="437.50" stroke="#E6E6E6" stroke-width="0.5" />
<line x1="145.00" y1="427.30" x2="145.00" y2="437.50" stroke="#E6E6E6" stroke-width="0.5" />
<line x1="155.60" y1="427.30" x2="155.60" y2="437.50" stroke="#E6E6E6" stroke-width="0.5" />
<line x1="166.20" y1="427.30" x2="166.20" y2="437.50" stroke="#E6E6E6" stroke-width="0.5" />
<line x1="176.80" y1="427.30" x2="176.80" y2="437.50" stroke="#E6E6E6" stroke-width="0.5" />
<line x1="188.30" y1="427.30" x2="188.30" y2="437.50" stroke="#E6E6E6" stroke-width="0.5" />
<line x1="80.60" y1="432.50" x2="193.00" y2="432.50" stroke="#E6E6E6" stroke-width="0.5" />
<rect x="80.60" y="427.30" width="112.40" height="10.20" fill="none" stroke="#333" stroke-width="1.5"/>
<line x1="79.10" y1="432.50" x2="80.60" y2="432.50" stroke="#333" stroke-width="0.5" />
<text x="78.30" y="433.96" font-size="4.1" text-anchor="end" fill="#333" >Apoptosis</text>
<text x="195.30" y="433.86" font-size="4.1" text-anchor="start" fill="#333" >Cellular Processes</text>
<line x1="91.20" y1="439.60" x2="91.20" y2="457.30" stroke="#E6E6E6" stroke-width="0.5" />
<line x1="101.80" y1="439.60" x2="101.80" y2="457.30" stroke="#E6E6E6" stroke-width="0.5" />
<line x1="112.40" y1="439.60" x2="112.40" y2="457.30" stroke="#E6E6E6" stroke-width="0.5" />
<line x1="123.00" y1="439.60" x2="123.00" y2="457.30" stroke="#E6E6E6" stroke-width="0.5" />
<line x1="134.50" y1="439.60" x2="134.50" y2="457.30" stroke="#E6E6E6" stroke-width="0.5" />
<line x1="145.00" y1="439.60" x2="145.00" y2="457.30" stroke="#E6E6E6" stroke-width="0.5" />
<line x1="155.60" y1="439.60" x2="155.60" y2="457.30" stroke="#E6E6E6" stroke-width="0.5" />
<line x1="166.20" y1="439.60" x2="166.20" y2="457.30" stroke="#E6E6E6" stroke-width="0.5" />
<line x1="176.80" y1="439.60" x2="176.80" y2="457.30" stroke="#E6E6E6" stroke-width="0.5" />
<line x1="188.30" y1="439.60" x2="188.30" y2="457.30" stroke="#E6E6E6" stroke-width="0.5" />
<line x1="80.60" y1="444.60" x2="193.00" y2="444.60" stroke="#E6E6E6" stroke-width="0.5" />
<line x1="80.60" y1="452.70" x2="193.00" y2="452.70" stroke="#E6E6E6" stroke-width="0.5" />
<rect x="80.60" y="439.60" width="112.40" height="17.70" fill="none" stroke="#333" stroke-width="1.5"/>
<line x1="79.10" y1="444.60" x2="80.60" y2="444.60" stroke="#333" stroke-width="0.5" />
<text x="78.30" y="446.06" font-size="4.1" text-anchor="end" fill="#333" >ABC transporters</text>
<line x1="79.10" y1="452.70" x2="80.60" y2="452.70" stroke="#333" stroke-width="0.5" />
<text x="78.30" y="454.16" font-size="4.1" text-anchor="end" fill="#333" >Sphingolipid signaling pathway</text>
<text x="195.30" y="449.91" font-size="4.1" text-anchor="start" fill="#333" >Environmental Information Processing</text>
<line x1="91.20" y1="460.00" x2="91.20" y2="469.60" stroke="#E6E6E6" stroke-width="0.5" />
<line x1="101.80" y1="460.00" x2="101.80" y2="469.60" stroke="#E6E6E6" stroke-width="0.5" />
<line x1="112.40" y1="460.00" x2="112.40" y2="469.60" stroke="#E6E6E6" stroke-width="0.5" />
<line x1="123.00" y1="460.00" x2="123.00" y2="469.60" stroke="#E6E6E6" stroke-width="0.5" />
<line x1="134.50" y1="460.00" x2="134.50" y2="469.60" stroke="#E6E6E6" stroke-width="0.5" />
<line x1="145.00" y1="460.00" x2="145.00" y2="469.60" stroke="#E6E6E6" stroke-width="0.5" />
<line x1="155.60" y1="460.00" x2="155.60" y2="469.60" stroke="#E6E6E6" stroke-width="0.5" />
<line x1="166.20" y1="460.00" x2="166.20" y2="469.60" stroke="#E6E6E6" stroke-width="0.5" />
<line x1="176.80" y1="460.00" x2="176.80" y2="469.60" stroke="#E6E6E6" stroke-width="0.5" />
<line x1="188.30" y1="460.00" x2="188.30" y2="469.60" stroke="#E6E6E6" stroke-width="0.5" />
<line x1="80.60" y1="464.70" x2="193.00" y2="464.70" stroke="#E6E6E6" stroke-width="0.5" />
<rect x="80.60" y="460.00" width="112.40" height="9.60" fill="none" stroke="#333" stroke-width="1.5"/>
<line x1="79.10" y1="464.70" x2="80.60" y2="464.70" stroke="#333" stroke-width="0.5" />
<text x="78.30" y="466.16" font-size="4.1" text-anchor="end" fill="#333" >Sulfur relay system</text>
<text x="195.30" y="466.26" font-size="4.1" text-anchor="start" fill="#333" >Genetic Information Processing</text>
<line x1="91.20" y1="472.30" x2="91.20" y2="481.60" stroke="#E6E6E6" stroke-width="0.5" />
<line x1="101.80" y1="472.30" x2="101.80" y2="481.60" stroke="#E6E6E6" stroke-width="0.5" />
<line x1="112.40" y1="472.30" x2="112.40" y2="481.60" stroke="#E6E6E6" stroke-width="0.5" />
<line x1="123.00" y1="472.30" x2="123.00" y2="481.60" stroke="#E6E6E6" stroke-width="0.5" />
<line x1="134.50" y1="472.30" x2="134.50" y2="481.60" stroke="#E6E6E6" stroke-width="0.5" />
<line x1="145.00" y1="472.30" x2="145.00" y2="481.60" stroke="#E6E6E6" stroke-width="0.5" />
<line x1="155.60" y1="472.30" x2="155.60" y2="481.60" stroke="#E6E6E6" stroke-width="0.5" />
<line x1="166.20" y1="472.30" x2="166.20" y2="481.60" stroke="#E6E6E6" stroke-width="0.5" />
<line x1="176.80" y1="472.30" x2="176.80" y2="481.60" stroke="#E6E6E6" stroke-width="0.5" />
<line x1="188.30" y1="472.30" x2="188.30" y2="481.60" stroke="#E6E6E6" stroke-width="0.5" />
<line x1="80.60" y1="476.80" x2="193.00" y2="476.80" stroke="#E6E6E6" stroke-width="0.5" />
<rect x="80.60" y="472.30" width="112.40" height="9.30" fill="none" stroke="#333" stroke-width="1.5"/>
<line x1="79.10" y1="476.80" x2="80.60" y2="476.80" stroke="#333" stroke-width="0.5" />
<text x="78.30" y="478.26" font-size="4.1" text-anchor="end" fill="#333" >Choline metabolism in cancer</text>
<text x="195.30" y="478.41" font-size="4.1" text-anchor="start" fill="#333" >Human Diseases</text>
<line x1="91.20" y1="483.80" x2="91.20" y2="581.70" stroke="#E6E6E6" stroke-width="0.5" />
<line x1="101.80" y1="483.80" x2="101.80" y2="581.70" stroke="#E6E6E6" stroke-width="0.5" />
<line x1="112.40" y1="483.80" x2="112.40" y2="581.70" stroke="#E6E6E6" stroke-width="0.5" />
<line x1="123.00" y1="483.80" x2="123.00" y2="581.70" stroke="#E6E6E6" stroke-width="0.5" />
<line x1="134.50" y1="483.80" x2="134.50" y2="581.70" stroke="#E6E6E6" stroke-width="0.5" />
<line x1="145.00" y1="483.80" x2="145.00" y2="581.70" stroke="#E6E6E6" stroke-width="0.5" />
<line x1="155.60" y1="483.80" x2="155.60" y2="581.70" stroke="#E6E6E6" stroke-width="0.5" />
<line x1="166.20" y1="483.80" x2="166.20" y2="581.70" stroke="#E6E6E6" stroke-width="0.5" />
<line x1="176.80" y1="483.80" x2="176.80" y2="581.70" stroke="#E6E6E6" stroke-width="0.5" />
<line x1="188.30" y1="483.80" x2="188.30" y2="581.70" stroke="#E6E6E6" stroke-width="0.5" />
<line x1="80.60" y1="489.00" x2="193.00" y2="489.00" stroke="#E6E6E6" stroke-width="0.5" />
<line x1="80.60" y1="497.00" x2="193.00" y2="497.00" stroke="#E6E6E6" stroke-width="0.5" />
<line x1="80.60" y1="505.00" x2="193.00" y2="505.00" stroke="#E6E6E6" stroke-width="0.5" />
<line x1="80.60" y1="512.90" x2="193.00" y2="512.90" stroke="#E6E6E6" stroke-width="0.5" />
<line x1="80.60" y1="520.80" x2="193.00" y2="520.80" stroke="#E6E6E6" stroke-width="0.5" />
<line x1="80.60" y1="528.80" x2="193.00" y2="528.80" stroke="#E6E6E6" stroke-width="0.5" />
<line x1="80.60" y1="537.10" x2="193.00" y2="537.10" stroke="#E6E6E6" stroke-width="0.5" />
<line x1="80.60" y1="545.00" x2="193.00" y2="545.00" stroke="#E6E6E6" stroke-width="0.5" />
<line x1="80.60" y1="552.90" x2="193.00" y2="552.90" stroke="#E6E6E6" stroke-width="0.5" />
<line x1="80.60" y1="560.90" x2="193.00" y2="560.90" stroke="#E6E6E6" stroke-width="0.5" />
<line x1="80.60" y1="568.80" x2="193.00" y2="568.80" stroke="#E6E6E6" stroke-width="0.5" />
<line x1="80.60" y1="576.80" x2="193.00" y2="576.80" stroke="#E6E6E6" stroke-width="0.5" />
<rect x="80.60" y="483.80" width="112.40" height="97.90" fill="none" stroke="#333" stroke-width="1.5"/>
<line x1="79.10" y1="489.00" x2="80.60" y2="489.00" stroke="#333" stroke-width="0.5" />
<text x="78.30" y="490.46" font-size="4.1" text-anchor="end" fill="#333" >Purine metabolism</text>
<line x1="79.10" y1="497.00" x2="80.60" y2="497.00" stroke="#333" stroke-width="0.5" />
<text x="78.30" y="498.46" font-size="4.1" text-anchor="end" fill="#333" >Arginine and proline metabolism</text>
<line x1="79.10" y1="505.00" x2="80.60" y2="505.00" stroke="#333" stroke-width="0.5" />
<text x="78.30" y="506.46" font-size="4.1" text-anchor="end" fill="#333" >Histidine metabolism</text>
<line x1="79.10" y1="512.90" x2="80.60" y2="512.90" stroke="#333" stroke-width="0.5" />
<text x="78.30" y="514.36" font-size="4.1" text-anchor="end" fill="#333" >beta−Alanine metabolism</text>
<line x1="79.10" y1="520.80" x2="80.60" y2="520.80" stroke="#333" stroke-width="0.5" />
<text x="78.30" y="522.26" font-size="4.1" text-anchor="end" fill="#333" >Glutathione metabolism</text>
<line x1="79.10" y1="528.80" x2="80.60" y2="528.80" stroke="#333" stroke-width="0.5" />
<text x="78.30" y="530.26" font-size="4.1" text-anchor="end" fill="#333" >Glycerophospholipid metabolism</text>
<line x1="79.10" y1="537.10" x2="80.60" y2="537.10" stroke="#333" stroke-width="0.5" />
<text x="78.30" y="538.56" font-size="4.1" text-anchor="end" fill="#333" >Arachidonic acid metabolism</text>
<line x1="79.10" y1="545.00" x2="80.60" y2="545.00" stroke="#333" stroke-width="0.5" />
<text x="78.30" y="546.46" font-size="4.1" text-anchor="end" fill="#333" >Linoleic acid metabolism</text>
<line x1="79.10" y1="552.90" x2="80.60" y2="552.90" stroke="#333" stroke-width="0.5" />
<text x="78.30" y="554.36" font-size="4.1" text-anchor="end" fill="#333" >alpha−Linolenic acid metabolism</text>
<line x1="79.10" y1="560.90" x2="80.60" y2="560.90" stroke="#333" stroke-width="0.5" />
<text x="78.30" y="562.36" font-size="4.1" text-anchor="end" fill="#333" >Sphingolipid metabolism</text>
<line x1="79.10" y1="568.80" x2="80.60" y2="568.80" stroke="#333" stroke-width="0.5" />
<text x="78.30" y="570.26" font-size="4.1" text-anchor="end" fill="#333" >Thiamine metabolism</text>
<line x1="79.10" y1="576.80" x2="80.60" y2="576.80" stroke="#333" stroke-width="0.5" />
<text x="78.30" y="578.26" font-size="4.1" text-anchor="end" fill="#333" >Biosynthesis of unsaturated fatty acids</text>
<text x="195.30" y="534.21" font-size="4.1" text-anchor="start" fill="#333" >Metabolism</text>
<line x1="91.20" y1="583.80" x2="91.20" y2="609.40" stroke="#E6E6E6" stroke-width="0.5" />
<line x1="101.80" y1="583.80" x2="101.80" y2="609.40" stroke="#E6E6E6" stroke-width="0.5" />
<line x1="112.40" y1="583.80" x2="112.40" y2="609.40" stroke="#E6E6E6" stroke-width="0.5" />
<line x1="123.00" y1="583.80" x2="123.00" y2="609.40" stroke="#E6E6E6" stroke-width="0.5" />
<line x1="134.50" y1="583.80" x2="134.50" y2="609.40" stroke="#E6E6E6" stroke-width="0.5" />
<line x1="145.00" y1="583.80" x2="145.00" y2="609.40" stroke="#E6E6E6" stroke-width="0.5" />
<line x1="155.60" y1="583.80" x2="155.60" y2="609.40" stroke="#E6E6E6" stroke-width="0.5" />
<line x1="166.20" y1="583.80" x2="166.20" y2="609.40" stroke="#E6E6E6" stroke-width="0.5" />
<line x1="176.80" y1="583.80" x2="176.80" y2="609.40" stroke="#E6E6E6" stroke-width="0.5" />
<line x1="188.30" y1="583.80" x2="188.30" y2="609.40" stroke="#E6E6E6" stroke-width="0.5" />
<line x1="80.60" y1="588.80" x2="193.00" y2="588.80" stroke="#E6E6E6" stroke-width="0.5" />
<line x1="80.60" y1="596.70" x2="193.00" y2="596.70" stroke="#E6E6E6" stroke-width="0.5" />
<line x1="80.60" y1="604.60" x2="193.00" y2="604.60" stroke="#E6E6E6" stroke-width="0.5" />
<rect x="80.60" y="583.80" width="112.40" height="25.60" fill="none" stroke="#333" stroke-width="1.5"/>
<line x1="79.10" y1="588.80" x2="80.60" y2="588.80" stroke="#333" stroke-width="0.5" />
<text x="78.30" y="590.26" font-size="4.1" text-anchor="end" fill="#333" >PPAR signaling pathway</text>
<line x1="79.10" y1="596.70" x2="80.60" y2="596.70" stroke="#333" stroke-width="0.5" />
<text x="78.30" y="598.16" font-size="4.1" text-anchor="end" fill="#333" >Serotonergic synapse</text>
<line x1="79.10" y1="604.60" x2="80.60" y2="604.60" stroke="#333" stroke-width="0.5" />
<text x="78.30" y="606.06" font-size="4.1" text-anchor="end" fill="#333" >Vitamin digestion and absorption</text>
<text x="195.30" y="598.06" font-size="4.1" text-anchor="start" fill="#333" >Organismal Systems</text>
<circle cx="187.90" cy="432.50" r="1.10" fill="#B01050"/>
<circle cx="87.20" cy="444.60" r="2.30" fill="#D0106A"/>
<circle cx="107.10" cy="452.70" r="1.10" fill="#A01048"/>
<circle cx="119.50" cy="464.70" r="1.20" fill="#E01030"/>
<circle cx="119.50" cy="476.80" r="1.20" fill="#E01030"/>
<circle cx="89.80" cy="489.00" r="2.30" fill="#D8105A"/>
<circle cx="85.90" cy="497.00" r="1.10" fill="#1A1A90"/>
<circle cx="89.50" cy="505.00" r="1.10" fill="#702080"/>
<circle cx="93.90" cy="512.90" r="1.20" fill="#D01040"/>
<circle cx="91.80" cy="520.80" r="1.10" fill="#B01040"/>
<circle cx="97.10" cy="528.80" r="2.30" fill="#D81038"/>
<circle cx="85.90" cy="537.10" r="1.00" fill="#1A1A90"/>
<circle cx="142.10" cy="545.00" r="3.10" fill="#EE1010"/>
<circle cx="90.70" cy="552.90" r="1.00" fill="#B01040"/>
<circle cx="97.80" cy="560.90" r="1.10" fill="#C01040"/>
<circle cx="94.20" cy="568.80" r="1.10" fill="#B01048"/>
<circle cx="88.20" cy="576.80" r="1.10" fill="#902070"/>
<circle cx="166.20" cy="588.80" r="1.10" fill="#D01030"/>
<circle cx="90.70" cy="596.70" r="1.10" fill="#B01040"/>
<circle cx="91.20" cy="604.60" r="1.10" fill="#B01040"/>
<line x1="101.80" y1="609.40" x2="101.80" y2="610.90" stroke="#333" stroke-width="0.5" />
<text x="101.80" y="614.80" font-size="3.8" text-anchor="middle" fill="#444" >0.05</text>
<line x1="123.00" y1="609.40" x2="123.00" y2="610.90" stroke="#333" stroke-width="0.5" />
<text x="123.00" y="614.80" font-size="3.8" text-anchor="middle" fill="#444" >0.10</text>
<line x1="144.70" y1="609.40" x2="144.70" y2="610.90" stroke="#333" stroke-width="0.5" />
<text x="144.70" y="614.80" font-size="3.8" text-anchor="middle" fill="#444" >0.15</text>
<line x1="166.20" y1="609.40" x2="166.20" y2="610.90" stroke="#333" stroke-width="0.5" />
<text x="166.20" y="614.80" font-size="3.8" text-anchor="middle" fill="#444" >0.20</text>
<line x1="187.80" y1="609.40" x2="187.80" y2="610.90" stroke="#333" stroke-width="0.5" />
<text x="187.80" y="614.80" font-size="3.8" text-anchor="middle" fill="#444" >0.25</text>
<text x="135.30" y="620.30" font-size="5.1" text-anchor="middle" fill="#000" >Enrichment factor</text>
</g>
<text x="0" y="0" font-size="5.6" text-anchor="middle" transform="translate(6.3 519.7) rotate(-90)">Pathway</text>
<text x="274.70" y="474.77" font-size="5.0" text-anchor="start" fill="#000" >Qvalue</text>
<rect x="274.7" y="477.6" width="8.1" height="39.6" fill="url(#qg)"/>
<line x1="274.70" y1="486.10" x2="276.30" y2="486.10" stroke="#fff" stroke-width="0.5" />
<line x1="281.10" y1="486.10" x2="282.80" y2="486.10" stroke="#fff" stroke-width="0.5" />
<text x="284.80" y="487.45" font-size="3.8" text-anchor="start" fill="#333" >0.03</text>
<line x1="274.70" y1="496.50" x2="276.30" y2="496.50" stroke="#fff" stroke-width="0.5" />
<line x1="281.10" y1="496.50" x2="282.80" y2="496.50" stroke="#fff" stroke-width="0.5" />
<text x="284.80" y="497.85" font-size="3.8" text-anchor="start" fill="#333" >0.02</text>
<line x1="274.70" y1="507.10" x2="276.30" y2="507.10" stroke="#fff" stroke-width="0.5" />
<line x1="281.10" y1="507.10" x2="282.80" y2="507.10" stroke="#fff" stroke-width="0.5" />
<text x="284.80" y="508.45" font-size="3.8" text-anchor="start" fill="#333" >0.01</text>
<text x="274.70" y="531.57" font-size="5.0" text-anchor="start" fill="#000" >Number</text>
<circle cx="278.50" cy="538.80" r="0.80" fill="#000"/>
<text x="285.70" y="540.15" font-size="3.8" text-anchor="start" fill="#333" >1</text>
<circle cx="278.50" cy="546.90" r="2.00" fill="#000"/>
<text x="285.70" y="548.25" font-size="3.8" text-anchor="start" fill="#333" >2</text>
<circle cx="278.50" cy="554.80" r="2.60" fill="#000"/>
<text x="285.70" y="556.15" font-size="3.8" text-anchor="start" fill="#333" >3</text>
<circle cx="278.50" cy="562.90" r="3.20" fill="#000"/>
<text x="285.70" y="564.25" font-size="3.8" text-anchor="start" fill="#333" >4</text>
</g>
</svg></div></body></html>
